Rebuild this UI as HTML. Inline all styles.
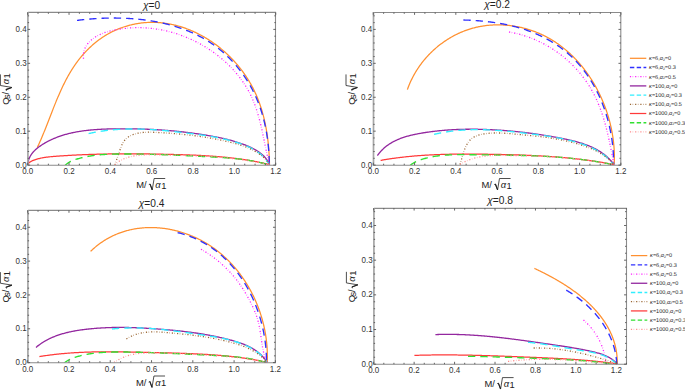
<!DOCTYPE html>
<html><head><meta charset="utf-8"><style>
html,body{margin:0;padding:0;background:#fff;}
body{width:685px;height:390px;overflow:hidden;}
svg{display:block;}
text{font-family:"Liberation Sans",sans-serif;}
.tl text{font-size:8.7px;fill:#333;}
.ti{font-size:10.2px;fill:#222;}
.al text{font-size:9.4px;fill:#222;}
.lg{font-size:5.55px;fill:#222;text-rendering:geometricPrecision;}
.gi{font-style:italic;}
</style></head><body>
<svg width="685" height="390" viewBox="0 0 685 390">
<rect width="685" height="390" fill="#fff"/>
<clipPath id="clip_p1"><rect x="27.70" y="12.44" width="248.04" height="152.66"/></clipPath>
<g clip-path="url(#clip_p1)" fill="none" stroke-linejoin="round">
<path d="M37.30 147.50L37.63 146.80L37.96 146.09L38.29 145.39L38.62 144.68L38.94 143.97L39.27 143.26L39.59 142.55L39.91 141.83L40.22 141.11L40.54 140.39L40.85 139.67L41.17 138.95L41.48 138.23L41.79 137.50L42.09 136.77L42.40 136.04L42.71 135.31L43.01 134.58L43.31 133.85L43.61 133.11L43.92 132.37L44.21 131.64L44.51 130.90L44.81 130.16L45.11 129.42L45.40 128.67L45.70 127.93L45.99 127.19L46.29 126.44L46.58 125.70L46.88 124.95L47.17 124.20L47.46 123.45L47.75 122.70L48.05 121.95L48.34 121.20L48.63 120.45L48.92 119.70L49.21 118.95L49.50 118.19L49.79 117.44L50.09 116.69L50.38 115.93L50.67 115.18L50.96 114.43L51.26 113.67L51.55 112.92L51.84 112.16L52.14 111.41L52.43 110.65L52.73 109.90L53.03 109.14L53.32 108.39L53.62 107.63L53.92 106.88L54.22 106.13L54.52 105.37L54.82 104.62L55.13 103.87L55.43 103.12L55.74 102.37L56.04 101.61L56.35 100.86L56.66 100.11L56.97 99.37L57.29 98.62L57.60 97.87L57.92 97.12L58.24 96.38L58.55 95.63L58.88 94.89L59.20 94.15L59.53 93.41L59.85 92.66L60.18 91.93L60.51 91.19L60.85 90.45L61.18 89.72L61.52 88.98L61.86 88.25L62.21 87.52L62.55 86.79L62.90 86.06L63.25 85.33L63.60 84.61L63.96 83.88L64.32 83.16L64.68 82.44L65.05 81.72L65.41 81.01L65.78 80.29L66.16 79.58L66.54 78.87L66.92 78.16L67.30 77.46L67.68 76.75L68.07 76.05L68.47 75.35L68.86 74.65L69.26 73.96L69.67 73.26L70.08 72.57L70.49 71.89L70.90 71.20L71.32 70.52L71.74 69.84L72.17 69.16L72.60 68.49L73.04 67.81L73.47 67.14L73.92 66.48L74.36 65.81L74.82 65.15L75.27 64.50L75.73 63.84L76.20 63.19L76.67 62.54L77.14 61.90L77.62 61.25L78.10 60.61L78.59 59.98L79.08 59.35L79.57 58.72L80.07 58.09L80.58 57.47L81.09 56.85L81.60 56.24L82.12 55.63L82.64 55.02L83.17 54.42L83.70 53.82L84.23 53.23L84.77 52.63L85.32 52.05L85.86 51.47L86.42 50.89L86.97 50.31L87.53 49.74L88.10 49.18L88.67 48.62L89.24 48.06L89.82 47.51L90.40 46.96L90.99 46.42L91.58 45.88L92.17 45.35L92.77 44.82L93.37 44.30L93.98 43.78L94.59 43.27L95.20 42.76L95.82 42.26L96.44 41.76L97.07 41.27L97.70 40.78L98.34 40.30L98.98 39.83L99.62 39.36L100.27 38.89L100.92 38.43L101.57 37.98L102.23 37.53L102.89 37.09L103.56 36.65L104.23 36.22L104.91 35.80L105.59 35.38L106.27 34.97L106.95 34.56L107.64 34.17L108.34 33.77L109.04 33.39L109.74 33.01L110.44 32.63L111.15 32.26L111.87 31.90L112.58 31.55L113.30 31.20L114.02 30.86L114.75 30.52L115.48 30.19L116.21 29.87L116.95 29.56L117.68 29.25L118.43 28.95L119.17 28.65L119.92 28.36L120.66 28.08L121.42 27.80L122.17 27.53L122.93 27.27L123.68 27.01L124.44 26.76L125.21 26.52L125.97 26.28L126.74 26.05L127.51 25.83L128.28 25.62L129.05 25.41L129.82 25.20L130.60 25.01L131.38 24.82L132.15 24.64L132.93 24.46L133.71 24.29L134.50 24.13L135.28 23.98L136.06 23.83L136.85 23.69L137.63 23.56L138.42 23.43L139.21 23.31L140.00 23.20L140.78 23.09L141.57 22.99L142.36 22.90L143.15 22.82L143.94 22.74L144.73 22.67L145.52 22.61L146.31 22.55L147.10 22.50L147.89 22.46L148.68 22.42L149.47 22.40L150.26 22.37L151.05 22.36L151.84 22.35L152.63 22.35L153.42 22.36L154.21 22.37L154.99 22.39L155.78 22.42L156.57 22.46L157.35 22.50L158.14 22.54L158.93 22.60L159.71 22.66L160.50 22.73L161.28 22.80L162.06 22.88L162.84 22.97L163.63 23.06L164.41 23.16L165.19 23.27L165.97 23.38L166.74 23.50L167.52 23.62L168.30 23.75L169.07 23.89L169.85 24.04L170.62 24.19L171.40 24.34L172.17 24.51L172.94 24.67L173.71 24.85L174.48 25.03L175.24 25.22L176.01 25.41L176.78 25.61L177.54 25.81L178.30 26.03L179.06 26.24L179.82 26.46L180.58 26.69L181.34 26.93L182.09 27.17L182.85 27.41L183.60 27.66L184.35 27.92L185.10 28.18L185.85 28.45L186.59 28.73L187.34 29.00L188.08 29.29L188.82 29.58L189.56 29.88L190.30 30.18L191.04 30.48L191.77 30.80L192.50 31.11L193.23 31.44L193.96 31.76L194.69 32.10L195.41 32.43L196.13 32.78L196.85 33.13L197.57 33.48L198.29 33.84L199.00 34.20L199.71 34.57L200.42 34.95L201.13 35.33L201.84 35.71L202.54 36.10L203.24 36.49L203.94 36.89L204.63 37.29L205.33 37.70L206.02 38.11L206.71 38.53L207.39 38.95L208.08 39.38L208.76 39.81L209.44 40.25L210.11 40.69L210.78 41.14L211.45 41.59L212.12 42.04L212.79 42.50L213.45 42.96L214.11 43.43L214.76 43.90L215.42 44.38L216.07 44.86L216.72 45.34L217.36 45.83L218.00 46.33L218.64 46.82L219.28 47.33L219.91 47.83L220.54 48.34L221.17 48.86L221.79 49.37L222.41 49.90L223.03 50.42L223.64 50.95L224.25 51.49L224.86 52.02L225.46 52.57L226.06 53.11L226.66 53.66L227.25 54.21L227.84 54.77L228.43 55.33L229.01 55.90L229.59 56.46L230.16 57.03L230.74 57.61L231.30 58.19L231.87 58.77L232.43 59.36L232.99 59.94L233.54 60.54L234.09 61.13L234.64 61.73L235.18 62.34L235.72 62.94L236.25 63.55L236.78 64.16L237.31 64.78L237.83 65.40L238.35 66.02L238.86 66.64L239.37 67.27L239.88 67.90L240.38 68.54L240.87 69.18L241.37 69.82L241.86 70.46L242.34 71.11L242.82 71.75L243.30 72.41L243.77 73.06L244.23 73.72L244.70 74.38L245.15 75.04L245.61 75.71L246.06 76.38L246.50 77.05L246.94 77.72L247.38 78.40L247.81 79.08L248.23 79.76L248.65 80.44L249.07 81.13L249.48 81.82L249.89 82.51L250.29 83.20L250.69 83.90L251.08 84.59L251.47 85.30L251.85 86.00L252.23 86.70L252.60 87.41L252.97 88.12L253.33 88.83L253.68 89.54L254.04 90.26L254.38 90.98L254.73 91.70L255.07 92.42L255.40 93.14L255.73 93.87L256.05 94.60L256.37 95.33L256.69 96.06L257.00 96.79L257.30 97.53L257.60 98.26L257.90 99.00L258.19 99.74L258.48 100.48L258.76 101.23L259.04 101.97L259.31 102.72L259.58 103.47L259.85 104.22L260.11 104.97L260.36 105.73L260.62 106.48L260.87 107.24L261.11 108.00L261.35 108.76L261.58 109.52L261.82 110.28L262.04 111.04L262.27 111.81L262.49 112.58L262.70 113.34L262.91 114.11L263.12 114.88L263.33 115.65L263.52 116.43L263.72 117.20L263.91 117.98L264.10 118.75L264.29 119.53L264.47 120.31L264.64 121.09L264.82 121.87L264.99 122.65L265.15 123.43L265.32 124.21L265.47 125.00L265.63 125.78L265.78 126.57L265.93 127.36L266.08 128.14L266.22 128.93L266.35 129.72L266.49 130.51L266.62 131.30L266.75 132.09L266.87 132.88L267.00 133.68L267.11 134.47L267.23 135.26L267.34 136.06L267.45 136.85L267.56 137.65L267.66 138.44L267.76 139.24L267.85 140.04L267.95 140.83L268.04 141.63L268.13 142.43L268.21 143.23L268.29 144.02L268.37 144.82L268.45 145.62L268.52 146.42L268.59 147.22L268.66 148.02L268.72 148.82L268.79 149.62L268.85 150.42L268.90 151.22L268.96 152.02L269.01 152.82L269.06 153.62L269.11 154.42L269.15 155.22L269.19 156.02L269.23 156.82L269.27 157.62L269.30 158.42L269.34 159.21L269.37 160.01L269.39 160.81L269.42 161.61L269.44 162.41L269.46 163.21L269.48 164.00L269.50 164.80" stroke="#ff9030" stroke-width="1.25" stroke-linecap="butt"/>
<path d="M77.00 20.40L77.76 20.31L78.53 20.21L79.29 20.12L80.06 20.03L80.83 19.94L81.60 19.86L82.37 19.77L83.14 19.69L83.92 19.61L84.69 19.53L85.47 19.46L86.25 19.38L87.03 19.31L87.81 19.24L88.59 19.17L89.38 19.10L90.16 19.03L90.95 18.97L91.73 18.91L92.52 18.85L93.31 18.79L94.10 18.73L94.89 18.68L95.69 18.63L96.48 18.58L97.28 18.53L98.07 18.48L98.87 18.44L99.66 18.40L100.46 18.36L101.26 18.32L102.06 18.29L102.86 18.26L103.66 18.23L104.47 18.20L105.27 18.17L106.07 18.15L106.88 18.13L107.68 18.11L108.49 18.09L109.30 18.08L110.10 18.06L110.91 18.05L111.72 18.05L112.53 18.04L113.34 18.04L114.14 18.04L114.95 18.04L115.76 18.04L116.58 18.05L117.39 18.06L118.20 18.07L119.01 18.09L119.82 18.11L120.63 18.12L121.44 18.15L122.26 18.17L123.07 18.20L123.88 18.23L124.69 18.26L125.51 18.30L126.32 18.34L127.13 18.38L127.95 18.42L128.76 18.47L129.57 18.51L130.39 18.57L131.20 18.62L132.01 18.68L132.82 18.74L133.64 18.80L134.45 18.87L135.26 18.93L136.07 19.01L136.88 19.08L137.69 19.16L138.50 19.24L139.31 19.32L140.12 19.41L140.93 19.49L141.74 19.59L142.55 19.68L143.36 19.78L144.17 19.88L144.97 19.98L145.78 20.09L146.59 20.20L147.39 20.31L148.20 20.43L149.00 20.55L149.80 20.67L150.61 20.80L151.41 20.93L152.21 21.06L153.01 21.19L153.81 21.33L154.61 21.47L155.41 21.62L156.20 21.77L157.00 21.92L157.79 22.07L158.59 22.23L159.38 22.39L160.17 22.56L160.96 22.73L161.75 22.90L162.54 23.07L163.33 23.25L164.11 23.43L164.90 23.62L165.68 23.81L166.47 24.00L167.25 24.19L168.03 24.39L168.81 24.60L169.58 24.80L170.36 25.01L171.14 25.23L171.91 25.44L172.68 25.66L173.45 25.89L174.22 26.12L174.99 26.35L175.75 26.58L176.52 26.82L177.28 27.07L178.04 27.31L178.80 27.56L179.56 27.82L180.32 28.07L181.07 28.34L181.82 28.60L182.57 28.87L183.32 29.14L184.07 29.42L184.81 29.70L185.56 29.99L186.30 30.28L187.04 30.57L187.78 30.86L188.51 31.17L189.25 31.47L189.98 31.78L190.71 32.09L191.43 32.41L192.16 32.73L192.88 33.05L193.60 33.38L194.32 33.71L195.04 34.05L195.75 34.39L196.47 34.74L197.17 35.09L197.88 35.44L198.59 35.80L199.29 36.16L199.99 36.53L200.69 36.90L201.38 37.27L202.08 37.65L202.77 38.03L203.46 38.42L204.14 38.81L204.82 39.21L205.50 39.61L206.18 40.01L206.86 40.42L207.53 40.84L208.20 41.26L208.86 41.68L209.53 42.11L210.19 42.54L210.85 42.97L211.50 43.41L212.16 43.86L212.81 44.31L213.45 44.76L214.10 45.22L214.74 45.68L215.38 46.15L216.01 46.62L216.64 47.10L217.27 47.58L217.90 48.06L218.52 48.55L219.14 49.04L219.76 49.54L220.37 50.04L220.98 50.55L221.59 51.06L222.19 51.57L222.80 52.09L223.39 52.61L223.99 53.14L224.58 53.67L225.17 54.20L225.75 54.74L226.33 55.28L226.91 55.82L227.49 56.37L228.06 56.92L228.63 57.48L229.19 58.04L229.75 58.60L230.31 59.17L230.87 59.74L231.42 60.32L231.96 60.90L232.51 61.48L233.05 62.07L233.59 62.65L234.12 63.25L234.65 63.84L235.18 64.44L235.70 65.05L236.22 65.65L236.73 66.26L237.24 66.88L237.75 67.49L238.26 68.11L238.76 68.73L239.25 69.36L239.75 69.99L240.23 70.62L240.72 71.26L241.20 71.90L241.68 72.54L242.15 73.18L242.62 73.83L243.09 74.48L243.55 75.14L244.01 75.79L244.46 76.45L244.91 77.12L245.36 77.78L245.80 78.45L246.24 79.12L246.67 79.80L247.10 80.47L247.53 81.15L247.95 81.83L248.37 82.52L248.78 83.21L249.19 83.90L249.60 84.59L250.00 85.29L250.39 85.98L250.79 86.68L251.17 87.39L251.56 88.09L251.94 88.80L252.31 89.51L252.68 90.22L253.05 90.94L253.41 91.66L253.77 92.38L254.12 93.10L254.47 93.82L254.82 94.55L255.16 95.28L255.49 96.01L255.82 96.74L256.15 97.47L256.47 98.21L256.79 98.95L257.10 99.69L257.41 100.43L257.71 101.18L258.01 101.93L258.31 102.67L258.60 103.43L258.89 104.18L259.17 104.93L259.44 105.69L259.72 106.45L259.99 107.20L260.25 107.97L260.51 108.73L260.77 109.49L261.02 110.26L261.27 111.02L261.51 111.79L261.75 112.56L261.98 113.33L262.22 114.11L262.44 114.88L262.66 115.66L262.88 116.43L263.10 117.21L263.31 117.99L263.51 118.77L263.72 119.55L263.92 120.33L264.11 121.12L264.30 121.90L264.49 122.69L264.67 123.47L264.85 124.26L265.02 125.05L265.20 125.84L265.36 126.63L265.53 127.42L265.69 128.21L265.84 129.00L265.99 129.79L266.14 130.58L266.29 131.38L266.43 132.17L266.57 132.97L266.70 133.76L266.83 134.56L266.96 135.35L267.08 136.15L267.20 136.95L267.32 137.75L267.43 138.54L267.54 139.34L267.64 140.14L267.75 140.94L267.84 141.74L267.94 142.53L268.03 143.33L268.12 144.13L268.21 144.93L268.29 145.73L268.37 146.53L268.44 147.33L268.51 148.12L268.58 148.92L268.65 149.72L268.71 150.52L268.77 151.32L268.82 152.11L268.88 152.91L268.93 153.71L268.97 154.50L269.01 155.30L269.05 156.09L269.09 156.89L269.13 157.68L269.16 158.48L269.18 159.27L269.21 160.06L269.23 160.85L269.25 161.64L269.27 162.43L269.28 163.22L269.29 164.01L269.30 164.80" stroke="#3030ff" stroke-width="1.35" stroke-dasharray="7.3 5.0" stroke-linecap="butt"/>
<path d="M83.50 58.80L83.42 57.90L83.37 57.02L83.36 56.15L83.38 55.29L83.43 54.46L83.52 53.64L83.64 52.83L83.79 52.04L83.97 51.27L84.18 50.51L84.41 49.77L84.68 49.04L84.97 48.33L85.29 47.63L85.63 46.95L85.99 46.28L86.38 45.63L86.79 44.99L87.23 44.37L87.68 43.76L88.15 43.17L88.65 42.59L89.16 42.03L89.68 41.48L90.23 40.94L90.79 40.42L91.36 39.92L91.95 39.42L92.55 38.94L93.17 38.48L93.79 38.03L94.43 37.59L95.08 37.17L95.74 36.75L96.40 36.36L97.08 35.97L97.77 35.60L98.46 35.24L99.17 34.89L99.88 34.55L100.60 34.22L101.33 33.91L102.07 33.60L102.81 33.31L103.56 33.02L104.31 32.75L105.07 32.49L105.84 32.23L106.61 31.99L107.39 31.75L108.17 31.52L108.96 31.31L109.75 31.10L110.54 30.89L111.34 30.70L112.13 30.51L112.94 30.34L113.74 30.16L114.54 30.00L115.35 29.84L116.16 29.69L116.97 29.54L117.78 29.40L118.59 29.27L119.40 29.14L120.21 29.02L121.01 28.90L121.82 28.79L122.63 28.68L123.44 28.58L124.25 28.48L125.06 28.39L125.87 28.31L126.68 28.23L127.49 28.16L128.29 28.09L129.10 28.02L129.91 27.97L130.72 27.91L131.52 27.87L132.33 27.83L133.14 27.79L133.94 27.76L134.75 27.73L135.55 27.71L136.36 27.70L137.16 27.69L137.97 27.69L138.77 27.69L139.58 27.69L140.38 27.71L141.18 27.72L141.98 27.74L142.78 27.77L143.58 27.80L144.38 27.84L145.18 27.89L145.98 27.93L146.78 27.99L147.58 28.05L148.37 28.11L149.17 28.18L149.97 28.25L150.76 28.33L151.56 28.41L152.35 28.50L153.14 28.60L153.93 28.70L154.72 28.80L155.51 28.91L156.30 29.02L157.09 29.14L157.88 29.27L158.66 29.40L159.45 29.53L160.23 29.67L161.02 29.81L161.80 29.96L162.58 30.12L163.36 30.27L164.14 30.44L164.92 30.61L165.69 30.78L166.47 30.96L167.24 31.14L168.02 31.33L168.79 31.52L169.56 31.72L170.33 31.92L171.10 32.13L171.87 32.34L172.63 32.56L173.40 32.78L174.16 33.00L174.92 33.23L175.68 33.47L176.44 33.71L177.20 33.95L177.96 34.20L178.71 34.46L179.47 34.72L180.22 34.98L180.97 35.25L181.72 35.52L182.47 35.80L183.21 36.08L183.96 36.36L184.70 36.66L185.44 36.95L186.18 37.25L186.92 37.55L187.66 37.86L188.39 38.18L189.13 38.50L189.86 38.82L190.59 39.14L191.32 39.48L192.04 39.81L192.77 40.15L193.49 40.50L194.21 40.85L194.93 41.20L195.64 41.56L196.36 41.92L197.07 42.29L197.78 42.66L198.49 43.03L199.20 43.41L199.91 43.79L200.61 44.18L201.31 44.57L202.01 44.97L202.71 45.37L203.40 45.78L204.09 46.19L204.78 46.60L205.47 47.02L206.15 47.44L206.84 47.86L207.52 48.29L208.19 48.73L208.87 49.17L209.54 49.61L210.21 50.06L210.88 50.51L211.54 50.96L212.20 51.42L212.86 51.88L213.52 52.35L214.17 52.82L214.82 53.29L215.47 53.77L216.11 54.25L216.75 54.74L217.39 55.23L218.03 55.72L218.66 56.22L219.29 56.72L219.91 57.23L220.54 57.74L221.16 58.25L221.77 58.77L222.38 59.29L222.99 59.81L223.60 60.34L224.20 60.87L224.80 61.41L225.39 61.95L225.99 62.49L226.57 63.03L227.16 63.59L227.74 64.14L228.31 64.70L228.89 65.26L229.46 65.82L230.02 66.39L230.58 66.96L231.14 67.54L231.69 68.12L232.24 68.70L232.79 69.28L233.33 69.87L233.87 70.47L234.40 71.06L234.93 71.66L235.45 72.26L235.97 72.87L236.49 73.48L237.00 74.09L237.51 74.71L238.01 75.33L238.51 75.95L239.00 76.58L239.49 77.21L239.97 77.84L240.45 78.48L240.93 79.12L241.40 79.76L241.86 80.41L242.33 81.06L242.78 81.71L243.23 82.37L243.68 83.02L244.12 83.69L244.56 84.35L244.99 85.02L245.41 85.69L245.84 86.36L246.25 87.04L246.66 87.72L247.07 88.41L247.47 89.09L247.86 89.78L248.25 90.47L248.64 91.17L249.02 91.87L249.39 92.57L249.76 93.27L250.12 93.98L250.48 94.69L250.83 95.40L251.17 96.12L251.51 96.84L251.85 97.56L252.18 98.28L252.50 99.01L252.82 99.74L253.13 100.47L253.44 101.21L253.74 101.95L254.03 102.69L254.32 103.43L254.61 104.17L254.89 104.92L255.17 105.67L255.44 106.42L255.71 107.18L255.97 107.93L256.23 108.69L256.48 109.45L256.73 110.21L256.97 110.97L257.22 111.74L257.45 112.51L257.69 113.27L257.92 114.05L258.14 114.82L258.36 115.59L258.58 116.37L258.80 117.14L259.01 117.92L259.22 118.70L259.43 119.48L259.63 120.26L259.83 121.04L260.03 121.82L260.22 122.61L260.42 123.39L260.61 124.18L260.79 124.97L260.98 125.75L261.16 126.54L261.34 127.33L261.52 128.12L261.70 128.91L261.88 129.70L262.05 130.49L262.22 131.28L262.39 132.07L262.56 132.87L262.73 133.66L262.90 134.45L263.06 135.24L263.23 136.03L263.39 136.82L263.55 137.62L263.72 138.41L263.88 139.20L264.04 139.99L264.20 140.78L264.36 141.57L264.52 142.36L264.68 143.15L264.84 143.94L265.00 144.73L265.16 145.51L265.32 146.30L265.48 147.09L265.64 147.87L265.80 148.66L265.96 149.44L266.13 150.22L266.29 151.00L266.46 151.78L266.62 152.56L266.79 153.34L266.96 154.11L267.13 154.89L267.30 155.66L267.47 156.43L267.65 157.20L267.82 157.97L268.00 158.74L268.18 159.50L268.36 160.26L268.54 161.02L268.73 161.78L268.92 162.54L269.11 163.30L269.30 164.05L269.50 164.80" stroke="#ff1aff" stroke-width="1.3" stroke-dasharray="1.2 1.6 0.45 1.95" stroke-linecap="butt"/>
<path d="M27.70 165.10L27.76 164.22L27.86 163.36L28.00 162.53L28.16 161.71L28.36 160.91L28.58 160.12L28.83 159.36L29.11 158.61L29.42 157.89L29.75 157.17L30.11 156.48L30.49 155.80L30.89 155.14L31.32 154.49L31.77 153.85L32.23 153.23L32.72 152.63L33.22 152.04L33.75 151.46L34.29 150.90L34.84 150.35L35.41 149.81L35.99 149.28L36.59 148.76L37.19 148.26L37.81 147.76L38.44 147.28L39.08 146.81L39.72 146.34L40.38 145.89L41.03 145.44L41.70 145.00L42.37 144.57L43.04 144.15L43.71 143.74L44.39 143.33L45.08 142.93L45.76 142.54L46.45 142.15L47.14 141.77L47.84 141.40L48.54 141.04L49.24 140.68L49.95 140.33L50.66 139.99L51.37 139.66L52.08 139.33L52.80 139.01L53.52 138.69L54.25 138.38L54.97 138.08L55.70 137.78L56.44 137.49L57.17 137.21L57.91 136.93L58.65 136.66L59.39 136.40L60.14 136.14L60.88 135.89L61.63 135.64L62.39 135.40L63.14 135.16L63.90 134.93L64.66 134.71L65.42 134.49L66.19 134.28L66.95 134.07L67.72 133.87L68.49 133.67L69.26 133.48L70.04 133.29L70.81 133.11L71.59 132.93L72.37 132.76L73.15 132.59L73.94 132.43L74.72 132.27L75.51 132.12L76.30 131.97L77.09 131.83L77.88 131.69L78.67 131.55L79.47 131.42L80.26 131.30L81.06 131.17L81.86 131.05L82.66 130.94L83.46 130.83L84.26 130.72L85.07 130.62L85.87 130.52L86.68 130.42L87.48 130.33L88.29 130.24L89.10 130.16L89.91 130.08L90.72 130.00L91.53 129.92L92.34 129.85L93.15 129.78L93.96 129.72L94.78 129.65L95.59 129.59L96.40 129.54L97.22 129.48L98.03 129.43L98.85 129.38L99.66 129.33L100.48 129.29L101.30 129.25L102.11 129.21L102.93 129.17L103.75 129.14L104.56 129.10L105.38 129.07L106.20 129.04L107.01 129.02L107.83 128.99L108.65 128.97L109.46 128.95L110.28 128.93L111.09 128.91L111.91 128.89L112.72 128.88L113.54 128.86L114.35 128.85L115.17 128.84L115.98 128.83L116.79 128.82L117.60 128.81L118.41 128.80L119.22 128.80L120.03 128.79L120.84 128.79L121.65 128.78L122.46 128.78L123.26 128.78L124.07 128.78L124.88 128.78L125.68 128.78L126.49 128.78L127.29 128.79L128.09 128.79L128.90 128.80L129.70 128.80L130.50 128.81L131.30 128.82L132.10 128.83L132.90 128.84L133.70 128.85L134.50 128.87L135.30 128.88L136.10 128.90L136.90 128.91L137.69 128.93L138.49 128.95L139.29 128.97L140.08 128.99L140.88 129.01L141.68 129.03L142.47 129.06L143.27 129.08L144.06 129.11L144.85 129.14L145.65 129.17L146.44 129.20L147.23 129.23L148.03 129.26L148.82 129.29L149.61 129.33L150.40 129.36L151.19 129.40L151.99 129.44L152.78 129.48L153.57 129.52L154.36 129.56L155.15 129.60L155.94 129.65L156.73 129.69L157.52 129.74L158.31 129.79L159.10 129.84L159.89 129.89L160.67 129.94L161.46 129.99L162.25 130.05L163.04 130.10L163.83 130.16L164.62 130.22L165.41 130.28L166.19 130.34L166.98 130.40L167.77 130.46L168.56 130.53L169.35 130.59L170.13 130.66L170.92 130.73L171.71 130.80L172.50 130.87L173.29 130.94L174.07 131.02L174.86 131.09L175.65 131.17L176.44 131.24L177.23 131.32L178.01 131.40L178.80 131.49L179.59 131.57L180.38 131.65L181.17 131.74L181.96 131.83L182.74 131.92L183.53 132.01L184.32 132.10L185.11 132.19L185.90 132.29L186.69 132.38L187.48 132.48L188.27 132.58L189.06 132.68L189.85 132.78L190.64 132.88L191.43 132.99L192.22 133.10L193.01 133.20L193.81 133.31L194.60 133.42L195.39 133.53L196.18 133.65L196.97 133.76L197.77 133.88L198.56 134.00L199.36 134.12L200.15 134.24L200.94 134.36L201.74 134.48L202.53 134.61L203.33 134.74L204.12 134.87L204.92 135.00L205.72 135.13L206.51 135.26L207.31 135.40L208.11 135.53L208.91 135.67L209.71 135.81L210.51 135.95L211.31 136.09L212.11 136.24L212.91 136.39L213.71 136.53L214.51 136.68L215.31 136.84L216.11 136.99L216.91 137.15L217.71 137.31L218.51 137.47L219.31 137.63L220.11 137.80L220.91 137.97L221.71 138.14L222.50 138.31L223.30 138.49L224.10 138.67L224.89 138.85L225.68 139.04L226.48 139.23L227.27 139.42L228.06 139.62L228.85 139.82L229.64 140.02L230.42 140.23L231.21 140.44L231.99 140.65L232.77 140.87L233.55 141.09L234.33 141.31L235.11 141.54L235.88 141.78L236.65 142.02L237.42 142.26L238.19 142.51L238.95 142.76L239.72 143.01L240.48 143.27L241.23 143.54L241.99 143.81L242.74 144.08L243.49 144.36L244.24 144.65L244.98 144.94L245.72 145.23L246.46 145.53L247.19 145.84L247.92 146.15L248.65 146.46L249.37 146.79L250.10 147.11L250.81 147.45L251.53 147.79L252.23 148.13L252.94 148.49L253.64 148.85L254.33 149.22L255.02 149.59L255.70 149.98L256.37 150.37L257.03 150.78L257.69 151.19L258.34 151.62L258.98 152.06L259.61 152.51L260.23 152.97L260.84 153.44L261.44 153.93L262.03 154.43L262.61 154.94L263.18 155.47L263.73 156.01L264.27 156.57L264.80 157.14L265.31 157.73L265.81 158.33L266.30 158.96L266.77 159.60L267.22 160.25L267.66 160.93L268.08 161.62L268.49 162.34L268.88 163.07L269.25 163.83L269.60 164.60" stroke="#93279f" stroke-width="1.3" stroke-linecap="butt"/>
<path d="M88.60 133.60L89.40 133.42L90.20 133.25L90.99 133.07L91.79 132.91L92.59 132.74L93.39 132.58L94.18 132.43L94.98 132.28L95.78 132.13L96.58 131.98L97.37 131.84L98.17 131.71L98.97 131.57L99.76 131.45L100.56 131.32L101.36 131.20L102.15 131.08L102.95 130.97L103.75 130.85L104.54 130.75L105.34 130.64L106.13 130.54L106.93 130.44L107.73 130.35L108.52 130.26L109.32 130.17L110.11 130.09L110.91 130.01L111.70 129.93L112.50 129.86L113.29 129.78L114.09 129.72L114.88 129.65L115.68 129.59L116.47 129.53L117.27 129.48L118.06 129.42L118.86 129.37L119.65 129.33L120.45 129.28L121.24 129.24L122.04 129.21L122.83 129.17L123.63 129.14L124.42 129.11L125.22 129.08L126.01 129.06L126.81 129.04L127.60 129.02L128.40 129.00L129.19 128.99L129.99 128.98L130.78 128.97L131.58 128.97L132.37 128.96L133.16 128.96L133.96 128.96L134.75 128.97L135.55 128.97L136.34 128.98L137.14 129.00L137.93 129.01L138.73 129.02L139.52 129.04L140.32 129.06L141.11 129.09L141.91 129.11L142.70 129.14L143.50 129.17L144.29 129.20L145.09 129.23L145.88 129.26L146.68 129.30L147.47 129.34L148.27 129.38L149.07 129.42L149.86 129.47L150.66 129.52L151.45 129.56L152.25 129.61L153.04 129.67L153.84 129.72L154.64 129.77L155.43 129.83L156.23 129.89L157.03 129.95L157.82 130.01L158.62 130.08L159.41 130.14L160.21 130.21L161.01 130.27L161.81 130.34L162.60 130.41L163.40 130.49L164.20 130.56L164.99 130.63L165.79 130.71L166.59 130.79L167.39 130.87L168.19 130.95L168.98 131.03L169.78 131.11L170.58 131.19L171.38 131.28L172.18 131.36L172.98 131.45L173.78 131.53L174.58 131.62L175.38 131.71L176.17 131.80L176.97 131.89L177.77 131.98L178.57 132.08L179.37 132.17L180.18 132.26L180.98 132.36L181.78 132.46L182.58 132.55L183.38 132.65L184.18 132.75L184.98 132.84L185.78 132.94L186.59 133.04L187.39 133.14L188.19 133.24L188.99 133.34L189.80 133.45L190.60 133.55L191.40 133.65L192.21 133.75L193.01 133.86L193.81 133.96L194.62 134.06L195.42 134.17L196.22 134.28L197.03 134.38L197.83 134.49L198.63 134.60L199.44 134.71L200.24 134.82L201.04 134.94L201.85 135.05L202.65 135.16L203.45 135.28L204.25 135.40L205.06 135.52L205.86 135.64L206.66 135.77L207.46 135.89L208.26 136.02L209.06 136.15L209.86 136.28L210.66 136.41L211.45 136.54L212.25 136.68L213.05 136.82L213.84 136.96L214.64 137.11L215.43 137.25L216.23 137.40L217.02 137.55L217.81 137.71L218.60 137.87L219.39 138.03L220.18 138.19L220.97 138.35L221.76 138.52L222.55 138.69L223.33 138.87L224.12 139.04L224.90 139.23L225.68 139.41L226.46 139.60L227.24 139.79L228.02 139.98L228.80 140.18L229.57 140.38L230.35 140.59L231.12 140.80L231.89 141.01L232.66 141.23L233.43 141.45L234.20 141.67L234.96 141.90L235.73 142.13L236.49 142.37L237.25 142.61L238.01 142.86L238.77 143.11L239.53 143.36L240.28 143.62L241.03 143.88L241.78 144.15L242.53 144.42L243.28 144.70L244.02 144.99L244.76 145.28L245.50 145.58L246.23 145.88L246.96 146.19L247.68 146.50L248.41 146.83L249.12 147.16L249.83 147.49L250.54 147.84L251.24 148.19L251.94 148.55L252.63 148.92L253.31 149.30L253.99 149.69L254.66 150.08L255.33 150.49L255.99 150.90L256.64 151.33L257.28 151.76L257.92 152.21L258.55 152.66L259.17 153.13L259.78 153.60L260.38 154.09L260.98 154.59L261.56 155.10L262.14 155.63L262.71 156.16L263.26 156.71L263.81 157.27L264.35 157.84L264.87 158.43L265.39 159.02L265.89 159.64L266.39 160.26L266.87 160.90L267.34 161.56L267.80 162.23L268.24 162.91L268.67 163.61L269.10 164.32L269.50 165.05" stroke="#30eeff" stroke-width="1.35" stroke-dasharray="7.3 5.0" stroke-linecap="butt"/>
<path d="M115.00 165.00L115.21 164.24L115.42 163.48L115.65 162.73L115.88 161.98L116.12 161.24L116.36 160.49L116.61 159.75L116.86 159.00L117.12 158.26L117.38 157.51L117.64 156.76L117.91 156.00L118.17 155.24L118.44 154.47L118.71 153.70L118.97 152.92L119.24 152.13L119.50 151.34L119.77 150.54L120.04 149.74L120.32 148.94L120.61 148.15L120.90 147.36L121.20 146.58L121.52 145.80L121.85 145.04L122.19 144.30L122.55 143.57L122.93 142.86L123.33 142.17L123.75 141.50L124.19 140.86L124.66 140.24L125.15 139.66L125.67 139.10L126.22 138.58L126.79 138.08L127.38 137.61L128.00 137.17L128.63 136.75L129.28 136.36L129.95 135.99L130.63 135.65L131.32 135.32L132.02 135.02L132.74 134.74L133.46 134.47L134.19 134.22L134.93 133.99L135.67 133.78L136.42 133.58L137.18 133.40L137.94 133.23L138.70 133.08L139.48 132.94L140.25 132.82L141.04 132.70L141.82 132.61L142.62 132.52L143.41 132.44L144.21 132.38L145.01 132.32L145.82 132.28L146.63 132.25L147.44 132.22L148.26 132.20L149.07 132.20L149.89 132.19L150.71 132.20L151.54 132.21L152.36 132.23L153.18 132.25L154.01 132.28L154.84 132.31L155.66 132.35L156.49 132.39L157.31 132.43L158.14 132.48L158.96 132.53L159.79 132.58L160.61 132.63L161.43 132.68L162.25 132.73L163.06 132.78L163.88 132.83L164.70 132.89L165.51 132.94L166.32 132.99L167.13 133.05L167.94 133.11L168.75 133.17L169.56 133.22L170.37 133.28L171.17 133.35L171.98 133.41L172.78 133.47L173.58 133.53L174.39 133.60L175.19 133.67L175.99 133.73L176.78 133.80L177.58 133.87L178.38 133.94L179.18 134.01L179.97 134.09L180.76 134.16L181.56 134.24L182.35 134.31L183.14 134.39L183.93 134.47L184.72 134.55L185.51 134.63L186.30 134.72L187.09 134.80L187.88 134.89L188.67 134.98L189.45 135.07L190.24 135.16L191.03 135.25L191.81 135.35L192.60 135.44L193.38 135.54L194.17 135.64L194.95 135.74L195.73 135.84L196.51 135.94L197.30 136.05L198.08 136.16L198.86 136.26L199.64 136.37L200.42 136.49L201.21 136.60L201.99 136.72L202.77 136.84L203.55 136.95L204.33 137.08L205.11 137.20L205.89 137.33L206.67 137.45L207.45 137.58L208.23 137.71L209.01 137.85L209.79 137.98L210.57 138.12L211.35 138.26L212.14 138.40L212.92 138.54L213.70 138.69L214.48 138.84L215.26 138.99L216.04 139.14L216.83 139.29L217.61 139.45L218.39 139.61L219.17 139.77L219.96 139.93L220.74 140.10L221.53 140.27L222.31 140.44L223.10 140.61L223.88 140.79L224.67 140.96L225.45 141.14L226.24 141.33L227.03 141.51L227.82 141.70L228.61 141.89L229.40 142.08L230.19 142.28L230.98 142.47L231.77 142.67L232.56 142.88L233.35 143.09L234.14 143.30L234.93 143.51L235.72 143.73L236.51 143.95L237.30 144.18L238.09 144.41L238.87 144.64L239.65 144.88L240.43 145.13L241.21 145.38L241.99 145.63L242.76 145.89L243.53 146.16L244.29 146.43L245.06 146.71L245.82 147.00L246.57 147.29L247.32 147.59L248.07 147.90L248.81 148.21L249.55 148.53L250.28 148.86L251.00 149.20L251.72 149.54L252.44 149.90L253.15 150.26L253.85 150.63L254.55 151.01L255.24 151.39L255.92 151.79L256.59 152.20L257.26 152.61L257.92 153.04L258.57 153.47L259.22 153.92L259.85 154.38L260.48 154.84L261.10 155.32L261.71 155.81L262.31 156.31L262.90 156.82L263.48 157.34L264.05 157.88L264.61 158.43L265.16 158.98L265.70 159.56L266.23 160.14L266.74 160.74L267.25 161.35L267.74 161.97L268.23 162.61L268.70 163.26L269.15 163.92L269.60 164.60" stroke="#9a6633" stroke-width="1.3" stroke-dasharray="1.2 1.6 0.45 1.95" stroke-linecap="butt"/>
<path d="M27.70 165.10L27.96 164.34L28.33 163.67L28.77 163.08L29.29 162.56L29.87 162.11L30.49 161.70L31.16 161.34L31.85 161.00L32.56 160.69L33.28 160.40L34.00 160.12L34.73 159.86L35.47 159.60L36.21 159.36L36.96 159.14L37.71 158.92L38.46 158.72L39.23 158.53L39.99 158.35L40.76 158.17L41.54 158.01L42.31 157.86L43.10 157.72L43.88 157.58L44.67 157.46L45.46 157.34L46.26 157.22L47.05 157.12L47.85 157.02L48.65 156.93L49.46 156.84L50.26 156.75L51.07 156.68L51.88 156.60L52.69 156.53L53.50 156.46L54.31 156.40L55.12 156.33L55.93 156.27L56.74 156.21L57.55 156.16L58.36 156.10L59.17 156.04L59.98 155.98L60.79 155.93L61.60 155.87L62.41 155.82L63.21 155.77L64.02 155.72L64.83 155.66L65.64 155.61L66.45 155.56L67.25 155.52L68.06 155.47L68.87 155.42L69.67 155.37L70.48 155.33L71.28 155.28L72.09 155.24L72.89 155.20L73.70 155.15L74.50 155.11L75.31 155.07L76.11 155.03L76.91 154.99L77.72 154.95L78.52 154.91L79.32 154.88L80.13 154.84L80.93 154.81L81.73 154.77L82.53 154.74L83.34 154.70L84.14 154.67L84.94 154.64L85.74 154.61L86.54 154.57L87.34 154.54L88.14 154.52L88.94 154.49L89.74 154.46L90.54 154.43L91.34 154.40L92.14 154.38L92.94 154.35L93.74 154.33L94.54 154.30L95.34 154.28L96.14 154.26L96.94 154.24L97.74 154.21L98.54 154.19L99.33 154.17L100.13 154.15L100.93 154.14L101.73 154.12L102.53 154.10L103.32 154.08L104.12 154.07L104.92 154.05L105.72 154.03L106.51 154.02L107.31 154.01L108.11 153.99L108.91 153.98L109.70 153.97L110.50 153.96L111.30 153.94L112.09 153.93L112.89 153.92L113.69 153.91L114.48 153.90L115.28 153.90L116.08 153.89L116.87 153.88L117.67 153.87L118.46 153.87L119.26 153.86L120.06 153.86L120.85 153.85L121.65 153.85L122.45 153.84L123.24 153.84L124.04 153.84L124.83 153.84L125.63 153.84L126.42 153.83L127.22 153.83L128.02 153.83L128.81 153.83L129.61 153.83L130.40 153.84L131.20 153.84L132.00 153.84L132.79 153.84L133.59 153.84L134.38 153.85L135.18 153.85L135.98 153.86L136.77 153.86L137.57 153.87L138.36 153.87L139.16 153.88L139.96 153.88L140.75 153.89L141.55 153.90L142.34 153.91L143.14 153.91L143.94 153.92L144.73 153.93L145.53 153.94L146.33 153.95L147.12 153.96L147.92 153.97L148.72 153.98L149.52 153.99L150.31 154.00L151.11 154.02L151.91 154.03L152.70 154.04L153.50 154.05L154.30 154.07L155.10 154.08L155.90 154.09L156.69 154.11L157.49 154.12L158.29 154.14L159.09 154.15L159.89 154.17L160.69 154.18L161.48 154.20L162.28 154.22L163.08 154.23L163.88 154.25L164.68 154.27L165.48 154.29L166.28 154.30L167.08 154.32L167.88 154.34L168.68 154.36L169.48 154.38L170.28 154.40L171.08 154.42L171.89 154.44L172.69 154.46L173.49 154.48L174.29 154.50L175.09 154.52L175.89 154.54L176.70 154.56L177.50 154.58L178.30 154.61L179.10 154.63L179.90 154.65L180.71 154.68L181.51 154.70L182.31 154.73L183.12 154.75L183.92 154.78L184.72 154.80L185.53 154.83L186.33 154.86L187.13 154.89L187.93 154.92L188.74 154.95L189.54 154.98L190.34 155.01L191.15 155.04L191.95 155.07L192.75 155.10L193.56 155.14L194.36 155.17L195.16 155.21L195.97 155.24L196.77 155.28L197.57 155.32L198.38 155.36L199.18 155.40L199.98 155.44L200.79 155.48L201.59 155.52L202.39 155.57L203.20 155.61L204.00 155.66L204.80 155.70L205.60 155.75L206.41 155.80L207.21 155.85L208.01 155.90L208.81 155.95L209.61 156.00L210.41 156.06L211.22 156.11L212.02 156.17L212.82 156.23L213.62 156.28L214.42 156.34L215.22 156.40L216.02 156.47L216.82 156.53L217.62 156.60L218.42 156.66L219.22 156.73L220.02 156.80L220.82 156.87L221.62 156.94L222.42 157.01L223.21 157.09L224.01 157.16L224.81 157.24L225.61 157.32L226.40 157.40L227.20 157.48L228.00 157.56L228.79 157.65L229.59 157.73L230.39 157.82L231.18 157.91L231.98 158.00L232.77 158.09L233.56 158.19L234.36 158.28L235.15 158.38L235.95 158.48L236.74 158.58L237.53 158.68L238.32 158.79L239.11 158.90L239.91 159.00L240.70 159.11L241.49 159.22L242.28 159.34L243.07 159.45L243.85 159.57L244.64 159.69L245.43 159.81L246.22 159.93L247.01 160.06L247.79 160.18L248.58 160.31L249.36 160.44L250.15 160.58L250.93 160.71L251.72 160.85L252.50 160.99L253.29 161.13L254.07 161.27L254.85 161.42L255.63 161.56L256.41 161.71L257.19 161.86L257.97 162.02L258.75 162.17L259.53 162.33L260.31 162.49L261.09 162.65L261.86 162.82L262.64 162.99L263.42 163.16L264.19 163.33L264.97 163.50L265.74 163.68L266.51 163.86L267.29 164.04L268.06 164.22L268.83 164.41L269.60 164.60" stroke="#ff3a3a" stroke-width="1.25" stroke-linecap="butt"/>
<path d="M65.00 165.60L65.55 165.02L66.12 164.48L66.71 163.97L67.32 163.49L67.94 163.04L68.59 162.61L69.25 162.21L69.92 161.83L70.61 161.47L71.31 161.13L72.02 160.81L72.74 160.51L73.47 160.23L74.20 159.95L74.94 159.69L75.69 159.45L76.44 159.21L77.20 158.98L77.96 158.75L78.71 158.53L79.48 158.32L80.24 158.12L81.00 157.92L81.77 157.73L82.54 157.54L83.31 157.37L84.08 157.19L84.86 157.02L85.63 156.86L86.41 156.71L87.19 156.56L87.97 156.41L88.75 156.27L89.53 156.14L90.32 156.01L91.10 155.89L91.89 155.77L92.68 155.65L93.47 155.54L94.26 155.44L95.05 155.34L95.85 155.24L96.64 155.15L97.44 155.07L98.24 154.98L99.03 154.91L99.83 154.83L100.63 154.76L101.43 154.70L102.24 154.63L103.04 154.57L103.84 154.52L104.64 154.47L105.45 154.42L106.25 154.37L107.06 154.33L107.87 154.29L108.67 154.25L109.48 154.22L110.29 154.19L111.10 154.16L111.90 154.14L112.71 154.11L113.52 154.09L114.33 154.07L115.14 154.06L115.95 154.04L116.76 154.03L117.57 154.02L118.38 154.01L119.19 154.00L120.00 154.00L120.81 153.99L121.62 153.99L122.43 153.99L123.24 153.99L124.05 153.99L124.85 153.99L125.66 153.99L126.47 154.00L127.28 154.00L128.09 154.01L128.89 154.01L129.70 154.02L130.50 154.02L131.31 154.03L132.12 154.04L132.92 154.05L133.72 154.06L134.53 154.07L135.33 154.08L136.14 154.09L136.94 154.10L137.74 154.11L138.54 154.12L139.34 154.13L140.15 154.15L140.95 154.16L141.75 154.18L142.55 154.19L143.35 154.21L144.15 154.22L144.95 154.24L145.75 154.26L146.55 154.27L147.35 154.29L148.14 154.31L148.94 154.33L149.74 154.35L150.54 154.37L151.34 154.39L152.13 154.41L152.93 154.43L153.73 154.45L154.53 154.47L155.32 154.50L156.12 154.52L156.92 154.54L157.71 154.57L158.51 154.59L159.30 154.62L160.10 154.64L160.89 154.67L161.69 154.70L162.49 154.72L163.28 154.75L164.08 154.78L164.87 154.80L165.67 154.83L166.46 154.86L167.26 154.89L168.05 154.92L168.84 154.95L169.64 154.98L170.43 155.01L171.23 155.04L172.02 155.07L172.82 155.10L173.61 155.13L174.41 155.17L175.20 155.20L176.00 155.23L176.79 155.27L177.58 155.30L178.38 155.33L179.17 155.37L179.97 155.40L180.76 155.44L181.56 155.47L182.35 155.51L183.15 155.54L183.94 155.58L184.74 155.61L185.53 155.65L186.33 155.69L187.12 155.73L187.92 155.76L188.71 155.80L189.51 155.84L190.30 155.88L191.10 155.91L191.90 155.95L192.69 155.99L193.49 156.03L194.29 156.07L195.08 156.11L195.88 156.15L196.68 156.19L197.47 156.23L198.27 156.27L199.07 156.31L199.87 156.35L200.67 156.39L201.46 156.43L202.26 156.47L203.06 156.52L203.86 156.56L204.66 156.60L205.46 156.64L206.26 156.68L207.06 156.73L207.86 156.77L208.66 156.81L209.46 156.85L210.26 156.90L211.07 156.94L211.87 156.98L212.67 157.03L213.47 157.07L214.28 157.12L215.08 157.16L215.88 157.21L216.69 157.25L217.49 157.30L218.29 157.35L219.10 157.39L219.90 157.44L220.70 157.49L221.51 157.54L222.31 157.60L223.12 157.65L223.92 157.70L224.72 157.76L225.53 157.82L226.33 157.87L227.13 157.93L227.94 158.00L228.74 158.06L229.54 158.12L230.34 158.19L231.14 158.26L231.95 158.33L232.75 158.40L233.55 158.47L234.35 158.55L235.15 158.63L235.95 158.71L236.75 158.79L237.55 158.87L238.35 158.96L239.14 159.05L239.94 159.14L240.74 159.24L241.53 159.33L242.33 159.43L243.12 159.53L243.92 159.64L244.71 159.75L245.50 159.86L246.30 159.97L247.09 160.09L247.88 160.21L248.67 160.33L249.46 160.46L250.25 160.59L251.03 160.72L251.82 160.86L252.60 161.00L253.39 161.14L254.17 161.29L254.95 161.44L255.74 161.60L256.52 161.75L257.30 161.92L258.07 162.08L258.85 162.25L259.63 162.43L260.40 162.61L261.18 162.79L261.95 162.98L262.72 163.17L263.49 163.37L264.26 163.57L265.02 163.77L265.79 163.98L266.56 164.19L267.32 164.41L268.08 164.64L268.84 164.87L269.60 165.10" stroke="#30e030" stroke-width="1.35" stroke-dasharray="7.3 5.0" stroke-linecap="butt"/>
<path d="M115.00 165.00L115.50 164.40L116.03 163.82L116.59 163.27L117.17 162.75L117.78 162.25L118.41 161.78L119.07 161.32L119.74 160.89L120.43 160.48L121.13 160.10L121.85 159.73L122.58 159.38L123.32 159.04L124.08 158.73L124.84 158.43L125.60 158.15L126.37 157.88L127.15 157.62L127.92 157.38L128.70 157.15L129.47 156.94L130.25 156.73L131.03 156.54L131.81 156.36L132.59 156.19L133.38 156.03L134.16 155.89L134.95 155.75L135.73 155.62L136.52 155.50L137.31 155.39L138.10 155.29L138.89 155.20L139.68 155.12L140.47 155.04L141.27 154.98L142.06 154.92L142.85 154.86L143.65 154.82L144.44 154.78L145.24 154.74L146.04 154.71L146.84 154.69L147.64 154.67L148.43 154.66L149.23 154.65L150.03 154.65L150.83 154.65L151.64 154.65L152.44 154.66L153.24 154.67L154.04 154.68L154.84 154.69L155.65 154.71L156.45 154.72L157.25 154.74L158.06 154.76L158.86 154.78L159.66 154.80L160.47 154.82L161.27 154.84L162.07 154.86L162.88 154.88L163.68 154.90L164.49 154.92L165.29 154.93L166.09 154.95L166.90 154.97L167.70 154.99L168.51 155.01L169.31 155.03L170.12 155.05L170.92 155.07L171.73 155.09L172.53 155.11L173.33 155.13L174.14 155.15L174.94 155.16L175.75 155.19L176.55 155.21L177.36 155.23L178.16 155.25L178.97 155.27L179.77 155.29L180.57 155.31L181.38 155.33L182.18 155.36L182.99 155.38L183.79 155.40L184.60 155.43L185.40 155.45L186.20 155.48L187.01 155.50L187.81 155.53L188.62 155.55L189.42 155.58L190.22 155.61L191.03 155.64L191.83 155.67L192.64 155.69L193.44 155.72L194.24 155.76L195.05 155.79L195.85 155.82L196.65 155.85L197.46 155.89L198.26 155.92L199.06 155.96L199.86 155.99L200.67 156.03L201.47 156.07L202.27 156.11L203.07 156.15L203.88 156.19L204.68 156.23L205.48 156.28L206.28 156.32L207.08 156.36L207.89 156.41L208.69 156.46L209.49 156.51L210.29 156.56L211.09 156.61L211.89 156.66L212.69 156.71L213.49 156.77L214.29 156.82L215.09 156.88L215.89 156.94L216.69 157.00L217.49 157.06L218.29 157.12L219.09 157.18L219.89 157.25L220.68 157.32L221.48 157.38L222.28 157.45L223.08 157.52L223.88 157.60L224.67 157.67L225.47 157.74L226.27 157.82L227.06 157.90L227.86 157.98L228.66 158.06L229.45 158.15L230.25 158.23L231.04 158.32L231.84 158.41L232.63 158.50L233.43 158.59L234.22 158.68L235.02 158.78L235.81 158.87L236.60 158.97L237.40 159.07L238.19 159.18L238.98 159.28L239.77 159.39L240.56 159.50L241.36 159.61L242.15 159.72L242.94 159.84L243.73 159.95L244.52 160.07L245.31 160.19L246.10 160.32L246.89 160.44L247.67 160.57L248.46 160.70L249.25 160.83L250.04 160.97L250.83 161.10L251.61 161.24L252.40 161.38L253.19 161.52L253.97 161.67L254.76 161.82L255.54 161.97L256.33 162.12L257.11 162.27L257.89 162.43L258.68 162.59L259.46 162.75L260.24 162.92L261.03 163.09L261.81 163.26L262.59 163.43L263.37 163.60L264.15 163.78L264.93 163.96L265.71 164.14L266.49 164.33L267.27 164.52L268.05 164.71L268.82 164.90L269.60 165.10" stroke="#ff8a8a" stroke-width="1.3" stroke-dasharray="1.2 1.6 0.45 1.95" stroke-linecap="butt"/>
</g>
<path d="M27.90 12.40H275.50V165.30H27.90" fill="none" stroke="#8a8a8a" stroke-width="1.1"/>
<path d="M27.90 11.90V165.80" fill="none" stroke="#a6a6a6" stroke-width="1.7"/>
<path d="M27.70 165.10v-2.40M27.70 12.44v2.40M38.03 165.10v-1.40M38.03 12.44v1.40M48.37 165.10v-1.40M48.37 12.44v1.40M58.70 165.10v-1.40M58.70 12.44v1.40M69.04 165.10v-2.40M69.04 12.44v2.40M79.38 165.10v-1.40M79.38 12.44v1.40M89.71 165.10v-1.40M89.71 12.44v1.40M100.05 165.10v-1.40M100.05 12.44v1.40M110.38 165.10v-2.40M110.38 12.44v2.40M120.72 165.10v-1.40M120.72 12.44v1.40M131.05 165.10v-1.40M131.05 12.44v1.40M141.38 165.10v-1.40M141.38 12.44v1.40M151.72 165.10v-2.40M151.72 12.44v2.40M162.05 165.10v-1.40M162.05 12.44v1.40M172.39 165.10v-1.40M172.39 12.44v1.40M182.72 165.10v-1.40M182.72 12.44v1.40M193.06 165.10v-2.40M193.06 12.44v2.40M203.40 165.10v-1.40M203.40 12.44v1.40M213.73 165.10v-1.40M213.73 12.44v1.40M224.06 165.10v-1.40M224.06 12.44v1.40M234.40 165.10v-2.40M234.40 12.44v2.40M244.73 165.10v-1.40M244.73 12.44v1.40M255.07 165.10v-1.40M255.07 12.44v1.40M265.41 165.10v-1.40M265.41 12.44v1.40M275.74 165.10v-2.40M275.74 12.44v2.40M27.70 165.10h2.40M275.74 165.10h-2.40M27.70 158.31h1.40M275.74 158.31h-1.40M27.70 151.53h1.40M275.74 151.53h-1.40M27.70 144.75h1.40M275.74 144.75h-1.40M27.70 137.96h1.40M275.74 137.96h-1.40M27.70 131.17h2.40M275.74 131.17h-2.40M27.70 124.39h1.40M275.74 124.39h-1.40M27.70 117.60h1.40M275.74 117.60h-1.40M27.70 110.82h1.40M275.74 110.82h-1.40M27.70 104.03h1.40M275.74 104.03h-1.40M27.70 97.25h2.40M275.74 97.25h-2.40M27.70 90.46h1.40M275.74 90.46h-1.40M27.70 83.68h1.40M275.74 83.68h-1.40M27.70 76.89h1.40M275.74 76.89h-1.40M27.70 70.11h1.40M275.74 70.11h-1.40M27.70 63.33h2.40M275.74 63.33h-2.40M27.70 56.54h1.40M275.74 56.54h-1.40M27.70 49.75h1.40M275.74 49.75h-1.40M27.70 42.97h1.40M275.74 42.97h-1.40M27.70 36.19h1.40M275.74 36.19h-1.40M27.70 29.40h2.40M275.74 29.40h-2.40M27.70 22.62h1.40M275.74 22.62h-1.40M27.70 15.83h1.40M275.74 15.83h-1.40" stroke="#555" stroke-width="0.9" fill="none"/>
<g class="tl"><text x="27.70" y="174.00" text-anchor="middle" textLength="11.1" lengthAdjust="spacingAndGlyphs">0.0</text><text x="69.04" y="174.00" text-anchor="middle" textLength="11.1" lengthAdjust="spacingAndGlyphs">0.2</text><text x="110.38" y="174.00" text-anchor="middle" textLength="11.1" lengthAdjust="spacingAndGlyphs">0.4</text><text x="151.72" y="174.00" text-anchor="middle" textLength="11.1" lengthAdjust="spacingAndGlyphs">0.6</text><text x="193.06" y="174.00" text-anchor="middle" textLength="11.1" lengthAdjust="spacingAndGlyphs">0.8</text><text x="234.40" y="174.00" text-anchor="middle" textLength="11.1" lengthAdjust="spacingAndGlyphs">1.0</text><text x="275.74" y="174.00" text-anchor="middle" textLength="11.1" lengthAdjust="spacingAndGlyphs">1.2</text><text x="26.60" y="167.70" text-anchor="end" textLength="11.1" lengthAdjust="spacingAndGlyphs">0.0</text><text x="26.60" y="133.77" text-anchor="end" textLength="11.1" lengthAdjust="spacingAndGlyphs">0.1</text><text x="26.60" y="99.85" text-anchor="end" textLength="11.1" lengthAdjust="spacingAndGlyphs">0.2</text><text x="26.60" y="65.92" text-anchor="end" textLength="11.1" lengthAdjust="spacingAndGlyphs">0.3</text><text x="26.60" y="32.00" text-anchor="end" textLength="11.1" lengthAdjust="spacingAndGlyphs">0.4</text></g>
<text class="ti" x="151.60" y="8.50" text-anchor="middle"><tspan class="gi">&#967;</tspan>=0</text>
<g class="al" transform="translate(136.82 188.00)"><text x="-0.7" y="0">M/</text><path d="M12.00 -3.40 L13.20 -4.00 L15.40 1.90 L17.30 -9.50 H28.40" fill="none" stroke="#222" stroke-width="0.8" stroke-linejoin="miter" stroke-miterlimit="10"/><path d="M13.20 -4.00 L15.40 1.90" fill="none" stroke="#222" stroke-width="1.1"/><text x="18.50" y="0" font-style="italic">&#945;</text><text x="24.40" y="0.8" font-size="6.2">1</text></g>
<g class="al" transform="translate(9.10 104.42) rotate(-90)"><text x="-0.4" y="0">Q</text><text x="5.4" y="1.3" font-size="5.8">s</text><text x="9.9" y="-0.2" font-size="8.4">/</text><path d="M13.60 -2.60 L14.80 -3.20 L17.00 2.70 L18.90 -8.70 H30.00" fill="none" stroke="#222" stroke-width="0.8" stroke-linejoin="miter" stroke-miterlimit="10"/><path d="M14.80 -3.20 L17.00 2.70" fill="none" stroke="#222" stroke-width="1.1"/><text x="20.10" y="0" font-style="italic">&#945;</text><text x="26.00" y="0.8" font-size="6.2">1</text></g>
<clipPath id="clip_p2"><rect x="373.30" y="12.44" width="247.56" height="152.66"/></clipPath>
<g clip-path="url(#clip_p2)" fill="none" stroke-linejoin="round">
<path d="M407.40 89.60L407.67 88.84L407.95 88.07L408.23 87.31L408.52 86.55L408.82 85.80L409.12 85.05L409.43 84.30L409.74 83.55L410.06 82.81L410.39 82.07L410.73 81.33L411.07 80.60L411.42 79.87L411.77 79.14L412.13 78.42L412.49 77.69L412.86 76.98L413.24 76.26L413.63 75.55L414.01 74.84L414.41 74.14L414.81 73.44L415.22 72.74L415.63 72.05L416.05 71.36L416.47 70.67L416.90 69.99L417.34 69.31L417.78 68.64L418.22 67.97L418.68 67.30L419.13 66.63L419.60 65.97L420.06 65.32L420.54 64.67L421.02 64.02L421.50 63.37L421.99 62.73L422.48 62.10L422.98 61.47L423.49 60.84L423.99 60.21L424.51 59.60L425.03 58.98L425.55 58.37L426.08 57.76L426.62 57.16L427.15 56.56L427.70 55.97L428.24 55.38L428.80 54.80L429.35 54.22L429.92 53.64L430.48 53.07L431.05 52.51L431.63 51.95L432.21 51.39L432.79 50.84L433.38 50.29L433.97 49.75L434.57 49.21L435.17 48.68L435.78 48.15L436.39 47.63L437.00 47.11L437.62 46.60L438.24 46.09L438.86 45.59L439.49 45.09L440.13 44.60L440.76 44.12L441.41 43.63L442.05 43.16L442.70 42.69L443.35 42.22L444.01 41.76L444.67 41.31L445.33 40.86L445.99 40.42L446.66 39.98L447.34 39.55L448.01 39.12L448.69 38.70L449.38 38.28L450.06 37.87L450.75 37.47L451.45 37.07L452.14 36.68L452.84 36.29L453.54 35.91L454.25 35.54L454.96 35.17L455.67 34.80L456.38 34.45L457.10 34.10L457.82 33.75L458.54 33.41L459.26 33.08L459.99 32.76L460.72 32.44L461.46 32.12L462.19 31.82L462.93 31.52L463.67 31.22L464.41 30.93L465.16 30.65L465.91 30.38L466.66 30.11L467.41 29.85L468.16 29.59L468.92 29.34L469.68 29.10L470.44 28.86L471.20 28.64L471.97 28.41L472.74 28.20L473.50 27.99L474.28 27.79L475.05 27.60L475.82 27.41L476.60 27.23L477.38 27.05L478.16 26.89L478.94 26.73L479.72 26.57L480.50 26.43L481.29 26.29L482.08 26.15L482.87 26.02L483.65 25.90L484.44 25.79L485.24 25.68L486.03 25.58L486.82 25.49L487.62 25.40L488.41 25.32L489.21 25.25L490.01 25.18L490.80 25.12L491.60 25.07L492.40 25.02L493.20 24.98L494.00 24.94L494.80 24.91L495.60 24.89L496.40 24.88L497.20 24.87L498.01 24.86L498.81 24.87L499.61 24.88L500.41 24.89L501.21 24.92L502.01 24.94L502.82 24.98L503.62 25.02L504.42 25.07L505.22 25.12L506.02 25.18L506.82 25.25L507.62 25.32L508.42 25.40L509.22 25.48L510.01 25.58L510.81 25.67L511.61 25.78L512.40 25.88L513.20 26.00L513.99 26.12L514.78 26.25L515.57 26.38L516.36 26.52L517.15 26.67L517.94 26.82L518.73 26.98L519.51 27.14L520.30 27.31L521.08 27.48L521.86 27.67L522.64 27.85L523.42 28.05L524.20 28.25L524.97 28.45L525.74 28.66L526.51 28.88L527.28 29.10L528.05 29.33L528.81 29.56L529.58 29.80L530.34 30.04L531.10 30.30L531.85 30.55L532.61 30.81L533.36 31.08L534.11 31.36L534.86 31.63L535.60 31.92L536.34 32.21L537.08 32.51L537.82 32.81L538.55 33.11L539.28 33.43L540.01 33.75L540.73 34.07L541.46 34.40L542.18 34.73L542.89 35.07L543.61 35.42L544.32 35.77L545.02 36.13L545.73 36.49L546.43 36.85L547.13 37.23L547.82 37.60L548.51 37.98L549.20 38.37L549.89 38.76L550.57 39.16L551.25 39.56L551.93 39.97L552.60 40.38L553.27 40.80L553.94 41.22L554.61 41.65L555.27 42.08L555.93 42.52L556.58 42.96L557.23 43.41L557.88 43.86L558.53 44.32L559.17 44.78L559.81 45.24L560.45 45.71L561.08 46.18L561.71 46.66L562.33 47.15L562.96 47.63L563.58 48.13L564.19 48.62L564.81 49.12L565.42 49.63L566.02 50.14L566.63 50.65L567.23 51.17L567.82 51.69L568.42 52.22L569.01 52.75L569.59 53.28L570.18 53.82L570.76 54.36L571.34 54.91L571.91 55.46L572.48 56.01L573.05 56.57L573.61 57.14L574.17 57.70L574.72 58.27L575.28 58.85L575.83 59.42L576.37 60.00L576.91 60.59L577.45 61.18L577.99 61.77L578.52 62.36L579.05 62.96L579.57 63.57L580.10 64.17L580.61 64.78L581.13 65.40L581.64 66.01L582.15 66.63L582.65 67.26L583.15 67.88L583.65 68.51L584.14 69.15L584.63 69.78L585.12 70.42L585.60 71.06L586.08 71.71L586.55 72.36L587.02 73.01L587.49 73.66L587.95 74.32L588.41 74.98L588.87 75.65L589.32 76.31L589.77 76.98L590.22 77.65L590.66 78.33L591.10 79.01L591.53 79.69L591.96 80.37L592.39 81.06L592.81 81.74L593.23 82.44L593.64 83.13L594.06 83.83L594.46 84.52L594.87 85.22L595.27 85.93L595.66 86.63L596.05 87.34L596.44 88.05L596.83 88.77L597.21 89.48L597.58 90.20L597.96 90.92L598.33 91.64L598.69 92.36L599.05 93.09L599.41 93.82L599.76 94.55L600.11 95.28L600.46 96.01L600.80 96.75L601.14 97.49L601.47 98.23L601.80 98.97L602.12 99.71L602.44 100.46L602.76 101.20L603.08 101.95L603.38 102.70L603.69 103.46L603.99 104.21L604.29 104.97L604.58 105.72L604.87 106.48L605.15 107.24L605.43 108.00L605.71 108.76L605.98 109.53L606.25 110.29L606.51 111.06L606.77 111.83L607.03 112.60L607.28 113.37L607.53 114.14L607.77 114.92L608.01 115.69L608.24 116.47L608.47 117.24L608.70 118.02L608.92 118.80L609.14 119.58L609.35 120.36L609.56 121.14L609.77 121.92L609.97 122.71L610.16 123.49L610.36 124.27L610.54 125.06L610.73 125.85L610.91 126.63L611.08 127.42L611.25 128.21L611.42 129.00L611.58 129.79L611.73 130.58L611.89 131.37L612.03 132.16L612.18 132.95L612.32 133.74L612.45 134.53L612.58 135.33L612.71 136.12L612.83 136.91L612.95 137.71L613.06 138.50L613.17 139.29L613.27 140.09L613.37 140.88L613.47 141.68L613.56 142.47L613.64 143.26L613.72 144.06L613.80 144.85L613.87 145.65L613.94 146.44L614.00 147.23L614.06 148.03L614.11 148.82L614.16 149.61L614.20 150.41L614.24 151.20L614.28 151.99L614.31 152.78L614.33 153.58L614.36 154.37L614.37 155.16L614.38 155.95L614.39 156.74L614.39 157.53L614.39 158.32L614.38 159.10L614.37 159.89L614.35 160.68L614.33 161.46L614.31 162.25L614.27 163.03L614.24 163.82L614.20 164.60" stroke="#ff9030" stroke-width="1.25" stroke-linecap="butt"/>
<path d="M463.40 20.00L464.18 20.02L464.97 20.05L465.75 20.08L466.54 20.10L467.32 20.13L468.11 20.17L468.90 20.20L469.69 20.24L470.48 20.28L471.28 20.32L472.07 20.36L472.86 20.41L473.66 20.45L474.46 20.50L475.25 20.55L476.05 20.61L476.85 20.66L477.65 20.72L478.45 20.78L479.25 20.85L480.05 20.91L480.85 20.98L481.65 21.05L482.45 21.13L483.25 21.20L484.05 21.28L484.86 21.36L485.66 21.45L486.46 21.53L487.27 21.62L488.07 21.71L488.87 21.81L489.68 21.91L490.48 22.01L491.29 22.11L492.09 22.22L492.89 22.33L493.70 22.44L494.50 22.55L495.30 22.67L496.11 22.79L496.91 22.92L497.71 23.05L498.51 23.18L499.31 23.31L500.11 23.45L500.92 23.59L501.72 23.73L502.52 23.88L503.31 24.03L504.11 24.18L504.91 24.34L505.71 24.50L506.50 24.66L507.30 24.83L508.09 25.00L508.89 25.18L509.68 25.35L510.47 25.54L511.26 25.72L512.05 25.91L512.84 26.10L513.63 26.30L514.42 26.50L515.20 26.70L515.99 26.91L516.77 27.12L517.55 27.34L518.33 27.56L519.11 27.78L519.89 28.01L520.66 28.24L521.44 28.48L522.21 28.71L522.98 28.96L523.75 29.21L524.52 29.46L525.29 29.71L526.05 29.97L526.82 30.24L527.58 30.50L528.34 30.77L529.10 31.05L529.85 31.33L530.61 31.61L531.36 31.90L532.11 32.19L532.86 32.49L533.60 32.79L534.35 33.09L535.09 33.40L535.83 33.72L536.57 34.03L537.30 34.35L538.04 34.68L538.77 35.01L539.50 35.34L540.22 35.68L540.95 36.02L541.67 36.36L542.39 36.71L543.11 37.07L543.82 37.42L544.53 37.79L545.24 38.15L545.95 38.52L546.65 38.90L547.36 39.28L548.05 39.66L548.75 40.05L549.44 40.44L550.13 40.83L550.82 41.23L551.51 41.64L552.19 42.05L552.87 42.46L553.54 42.88L554.22 43.30L554.89 43.72L555.55 44.15L556.22 44.58L556.88 45.02L557.53 45.46L558.19 45.91L558.84 46.36L559.49 46.82L560.13 47.27L560.77 47.74L561.41 48.21L562.04 48.68L562.68 49.15L563.30 49.63L563.93 50.12L564.55 50.61L565.16 51.10L565.78 51.60L566.39 52.10L566.99 52.61L567.59 53.12L568.19 53.63L568.79 54.15L569.38 54.68L569.96 55.20L570.54 55.74L571.12 56.27L571.70 56.81L572.27 57.36L572.84 57.91L573.40 58.46L573.96 59.02L574.52 59.58L575.07 60.15L575.61 60.72L576.16 61.29L576.70 61.87L577.23 62.45L577.77 63.04L578.29 63.63L578.82 64.22L579.34 64.82L579.86 65.42L580.37 66.02L580.88 66.63L581.38 67.24L581.88 67.86L582.38 68.48L582.87 69.10L583.36 69.72L583.85 70.35L584.33 70.99L584.81 71.62L585.28 72.26L585.75 72.90L586.22 73.55L586.68 74.20L587.14 74.85L587.59 75.51L588.04 76.17L588.49 76.83L588.93 77.50L589.37 78.16L589.80 78.84L590.23 79.51L590.66 80.19L591.08 80.87L591.50 81.55L591.92 82.24L592.33 82.92L592.73 83.62L593.14 84.31L593.54 85.01L593.93 85.71L594.32 86.41L594.71 87.11L595.10 87.82L595.47 88.53L595.85 89.24L596.22 89.96L596.59 90.67L596.95 91.39L597.32 92.11L597.67 92.84L598.02 93.56L598.37 94.29L598.72 95.02L599.06 95.76L599.39 96.49L599.73 97.23L600.06 97.97L600.38 98.71L600.70 99.45L601.02 100.20L601.33 100.94L601.64 101.69L601.95 102.44L602.25 103.20L602.54 103.95L602.84 104.71L603.13 105.46L603.41 106.22L603.69 106.99L603.97 107.75L604.25 108.51L604.52 109.28L604.78 110.05L605.04 110.81L605.30 111.58L605.56 112.36L605.81 113.13L606.05 113.90L606.29 114.68L606.53 115.46L606.77 116.23L607.00 117.01L607.22 117.79L607.45 118.58L607.67 119.36L607.88 120.14L608.09 120.93L608.30 121.71L608.50 122.50L608.70 123.29L608.89 124.07L609.09 124.86L609.27 125.65L609.46 126.44L609.64 127.23L609.81 128.03L609.98 128.82L610.15 129.61L610.31 130.41L610.47 131.20L610.63 132.00L610.78 132.79L610.93 133.59L611.07 134.38L611.21 135.18L611.35 135.98L611.48 136.77L611.61 137.57L611.73 138.37L611.85 139.17L611.97 139.97L612.08 140.76L612.19 141.56L612.29 142.36L612.39 143.16L612.49 143.96L612.58 144.76L612.67 145.56L612.75 146.35L612.83 147.15L612.91 147.95L612.98 148.75L613.05 149.54L613.11 150.34L613.17 151.14L613.23 151.94L613.28 152.73L613.33 153.53L613.38 154.32L613.42 155.12L613.46 155.91L613.49 156.70L613.52 157.50L613.54 158.29L613.56 159.08L613.58 159.87L613.59 160.66L613.60 161.45L613.61 162.24L613.61 163.03L613.61 163.81L613.60 164.60" stroke="#3030ff" stroke-width="1.35" stroke-dasharray="7.3 5.0" stroke-linecap="butt"/>
<path d="M509.00 32.00L509.79 32.14L510.59 32.28L511.38 32.42L512.17 32.58L512.96 32.74L513.74 32.90L514.53 33.07L515.31 33.25L516.10 33.43L516.88 33.61L517.66 33.81L518.44 34.00L519.21 34.21L519.99 34.42L520.76 34.63L521.54 34.85L522.31 35.08L523.08 35.31L523.84 35.55L524.61 35.79L525.37 36.03L526.14 36.29L526.90 36.54L527.65 36.81L528.41 37.08L529.17 37.35L529.92 37.63L530.67 37.91L531.42 38.20L532.16 38.50L532.91 38.80L533.65 39.10L534.39 39.41L535.13 39.72L535.87 40.04L536.60 40.37L537.33 40.70L538.06 41.03L538.79 41.37L539.51 41.72L540.24 42.07L540.96 42.42L541.67 42.78L542.39 43.14L543.10 43.51L543.81 43.89L544.52 44.26L545.23 44.65L545.93 45.04L546.63 45.43L547.33 45.82L548.02 46.23L548.71 46.63L549.40 47.04L550.09 47.46L550.77 47.88L551.45 48.30L552.13 48.73L552.81 49.16L553.48 49.60L554.15 50.04L554.81 50.49L555.48 50.94L556.14 51.40L556.79 51.86L557.45 52.32L558.10 52.79L558.75 53.26L559.39 53.74L560.03 54.22L560.67 54.70L561.31 55.19L561.94 55.69L562.57 56.18L563.19 56.68L563.81 57.19L564.43 57.70L565.05 58.21L565.66 58.73L566.27 59.25L566.87 59.78L567.47 60.31L568.07 60.84L568.66 61.38L569.25 61.92L569.84 62.46L570.42 63.01L571.00 63.56L571.58 64.12L572.15 64.68L572.71 65.24L573.28 65.81L573.84 66.38L574.39 66.95L574.95 67.53L575.49 68.11L576.04 68.70L576.58 69.29L577.11 69.88L577.64 70.48L578.17 71.07L578.70 71.68L579.22 72.28L579.73 72.89L580.24 73.51L580.75 74.12L581.25 74.74L581.75 75.36L582.24 75.99L582.73 76.62L583.22 77.25L583.70 77.89L584.17 78.53L584.64 79.17L585.11 79.81L585.57 80.46L586.03 81.11L586.48 81.77L586.93 82.42L587.38 83.08L587.82 83.75L588.25 84.41L588.68 85.08L589.11 85.76L589.53 86.43L589.94 87.11L590.35 87.79L590.76 88.47L591.16 89.16L591.55 89.85L591.94 90.54L592.33 91.24L592.71 91.93L593.09 92.63L593.46 93.34L593.82 94.04L594.18 94.75L594.54 95.46L594.89 96.17L595.24 96.89L595.58 97.60L595.92 98.32L596.26 99.05L596.59 99.77L596.91 100.50L597.23 101.23L597.55 101.96L597.86 102.69L598.17 103.42L598.48 104.16L598.78 104.90L599.07 105.64L599.37 106.38L599.66 107.13L599.94 107.87L600.22 108.62L600.50 109.37L600.77 110.12L601.04 110.88L601.31 111.63L601.57 112.39L601.83 113.15L602.09 113.91L602.34 114.67L602.59 115.43L602.84 116.19L603.08 116.96L603.32 117.72L603.56 118.49L603.80 119.26L604.03 120.03L604.26 120.80L604.48 121.57L604.70 122.35L604.92 123.12L605.14 123.90L605.36 124.67L605.57 125.45L605.78 126.23L605.99 127.01L606.19 127.79L606.39 128.57L606.59 129.35L606.79 130.13L606.98 130.91L607.18 131.70L607.37 132.48L607.56 133.27L607.74 134.05L607.93 134.84L608.11 135.62L608.29 136.41L608.47 137.19L608.65 137.98L608.83 138.77L609.00 139.55L609.17 140.34L609.34 141.13L609.51 141.91L609.68 142.70L609.85 143.49L610.01 144.28L610.18 145.06L610.34 145.85L610.50 146.64L610.66 147.42L610.82 148.21L610.98 149.00L611.13 149.78L611.29 150.57L611.44 151.35L611.60 152.14L611.75 152.92L611.91 153.70L612.06 154.49L612.21 155.27L612.36 156.05L612.51 156.83L612.66 157.61L612.81 158.39L612.96 159.17L613.11 159.95L613.26 160.73L613.40 161.50L613.55 162.28L613.70 163.05L613.85 163.83L614.00 164.60" stroke="#ff1aff" stroke-width="1.3" stroke-dasharray="1.2 1.6 0.45 1.95" stroke-linecap="butt"/>
<path d="M377.40 155.60L377.88 154.92L378.38 154.25L378.88 153.60L379.39 152.96L379.92 152.34L380.45 151.73L380.99 151.13L381.53 150.55L382.09 149.97L382.65 149.42L383.23 148.87L383.81 148.33L384.40 147.81L384.99 147.30L385.60 146.80L386.21 146.32L386.83 145.84L387.46 145.38L388.09 144.93L388.73 144.48L389.38 144.05L390.03 143.63L390.69 143.22L391.35 142.82L392.03 142.43L392.70 142.05L393.39 141.68L394.08 141.32L394.77 140.97L395.47 140.63L396.18 140.29L396.89 139.97L397.61 139.65L398.33 139.34L399.05 139.05L399.79 138.75L400.52 138.47L401.26 138.19L402.00 137.93L402.75 137.67L403.50 137.41L404.25 137.17L405.01 136.93L405.77 136.69L406.54 136.47L407.31 136.24L408.08 136.03L408.85 135.82L409.63 135.62L410.41 135.42L411.19 135.23L411.97 135.04L412.76 134.86L413.55 134.69L414.34 134.51L415.13 134.35L415.92 134.18L416.71 134.03L417.51 133.87L418.31 133.72L419.10 133.57L419.90 133.43L420.70 133.29L421.50 133.15L422.30 133.01L423.10 132.88L423.90 132.75L424.70 132.63L425.50 132.50L426.30 132.38L427.10 132.26L427.90 132.15L428.71 132.03L429.51 131.92L430.31 131.81L431.11 131.70L431.91 131.60L432.71 131.50L433.51 131.40L434.32 131.30L435.12 131.21L435.92 131.12L436.72 131.03L437.52 130.94L438.33 130.86L439.13 130.77L439.93 130.69L440.73 130.62L441.53 130.54L442.34 130.47L443.14 130.40L443.94 130.33L444.74 130.26L445.55 130.20L446.35 130.13L447.15 130.07L447.95 130.02L448.76 129.96L449.56 129.91L450.36 129.86L451.17 129.81L451.97 129.76L452.77 129.71L453.57 129.67L454.38 129.63L455.18 129.59L455.98 129.56L456.78 129.52L457.59 129.49L458.39 129.46L459.19 129.43L459.99 129.40L460.80 129.38L461.60 129.35L462.40 129.33L463.20 129.31L464.00 129.30L464.81 129.28L465.61 129.27L466.41 129.25L467.21 129.24L468.01 129.24L468.81 129.23L469.62 129.22L470.42 129.22L471.22 129.22L472.02 129.22L472.82 129.22L473.62 129.23L474.42 129.23L475.22 129.24L476.02 129.25L476.82 129.26L477.62 129.27L478.43 129.29L479.23 129.30L480.03 129.32L480.82 129.34L481.62 129.36L482.42 129.38L483.22 129.40L484.02 129.43L484.82 129.45L485.62 129.48L486.42 129.51L487.22 129.54L488.01 129.57L488.81 129.61L489.61 129.64L490.41 129.68L491.21 129.72L492.00 129.76L492.80 129.80L493.60 129.84L494.39 129.88L495.19 129.93L495.99 129.97L496.78 130.02L497.58 130.07L498.37 130.12L499.17 130.17L499.96 130.22L500.76 130.27L501.55 130.33L502.35 130.38L503.14 130.44L503.94 130.50L504.73 130.56L505.52 130.62L506.32 130.69L507.11 130.75L507.91 130.82L508.70 130.88L509.49 130.95L510.29 131.02L511.08 131.09L511.87 131.17L512.67 131.24L513.46 131.31L514.25 131.39L515.04 131.47L515.84 131.55L516.63 131.63L517.42 131.71L518.22 131.79L519.01 131.88L519.80 131.96L520.59 132.05L521.39 132.14L522.18 132.23L522.97 132.32L523.76 132.41L524.56 132.50L525.35 132.60L526.14 132.70L526.93 132.79L527.73 132.89L528.52 132.99L529.31 133.09L530.10 133.20L530.90 133.30L531.69 133.41L532.48 133.51L533.28 133.62L534.07 133.73L534.86 133.84L535.65 133.96L536.45 134.07L537.24 134.18L538.03 134.30L538.83 134.42L539.62 134.54L540.42 134.66L541.21 134.78L542.00 134.90L542.80 135.03L543.59 135.15L544.39 135.28L545.18 135.41L545.98 135.54L546.77 135.67L547.56 135.80L548.36 135.94L549.16 136.07L549.95 136.21L550.75 136.35L551.54 136.49L552.34 136.63L553.13 136.77L553.93 136.91L554.73 137.06L555.53 137.20L556.32 137.35L557.12 137.50L557.92 137.65L558.72 137.80L559.51 137.95L560.31 138.10L561.11 138.26L561.91 138.42L562.71 138.58L563.51 138.74L564.30 138.90L565.10 139.06L565.90 139.23L566.70 139.40L567.49 139.57L568.29 139.74L569.08 139.92L569.88 140.10L570.67 140.28L571.46 140.47L572.25 140.66L573.04 140.85L573.83 141.05L574.61 141.25L575.40 141.45L576.18 141.66L576.96 141.87L577.74 142.09L578.51 142.31L579.28 142.53L580.05 142.76L580.82 143.00L581.59 143.24L582.35 143.48L583.11 143.73L583.87 143.99L584.62 144.25L585.37 144.52L586.12 144.79L586.86 145.07L587.60 145.35L588.34 145.64L589.07 145.94L589.80 146.24L590.52 146.55L591.24 146.87L591.96 147.19L592.67 147.52L593.38 147.86L594.08 148.21L594.78 148.56L595.48 148.92L596.16 149.29L596.85 149.66L597.53 150.05L598.20 150.44L598.87 150.84L599.53 151.25L600.19 151.67L600.84 152.09L601.48 152.53L602.12 152.97L602.76 153.42L603.39 153.89L604.01 154.36L604.62 154.84L605.23 155.33L605.83 155.83L606.43 156.34L607.02 156.86L607.60 157.39L608.17 157.93L608.74 158.48L609.30 159.04L609.85 159.61L610.40 160.20L610.94 160.79L611.47 161.40L611.99 162.02L612.51 162.64L613.01 163.28L613.51 163.93L614.00 164.60" stroke="#93279f" stroke-width="1.3" stroke-linecap="butt"/>
<path d="M434.00 134.40L434.80 134.21L435.59 134.03L436.39 133.84L437.18 133.67L437.98 133.50L438.77 133.33L439.57 133.16L440.36 133.00L441.16 132.85L441.95 132.70L442.75 132.55L443.54 132.41L444.34 132.27L445.13 132.13L445.92 132.00L446.72 131.88L447.51 131.75L448.31 131.63L449.10 131.52L449.89 131.41L450.69 131.30L451.48 131.20L452.27 131.10L453.07 131.00L453.86 130.91L454.65 130.82L455.45 130.73L456.24 130.65L457.03 130.57L457.83 130.49L458.62 130.42L459.41 130.35L460.21 130.29L461.00 130.23L461.79 130.17L462.58 130.11L463.38 130.06L464.17 130.01L464.96 129.97L465.75 129.92L466.55 129.89L467.34 129.85L468.13 129.82L468.93 129.79L469.72 129.76L470.51 129.73L471.30 129.71L472.10 129.69L472.89 129.68L473.68 129.66L474.47 129.65L475.27 129.65L476.06 129.64L476.85 129.64L477.64 129.64L478.44 129.64L479.23 129.65L480.02 129.66L480.81 129.67L481.61 129.68L482.40 129.70L483.19 129.71L483.99 129.73L484.78 129.76L485.57 129.78L486.37 129.81L487.16 129.84L487.95 129.87L488.75 129.90L489.54 129.94L490.33 129.98L491.13 130.02L491.92 130.06L492.71 130.10L493.51 130.15L494.30 130.20L495.09 130.25L495.89 130.30L496.68 130.35L497.48 130.41L498.27 130.46L499.07 130.52L499.86 130.58L500.66 130.64L501.45 130.71L502.24 130.77L503.04 130.84L503.83 130.91L504.63 130.98L505.43 131.05L506.22 131.12L507.02 131.20L507.81 131.27L508.61 131.35L509.40 131.43L510.20 131.50L511.00 131.58L511.79 131.67L512.59 131.75L513.39 131.83L514.19 131.92L514.98 132.00L515.78 132.09L516.58 132.18L517.38 132.27L518.17 132.36L518.97 132.45L519.77 132.54L520.57 132.63L521.37 132.72L522.17 132.82L522.96 132.91L523.76 133.01L524.56 133.10L525.36 133.20L526.16 133.30L526.96 133.39L527.76 133.49L528.56 133.59L529.37 133.69L530.17 133.79L530.97 133.89L531.77 133.99L532.57 134.09L533.37 134.19L534.17 134.29L534.98 134.40L535.78 134.50L536.58 134.60L537.38 134.71L538.18 134.81L538.99 134.92L539.79 135.03L540.59 135.14L541.39 135.25L542.19 135.36L542.99 135.47L543.80 135.59L544.60 135.70L545.40 135.82L546.20 135.94L547.00 136.06L547.80 136.18L548.59 136.30L549.39 136.43L550.19 136.56L550.99 136.69L551.78 136.82L552.58 136.95L553.38 137.08L554.17 137.22L554.97 137.36L555.76 137.50L556.55 137.65L557.35 137.79L558.14 137.94L558.93 138.09L559.72 138.24L560.51 138.40L561.30 138.56L562.08 138.72L562.87 138.88L563.66 139.05L564.44 139.22L565.22 139.39L566.01 139.57L566.79 139.75L567.57 139.93L568.35 140.11L569.13 140.30L569.90 140.49L570.68 140.69L571.45 140.88L572.23 141.09L573.00 141.29L573.77 141.50L574.54 141.71L575.31 141.93L576.07 142.15L576.84 142.37L577.60 142.60L578.36 142.83L579.12 143.06L579.88 143.30L580.64 143.54L581.39 143.79L582.15 144.04L582.90 144.30L583.65 144.56L584.40 144.83L585.14 145.10L585.89 145.37L586.63 145.65L587.36 145.94L588.10 146.23L588.83 146.53L589.56 146.84L590.28 147.15L591.00 147.46L591.72 147.79L592.43 148.11L593.14 148.45L593.85 148.79L594.55 149.14L595.24 149.50L595.94 149.87L596.62 150.24L597.31 150.62L597.98 151.01L598.66 151.40L599.32 151.81L599.99 152.22L600.64 152.64L601.29 153.07L601.94 153.51L602.58 153.96L603.21 154.42L603.84 154.88L604.46 155.36L605.07 155.84L605.68 156.34L606.28 156.84L606.88 157.36L607.46 157.88L608.04 158.42L608.61 158.97L609.18 159.52L609.74 160.09L610.29 160.67L610.83 161.26L611.36 161.86L611.89 162.48L612.40 163.10L612.91 163.74L613.41 164.39L613.90 165.05" stroke="#30eeff" stroke-width="1.35" stroke-dasharray="7.3 5.0" stroke-linecap="butt"/>
<path d="M460.00 164.50L460.22 163.82L460.44 163.13L460.65 162.41L460.87 161.68L461.08 160.94L461.29 160.18L461.51 159.41L461.73 158.63L461.95 157.84L462.17 157.05L462.40 156.24L462.64 155.44L462.88 154.63L463.12 153.81L463.38 153.00L463.64 152.19L463.91 151.38L464.19 150.58L464.49 149.78L464.79 148.99L465.10 148.20L465.43 147.43L465.77 146.67L466.12 145.92L466.49 145.19L466.88 144.47L467.28 143.77L467.70 143.09L468.14 142.43L468.59 141.79L469.07 141.17L469.56 140.58L470.08 140.02L470.62 139.48L471.18 138.97L471.76 138.50L472.36 138.05L472.99 137.63L473.63 137.23L474.30 136.87L474.98 136.52L475.67 136.20L476.38 135.91L477.10 135.63L477.83 135.37L478.58 135.14L479.33 134.92L480.09 134.72L480.86 134.53L481.63 134.35L482.41 134.19L483.19 134.04L483.97 133.91L484.75 133.78L485.54 133.66L486.32 133.55L487.11 133.46L487.90 133.37L488.69 133.29L489.48 133.22L490.28 133.16L491.07 133.11L491.87 133.06L492.66 133.03L493.46 133.00L494.26 132.98L495.06 132.96L495.86 132.95L496.66 132.95L497.47 132.96L498.27 132.97L499.08 132.99L499.88 133.01L500.69 133.04L501.49 133.07L502.30 133.10L503.11 133.14L503.92 133.19L504.72 133.24L505.53 133.29L506.34 133.35L507.15 133.40L507.96 133.47L508.77 133.53L509.58 133.59L510.39 133.66L511.19 133.73L512.00 133.80L512.81 133.87L513.62 133.94L514.43 134.02L515.23 134.09L516.04 134.16L516.85 134.24L517.65 134.31L518.46 134.38L519.26 134.45L520.07 134.53L520.87 134.60L521.68 134.68L522.48 134.75L523.28 134.83L524.09 134.90L524.89 134.98L525.69 135.06L526.49 135.13L527.29 135.21L528.09 135.29L528.89 135.37L529.69 135.45L530.49 135.53L531.29 135.62L532.09 135.70L532.89 135.78L533.68 135.87L534.48 135.96L535.28 136.05L536.07 136.13L536.87 136.23L537.66 136.32L538.46 136.41L539.25 136.51L540.04 136.60L540.84 136.70L541.63 136.80L542.42 136.90L543.21 137.00L544.00 137.11L544.79 137.21L545.58 137.32L546.37 137.43L547.16 137.54L547.95 137.65L548.74 137.77L549.53 137.89L550.32 138.01L551.10 138.13L551.89 138.25L552.68 138.38L553.46 138.51L554.25 138.64L555.03 138.77L555.81 138.91L556.60 139.05L557.38 139.19L558.16 139.33L558.95 139.48L559.73 139.62L560.51 139.77L561.29 139.93L562.07 140.09L562.85 140.25L563.63 140.41L564.41 140.57L565.18 140.74L565.96 140.91L566.74 141.09L567.52 141.27L568.29 141.45L569.07 141.63L569.84 141.82L570.62 142.01L571.39 142.20L572.16 142.40L572.94 142.60L573.71 142.81L574.48 143.01L575.25 143.23L576.02 143.44L576.79 143.66L577.56 143.88L578.33 144.11L579.10 144.34L579.87 144.57L580.64 144.81L581.41 145.06L582.17 145.30L582.94 145.55L583.70 145.81L584.46 146.07L585.23 146.34L585.99 146.61L586.74 146.88L587.50 147.16L588.25 147.45L589.00 147.74L589.75 148.04L590.50 148.34L591.24 148.65L591.98 148.97L592.71 149.29L593.45 149.62L594.17 149.96L594.90 150.30L595.62 150.65L596.34 151.01L597.05 151.37L597.76 151.75L598.46 152.13L599.16 152.52L599.85 152.91L600.54 153.32L601.22 153.73L601.90 154.15L602.57 154.58L603.24 155.02L603.90 155.47L604.55 155.92L605.20 156.39L605.83 156.86L606.47 157.35L607.09 157.84L607.71 158.35L608.32 158.86L608.93 159.39L609.53 159.92L610.11 160.47L610.69 161.03L611.27 161.59L611.83 162.17L612.39 162.76L612.93 163.36L613.47 163.98L614.00 164.60" stroke="#9a6633" stroke-width="1.3" stroke-dasharray="1.2 1.6 0.45 1.95" stroke-linecap="butt"/>
<path d="M380.60 160.40L381.39 160.26L382.18 160.12L382.96 159.98L383.75 159.85L384.54 159.72L385.33 159.58L386.12 159.46L386.91 159.33L387.70 159.20L388.49 159.08L389.28 158.96L390.07 158.84L390.86 158.72L391.65 158.61L392.44 158.49L393.23 158.38L394.02 158.27L394.81 158.16L395.61 158.06L396.40 157.95L397.19 157.85L397.98 157.75L398.77 157.65L399.57 157.55L400.36 157.45L401.15 157.36L401.94 157.26L402.74 157.17L403.53 157.08L404.32 157.00L405.12 156.91L405.91 156.82L406.70 156.74L407.50 156.66L408.29 156.58L409.09 156.50L409.88 156.42L410.67 156.35L411.47 156.27L412.26 156.20L413.06 156.13L413.85 156.06L414.65 155.99L415.44 155.92L416.24 155.86L417.04 155.79L417.83 155.73L418.63 155.67L419.42 155.61L420.22 155.55L421.02 155.50L421.81 155.44L422.61 155.39L423.41 155.33L424.20 155.28L425.00 155.23L425.80 155.18L426.59 155.13L427.39 155.09L428.19 155.04L428.99 155.00L429.78 154.95L430.58 154.91L431.38 154.87L432.18 154.83L432.98 154.79L433.77 154.76L434.57 154.72L435.37 154.69L436.17 154.65L436.97 154.62L437.77 154.59L438.56 154.56L439.36 154.53L440.16 154.50L440.96 154.47L441.76 154.45L442.56 154.42L443.36 154.40L444.16 154.37L444.96 154.35L445.76 154.33L446.56 154.31L447.36 154.29L448.16 154.27L448.96 154.25L449.76 154.24L450.56 154.22L451.36 154.21L452.16 154.19L452.96 154.18L453.76 154.17L454.56 154.16L455.36 154.14L456.16 154.13L456.96 154.13L457.76 154.12L458.56 154.11L459.36 154.10L460.16 154.10L460.96 154.09L461.76 154.09L462.57 154.08L463.37 154.08L464.17 154.08L464.97 154.08L465.77 154.07L466.57 154.07L467.37 154.07L468.17 154.07L468.97 154.08L469.78 154.08L470.58 154.08L471.38 154.08L472.18 154.09L472.98 154.09L473.78 154.09L474.59 154.10L475.39 154.11L476.19 154.11L476.99 154.12L477.79 154.13L478.59 154.13L479.40 154.14L480.20 154.15L481.00 154.16L481.80 154.17L482.60 154.18L483.40 154.19L484.21 154.20L485.01 154.21L485.81 154.22L486.61 154.23L487.41 154.24L488.22 154.25L489.02 154.26L489.82 154.28L490.62 154.29L491.42 154.30L492.22 154.32L493.03 154.33L493.83 154.34L494.63 154.36L495.43 154.37L496.23 154.39L497.04 154.40L497.84 154.42L498.64 154.43L499.44 154.45L500.24 154.47L501.05 154.48L501.85 154.50L502.65 154.52L503.45 154.53L504.25 154.55L505.05 154.57L505.86 154.59L506.66 154.61L507.46 154.63L508.26 154.65L509.06 154.67L509.86 154.69L510.66 154.71L511.47 154.74L512.27 154.76L513.07 154.78L513.87 154.81L514.67 154.83L515.47 154.86L516.27 154.88L517.08 154.91L517.88 154.93L518.68 154.96L519.48 154.99L520.28 155.02L521.08 155.04L521.88 155.07L522.68 155.10L523.48 155.13L524.28 155.16L525.08 155.20L525.88 155.23L526.68 155.26L527.48 155.29L528.29 155.33L529.09 155.36L529.89 155.40L530.69 155.43L531.49 155.47L532.29 155.51L533.09 155.55L533.89 155.59L534.68 155.63L535.48 155.67L536.28 155.71L537.08 155.75L537.88 155.79L538.68 155.83L539.48 155.88L540.28 155.92L541.08 155.97L541.88 156.01L542.68 156.06L543.48 156.11L544.27 156.16L545.07 156.21L545.87 156.26L546.67 156.31L547.47 156.36L548.27 156.41L549.06 156.47L549.86 156.52L550.66 156.58L551.46 156.63L552.26 156.69L553.05 156.75L553.85 156.81L554.65 156.87L555.44 156.93L556.24 156.99L557.04 157.06L557.84 157.12L558.63 157.18L559.43 157.25L560.22 157.32L561.02 157.38L561.82 157.45L562.61 157.52L563.41 157.59L564.20 157.66L565.00 157.74L565.80 157.81L566.59 157.89L567.39 157.96L568.18 158.04L568.98 158.12L569.77 158.20L570.57 158.28L571.36 158.36L572.15 158.44L572.95 158.52L573.74 158.61L574.54 158.69L575.33 158.78L576.12 158.87L576.92 158.96L577.71 159.05L578.50 159.14L579.30 159.23L580.09 159.33L580.88 159.42L581.67 159.52L582.47 159.61L583.26 159.71L584.05 159.81L584.84 159.91L585.63 160.02L586.42 160.12L587.22 160.22L588.01 160.33L588.80 160.44L589.59 160.55L590.38 160.66L591.17 160.77L591.96 160.88L592.75 160.99L593.54 161.11L594.33 161.23L595.12 161.34L595.91 161.46L596.70 161.58L597.48 161.71L598.27 161.83L599.06 161.95L599.85 162.08L600.64 162.21L601.43 162.34L602.21 162.47L603.00 162.60L603.79 162.73L604.57 162.87L605.36 163.00L606.15 163.14L606.93 163.28L607.72 163.42L608.51 163.56L609.29 163.70L610.08 163.85L610.86 164.00L611.65 164.14L612.43 164.29L613.22 164.44L614.00 164.60" stroke="#ff3a3a" stroke-width="1.25" stroke-linecap="butt"/>
<path d="M410.00 165.60L410.59 165.08L411.21 164.58L411.84 164.11L412.48 163.66L413.14 163.23L413.81 162.82L414.49 162.43L415.19 162.06L415.89 161.71L416.61 161.37L417.33 161.04L418.06 160.74L418.80 160.44L419.55 160.16L420.30 159.89L421.05 159.63L421.81 159.38L422.58 159.14L423.34 158.91L424.11 158.69L424.87 158.48L425.64 158.27L426.41 158.07L427.18 157.88L427.96 157.69L428.73 157.51L429.51 157.34L430.28 157.18L431.06 157.02L431.84 156.87L432.62 156.72L433.40 156.58L434.18 156.45L434.97 156.32L435.75 156.20L436.54 156.09L437.33 155.98L438.11 155.87L438.90 155.78L439.69 155.68L440.48 155.59L441.27 155.51L442.07 155.43L442.86 155.36L443.66 155.29L444.45 155.22L445.25 155.16L446.04 155.11L446.84 155.06L447.64 155.01L448.44 154.96L449.24 154.92L450.04 154.89L450.84 154.85L451.64 154.82L452.44 154.79L453.24 154.77L454.05 154.75L454.85 154.73L455.65 154.71L456.46 154.70L457.26 154.69L458.07 154.68L458.87 154.68L459.68 154.67L460.49 154.67L461.29 154.67L462.10 154.67L462.91 154.67L463.71 154.68L464.52 154.68L465.33 154.69L466.13 154.69L466.94 154.70L467.75 154.71L468.56 154.72L469.37 154.73L470.17 154.74L470.98 154.75L471.79 154.76L472.60 154.77L473.41 154.78L474.21 154.79L475.02 154.80L475.83 154.81L476.64 154.82L477.44 154.83L478.25 154.84L479.06 154.85L479.86 154.86L480.67 154.87L481.48 154.88L482.29 154.88L483.09 154.89L483.90 154.90L484.70 154.91L485.51 154.92L486.32 154.93L487.12 154.94L487.93 154.94L488.74 154.95L489.54 154.96L490.35 154.97L491.15 154.98L491.96 154.99L492.76 155.00L493.57 155.00L494.37 155.01L495.18 155.02L495.98 155.03L496.79 155.04L497.59 155.05L498.40 155.06L499.20 155.07L500.01 155.08L500.81 155.09L501.62 155.10L502.42 155.11L503.23 155.12L504.03 155.13L504.83 155.15L505.64 155.16L506.44 155.17L507.25 155.18L508.05 155.20L508.85 155.21L509.66 155.22L510.46 155.24L511.26 155.25L512.07 155.26L512.87 155.28L513.67 155.30L514.47 155.31L515.28 155.33L516.08 155.34L516.88 155.36L517.69 155.38L518.49 155.40L519.29 155.42L520.09 155.43L520.89 155.45L521.70 155.47L522.50 155.50L523.30 155.52L524.10 155.54L524.90 155.56L525.70 155.58L526.50 155.61L527.31 155.63L528.11 155.66L528.91 155.68L529.71 155.71L530.51 155.74L531.31 155.76L532.11 155.79L532.91 155.82L533.71 155.85L534.51 155.88L535.31 155.91L536.11 155.95L536.91 155.98L537.71 156.01L538.51 156.05L539.31 156.08L540.11 156.12L540.91 156.16L541.71 156.19L542.51 156.23L543.31 156.27L544.11 156.31L544.91 156.35L545.71 156.40L546.50 156.44L547.30 156.48L548.10 156.53L548.90 156.58L549.70 156.62L550.50 156.67L551.29 156.72L552.09 156.77L552.89 156.82L553.69 156.87L554.49 156.93L555.28 156.98L556.08 157.04L556.88 157.09L557.68 157.15L558.47 157.21L559.27 157.27L560.07 157.33L560.86 157.40L561.66 157.46L562.46 157.52L563.25 157.59L564.05 157.66L564.85 157.73L565.64 157.79L566.44 157.87L567.23 157.94L568.03 158.01L568.83 158.09L569.62 158.16L570.42 158.24L571.21 158.32L572.01 158.40L572.80 158.48L573.60 158.56L574.39 158.65L575.19 158.73L575.98 158.82L576.78 158.91L577.57 159.00L578.37 159.09L579.16 159.18L579.95 159.28L580.75 159.37L581.54 159.47L582.34 159.57L583.13 159.67L583.92 159.77L584.72 159.87L585.51 159.98L586.30 160.08L587.10 160.19L587.89 160.30L588.68 160.41L589.48 160.53L590.27 160.64L591.06 160.76L591.85 160.87L592.65 160.99L593.44 161.11L594.23 161.24L595.02 161.36L595.82 161.49L596.61 161.62L597.40 161.75L598.19 161.88L598.98 162.01L599.77 162.15L600.57 162.28L601.36 162.42L602.15 162.56L602.94 162.70L603.73 162.85L604.52 162.99L605.31 163.14L606.10 163.29L606.89 163.44L607.68 163.60L608.47 163.75L609.26 163.91L610.05 164.07L610.84 164.23L611.63 164.40L612.42 164.56L613.21 164.73L614.00 164.90" stroke="#30e030" stroke-width="1.35" stroke-dasharray="7.3 5.0" stroke-linecap="butt"/>
<path d="M460.00 164.50L460.68 164.06L461.38 163.64L462.07 163.23L462.77 162.83L463.47 162.44L464.18 162.07L464.89 161.72L465.60 161.37L466.32 161.04L467.04 160.72L467.77 160.41L468.50 160.11L469.23 159.83L469.96 159.55L470.70 159.29L471.45 159.04L472.19 158.79L472.94 158.56L473.69 158.34L474.44 158.13L475.20 157.93L475.96 157.74L476.72 157.56L477.49 157.38L478.26 157.22L479.03 157.06L479.80 156.92L480.57 156.78L481.35 156.65L482.13 156.52L482.91 156.41L483.70 156.30L484.48 156.20L485.27 156.10L486.06 156.02L486.85 155.94L487.64 155.86L488.44 155.79L489.23 155.73L490.03 155.68L490.83 155.63L491.63 155.58L492.43 155.54L493.24 155.50L494.04 155.47L494.84 155.44L495.65 155.42L496.46 155.40L497.27 155.39L498.08 155.38L498.89 155.37L499.70 155.36L500.51 155.36L501.32 155.36L502.13 155.36L502.94 155.37L503.75 155.38L504.57 155.39L505.38 155.40L506.19 155.41L507.01 155.42L507.82 155.43L508.63 155.45L509.45 155.46L510.26 155.48L511.07 155.50L511.88 155.51L512.69 155.53L513.51 155.54L514.32 155.56L515.13 155.58L515.94 155.59L516.75 155.61L517.56 155.63L518.37 155.65L519.18 155.66L519.99 155.68L520.80 155.70L521.60 155.72L522.41 155.74L523.22 155.76L524.03 155.78L524.84 155.80L525.64 155.82L526.45 155.85L527.26 155.87L528.06 155.89L528.87 155.92L529.68 155.94L530.48 155.96L531.29 155.99L532.09 156.02L532.90 156.04L533.70 156.07L534.51 156.10L535.31 156.13L536.12 156.16L536.92 156.19L537.72 156.22L538.53 156.25L539.33 156.28L540.13 156.31L540.94 156.35L541.74 156.38L542.54 156.41L543.34 156.45L544.14 156.49L544.95 156.53L545.75 156.56L546.55 156.60L547.35 156.64L548.15 156.69L548.95 156.73L549.75 156.77L550.55 156.82L551.35 156.86L552.15 156.91L552.95 156.95L553.75 157.00L554.55 157.05L555.35 157.10L556.14 157.15L556.94 157.21L557.74 157.26L558.54 157.32L559.34 157.37L560.13 157.43L560.93 157.49L561.73 157.55L562.53 157.61L563.32 157.67L564.12 157.73L564.91 157.80L565.71 157.87L566.51 157.93L567.30 158.00L568.10 158.07L568.89 158.14L569.69 158.22L570.48 158.29L571.28 158.37L572.07 158.44L572.87 158.52L573.66 158.60L574.46 158.68L575.25 158.76L576.05 158.85L576.84 158.93L577.63 159.02L578.43 159.11L579.22 159.20L580.01 159.29L580.81 159.39L581.60 159.48L582.39 159.58L583.19 159.68L583.98 159.78L584.77 159.88L585.56 159.99L586.35 160.09L587.15 160.20L587.94 160.31L588.73 160.42L589.52 160.53L590.31 160.65L591.10 160.76L591.90 160.88L592.69 161.00L593.48 161.12L594.27 161.24L595.06 161.37L595.85 161.50L596.64 161.63L597.43 161.76L598.22 161.89L599.01 162.03L599.80 162.16L600.59 162.30L601.38 162.45L602.17 162.59L602.96 162.73L603.75 162.88L604.54 163.03L605.33 163.18L606.11 163.34L606.90 163.49L607.69 163.65L608.48 163.81L609.27 163.98L610.06 164.14L610.85 164.31L611.64 164.48L612.42 164.65L613.21 164.82L614.00 165.00" stroke="#ff8a8a" stroke-width="1.3" stroke-dasharray="1.2 1.6 0.45 1.95" stroke-linecap="butt"/>
</g>
<path d="M373.50 12.50H620.80V165.25H373.50" fill="none" stroke="#8a8a8a" stroke-width="1.1"/>
<path d="M373.50 12.00V165.75" fill="none" stroke="#a6a6a6" stroke-width="1.7"/>
<path d="M373.30 165.10v-2.40M373.30 12.44v2.40M383.62 165.10v-1.40M383.62 12.44v1.40M393.93 165.10v-1.40M393.93 12.44v1.40M404.25 165.10v-1.40M404.25 12.44v1.40M414.56 165.10v-2.40M414.56 12.44v2.40M424.88 165.10v-1.40M424.88 12.44v1.40M435.19 165.10v-1.40M435.19 12.44v1.40M445.50 165.10v-1.40M445.50 12.44v1.40M455.82 165.10v-2.40M455.82 12.44v2.40M466.13 165.10v-1.40M466.13 12.44v1.40M476.45 165.10v-1.40M476.45 12.44v1.40M486.77 165.10v-1.40M486.77 12.44v1.40M497.08 165.10v-2.40M497.08 12.44v2.40M507.39 165.10v-1.40M507.39 12.44v1.40M517.71 165.10v-1.40M517.71 12.44v1.40M528.03 165.10v-1.40M528.03 12.44v1.40M538.34 165.10v-2.40M538.34 12.44v2.40M548.65 165.10v-1.40M548.65 12.44v1.40M558.97 165.10v-1.40M558.97 12.44v1.40M569.29 165.10v-1.40M569.29 12.44v1.40M579.60 165.10v-2.40M579.60 12.44v2.40M589.91 165.10v-1.40M589.91 12.44v1.40M600.23 165.10v-1.40M600.23 12.44v1.40M610.55 165.10v-1.40M610.55 12.44v1.40M620.86 165.10v-2.40M620.86 12.44v2.40M373.30 165.10h2.40M620.86 165.10h-2.40M373.30 158.31h1.40M620.86 158.31h-1.40M373.30 151.53h1.40M620.86 151.53h-1.40M373.30 144.75h1.40M620.86 144.75h-1.40M373.30 137.96h1.40M620.86 137.96h-1.40M373.30 131.17h2.40M620.86 131.17h-2.40M373.30 124.39h1.40M620.86 124.39h-1.40M373.30 117.60h1.40M620.86 117.60h-1.40M373.30 110.82h1.40M620.86 110.82h-1.40M373.30 104.03h1.40M620.86 104.03h-1.40M373.30 97.25h2.40M620.86 97.25h-2.40M373.30 90.46h1.40M620.86 90.46h-1.40M373.30 83.68h1.40M620.86 83.68h-1.40M373.30 76.89h1.40M620.86 76.89h-1.40M373.30 70.11h1.40M620.86 70.11h-1.40M373.30 63.33h2.40M620.86 63.33h-2.40M373.30 56.54h1.40M620.86 56.54h-1.40M373.30 49.75h1.40M620.86 49.75h-1.40M373.30 42.97h1.40M620.86 42.97h-1.40M373.30 36.19h1.40M620.86 36.19h-1.40M373.30 29.40h2.40M620.86 29.40h-2.40M373.30 22.62h1.40M620.86 22.62h-1.40M373.30 15.83h1.40M620.86 15.83h-1.40" stroke="#555" stroke-width="0.9" fill="none"/>
<g class="tl"><text x="373.30" y="174.00" text-anchor="middle" textLength="11.1" lengthAdjust="spacingAndGlyphs">0.0</text><text x="414.56" y="174.00" text-anchor="middle" textLength="11.1" lengthAdjust="spacingAndGlyphs">0.2</text><text x="455.82" y="174.00" text-anchor="middle" textLength="11.1" lengthAdjust="spacingAndGlyphs">0.4</text><text x="497.08" y="174.00" text-anchor="middle" textLength="11.1" lengthAdjust="spacingAndGlyphs">0.6</text><text x="538.34" y="174.00" text-anchor="middle" textLength="11.1" lengthAdjust="spacingAndGlyphs">0.8</text><text x="579.60" y="174.00" text-anchor="middle" textLength="11.1" lengthAdjust="spacingAndGlyphs">1.0</text><text x="620.86" y="174.00" text-anchor="middle" textLength="11.1" lengthAdjust="spacingAndGlyphs">1.2</text><text x="372.20" y="167.70" text-anchor="end" textLength="11.1" lengthAdjust="spacingAndGlyphs">0.0</text><text x="372.20" y="133.77" text-anchor="end" textLength="11.1" lengthAdjust="spacingAndGlyphs">0.1</text><text x="372.20" y="99.85" text-anchor="end" textLength="11.1" lengthAdjust="spacingAndGlyphs">0.2</text><text x="372.20" y="65.92" text-anchor="end" textLength="11.1" lengthAdjust="spacingAndGlyphs">0.3</text><text x="372.20" y="32.00" text-anchor="end" textLength="11.1" lengthAdjust="spacingAndGlyphs">0.4</text></g>
<text class="ti" x="497.10" y="8.40" text-anchor="middle"><tspan class="gi">&#967;</tspan>=0.2</text>
<g class="al" transform="translate(482.18 188.00)"><text x="-0.7" y="0">M/</text><path d="M12.00 -3.40 L13.20 -4.00 L15.40 1.90 L17.30 -9.50 H28.40" fill="none" stroke="#222" stroke-width="0.8" stroke-linejoin="miter" stroke-miterlimit="10"/><path d="M13.20 -4.00 L15.40 1.90" fill="none" stroke="#222" stroke-width="1.1"/><text x="18.50" y="0" font-style="italic">&#945;</text><text x="24.40" y="0.8" font-size="6.2">1</text></g>
<g class="al" transform="translate(354.70 104.42) rotate(-90)"><text x="-0.4" y="0">Q</text><text x="5.4" y="1.3" font-size="5.8">s</text><text x="9.9" y="-0.2" font-size="8.4">/</text><path d="M13.60 -2.60 L14.80 -3.20 L17.00 2.70 L18.90 -8.70 H30.00" fill="none" stroke="#222" stroke-width="0.8" stroke-linejoin="miter" stroke-miterlimit="10"/><path d="M14.80 -3.20 L17.00 2.70" fill="none" stroke="#222" stroke-width="1.1"/><text x="20.10" y="0" font-style="italic">&#945;</text><text x="26.00" y="0.8" font-size="6.2">1</text></g>
<clipPath id="clip_p3"><rect x="27.70" y="210.37" width="247.68" height="152.24"/></clipPath>
<g clip-path="url(#clip_p3)" fill="none" stroke-linejoin="round">
<path d="M90.60 251.40L91.21 250.81L91.83 250.22L92.45 249.64L93.07 249.07L93.70 248.50L94.33 247.95L94.97 247.40L95.61 246.86L96.25 246.33L96.90 245.80L97.55 245.29L98.21 244.78L98.86 244.28L99.53 243.79L100.19 243.30L100.86 242.82L101.53 242.36L102.21 241.89L102.88 241.44L103.57 240.99L104.25 240.56L104.94 240.13L105.63 239.70L106.32 239.29L107.02 238.88L107.72 238.48L108.42 238.09L109.13 237.70L109.84 237.33L110.55 236.96L111.26 236.59L111.98 236.24L112.70 235.89L113.42 235.55L114.14 235.22L114.87 234.89L115.60 234.58L116.33 234.27L117.06 233.96L117.80 233.67L118.53 233.38L119.28 233.10L120.02 232.82L120.76 232.56L121.51 232.30L122.26 232.05L123.01 231.80L123.76 231.56L124.51 231.33L125.27 231.11L126.03 230.89L126.79 230.68L127.55 230.48L128.31 230.28L129.08 230.09L129.84 229.91L130.61 229.74L131.38 229.57L132.15 229.41L132.92 229.25L133.70 229.11L134.47 228.97L135.25 228.83L136.02 228.71L136.80 228.59L137.58 228.47L138.36 228.37L139.14 228.27L139.92 228.17L140.70 228.09L141.49 228.01L142.27 227.93L143.06 227.87L143.84 227.81L144.63 227.75L145.42 227.71L146.21 227.67L146.99 227.63L147.78 227.60L148.57 227.58L149.36 227.57L150.15 227.56L150.94 227.56L151.73 227.56L152.52 227.58L153.31 227.59L154.11 227.62L154.90 227.65L155.69 227.68L156.48 227.73L157.27 227.77L158.06 227.83L158.85 227.89L159.64 227.96L160.43 228.03L161.22 228.11L162.01 228.20L162.80 228.29L163.59 228.39L164.38 228.49L165.17 228.60L165.95 228.72L166.74 228.84L167.53 228.97L168.31 229.10L169.10 229.24L169.88 229.38L170.66 229.54L171.44 229.69L172.22 229.86L173.00 230.03L173.78 230.20L174.56 230.38L175.34 230.57L176.11 230.76L176.89 230.96L177.66 231.16L178.43 231.37L179.20 231.58L179.97 231.80L180.74 232.03L181.50 232.26L182.27 232.50L183.03 232.74L183.79 232.99L184.55 233.24L185.31 233.50L186.07 233.77L186.82 234.04L187.57 234.31L188.32 234.59L189.07 234.88L189.82 235.17L190.56 235.47L191.30 235.77L192.04 236.08L192.78 236.39L193.52 236.71L194.25 237.03L194.98 237.36L195.71 237.69L196.44 238.03L197.16 238.38L197.88 238.73L198.60 239.08L199.32 239.44L200.03 239.80L200.74 240.17L201.45 240.55L202.15 240.93L202.85 241.31L203.55 241.70L204.25 242.09L204.94 242.49L205.63 242.90L206.32 243.30L207.01 243.72L207.69 244.14L208.36 244.56L209.04 244.99L209.71 245.42L210.38 245.86L211.04 246.30L211.70 246.75L212.36 247.20L213.02 247.65L213.67 248.12L214.32 248.58L214.96 249.05L215.60 249.52L216.24 250.00L216.87 250.49L217.50 250.97L218.13 251.47L218.75 251.96L219.37 252.46L219.99 252.97L220.60 253.48L221.21 253.99L221.82 254.51L222.42 255.03L223.02 255.56L223.61 256.09L224.20 256.62L224.79 257.16L225.38 257.70L225.96 258.25L226.54 258.80L227.11 259.35L227.68 259.91L228.25 260.47L228.81 261.03L229.37 261.60L229.92 262.18L230.47 262.75L231.02 263.33L231.57 263.92L232.11 264.51L232.64 265.10L233.18 265.69L233.71 266.29L234.23 266.89L234.76 267.50L235.27 268.11L235.79 268.72L236.30 269.33L236.81 269.95L237.31 270.57L237.81 271.20L238.30 271.83L238.80 272.46L239.28 273.10L239.77 273.73L240.25 274.38L240.72 275.02L241.20 275.67L241.66 276.32L242.13 276.97L242.59 277.63L243.05 278.29L243.50 278.95L243.95 279.62L244.39 280.29L244.83 280.96L245.27 281.63L245.70 282.31L246.13 282.99L246.56 283.67L246.98 284.35L247.40 285.04L247.81 285.73L248.22 286.42L248.62 287.12L249.03 287.82L249.42 288.52L249.82 289.22L250.20 289.92L250.59 290.63L250.97 291.34L251.35 292.05L251.72 292.77L252.09 293.49L252.45 294.20L252.81 294.93L253.17 295.65L253.52 296.37L253.87 297.10L254.21 297.83L254.55 298.56L254.88 299.30L255.22 300.03L255.54 300.77L255.86 301.51L256.18 302.25L256.50 302.99L256.81 303.74L257.11 304.49L257.41 305.24L257.71 305.99L258.00 306.74L258.29 307.49L258.57 308.25L258.85 309.01L259.13 309.76L259.40 310.52L259.67 311.29L259.93 312.05L260.19 312.81L260.44 313.58L260.69 314.35L260.93 315.12L261.17 315.89L261.41 316.66L261.64 317.43L261.87 318.21L262.09 318.98L262.31 319.76L262.52 320.54L262.73 321.32L262.93 322.10L263.13 322.88L263.33 323.66L263.52 324.44L263.71 325.23L263.89 326.01L264.07 326.80L264.24 327.58L264.41 328.37L264.57 329.16L264.73 329.95L264.89 330.74L265.04 331.53L265.18 332.32L265.32 333.11L265.46 333.91L265.59 334.70L265.72 335.49L265.84 336.29L265.96 337.08L266.07 337.88L266.18 338.67L266.28 339.47L266.38 340.27L266.47 341.06L266.56 341.86L266.65 342.66L266.73 343.46L266.80 344.25L266.87 345.05L266.94 345.85L267.00 346.65L267.06 347.45L267.11 348.25L267.15 349.04L267.19 349.84L267.23 350.64L267.26 351.44L267.29 352.24L267.31 353.04L267.33 353.84L267.34 354.63L267.35 355.43L267.35 356.23L267.35 357.03L267.34 357.83L267.33 358.62L267.31 359.42L267.29 360.21L267.27 361.01L267.23 361.81L267.20 362.60" stroke="#ff9030" stroke-width="1.25" stroke-linecap="butt"/>
<path d="M177.60 232.60L178.41 232.79L179.22 233.00L180.03 233.20L180.83 233.42L181.63 233.64L182.42 233.86L183.21 234.10L184.00 234.33L184.79 234.58L185.57 234.83L186.35 235.09L187.12 235.35L187.89 235.62L188.66 235.89L189.43 236.17L190.19 236.46L190.94 236.75L191.70 237.04L192.45 237.35L193.19 237.66L193.94 237.97L194.68 238.29L195.41 238.61L196.14 238.95L196.87 239.28L197.60 239.62L198.32 239.97L199.04 240.32L199.75 240.68L200.46 241.04L201.17 241.41L201.88 241.79L202.58 242.17L203.27 242.55L203.97 242.94L204.66 243.34L205.34 243.73L206.03 244.14L206.70 244.55L207.38 244.96L208.05 245.38L208.72 245.81L209.38 246.24L210.04 246.67L210.70 247.11L211.36 247.56L212.01 248.01L212.65 248.46L213.29 248.92L213.93 249.38L214.57 249.85L215.20 250.32L215.83 250.80L216.45 251.28L217.07 251.77L217.69 252.26L218.31 252.75L218.92 253.25L219.52 253.76L220.12 254.27L220.72 254.78L221.32 255.30L221.91 255.82L222.50 256.34L223.08 256.87L223.66 257.41L224.24 257.94L224.81 258.49L225.38 259.03L225.95 259.58L226.51 260.14L227.07 260.69L227.62 261.26L228.17 261.82L228.72 262.39L229.26 262.96L229.80 263.54L230.33 264.12L230.87 264.71L231.39 265.30L231.92 265.89L232.44 266.48L232.96 267.08L233.47 267.69L233.98 268.29L234.48 268.90L234.99 269.52L235.48 270.13L235.98 270.75L236.47 271.38L236.95 272.01L237.44 272.64L237.92 273.27L238.39 273.91L238.86 274.55L239.33 275.19L239.79 275.84L240.25 276.49L240.71 277.14L241.16 277.79L241.61 278.45L242.05 279.11L242.49 279.78L242.93 280.45L243.36 281.12L243.79 281.79L244.22 282.47L244.64 283.15L245.05 283.83L245.47 284.51L245.88 285.20L246.28 285.89L246.68 286.58L247.08 287.28L247.48 287.97L247.87 288.67L248.25 289.37L248.63 290.08L249.01 290.79L249.39 291.50L249.76 292.21L250.12 292.92L250.49 293.64L250.84 294.36L251.20 295.08L251.55 295.80L251.90 296.53L252.24 297.26L252.58 297.99L252.91 298.72L253.24 299.45L253.57 300.19L253.89 300.92L254.21 301.66L254.53 302.41L254.84 303.15L255.15 303.89L255.45 304.64L255.75 305.39L256.04 306.14L256.33 306.89L256.62 307.65L256.90 308.40L257.18 309.16L257.46 309.92L257.73 310.68L257.99 311.44L258.26 312.20L258.52 312.97L258.77 313.73L259.02 314.50L259.27 315.27L259.51 316.04L259.75 316.81L259.98 317.58L260.21 318.36L260.44 319.13L260.66 319.91L260.88 320.69L261.09 321.46L261.30 322.24L261.51 323.02L261.71 323.80L261.91 324.59L262.10 325.37L262.29 326.15L262.48 326.94L262.66 327.72L262.84 328.51L263.01 329.30L263.18 330.09L263.34 330.87L263.50 331.66L263.66 332.45L263.81 333.24L263.96 334.03L264.11 334.83L264.25 335.62L264.38 336.41L264.51 337.20L264.64 338.00L264.76 338.79L264.88 339.58L265.00 340.38L265.11 341.17L265.21 341.97L265.32 342.76L265.41 343.56L265.51 344.35L265.60 345.15L265.68 345.94L265.76 346.74L265.84 347.53L265.91 348.33L265.98 349.12L266.05 349.92L266.11 350.71L266.16 351.51L266.22 352.30L266.26 353.10L266.31 353.89L266.34 354.69L266.38 355.48L266.41 356.27L266.44 357.07L266.46 357.86L266.47 358.65L266.49 359.44L266.50 360.23L266.50 361.02L266.50 361.81L266.50 362.60" stroke="#3030ff" stroke-width="1.35" stroke-dasharray="7.3 5.0" stroke-linecap="butt"/>
<path d="M201.00 249.20L201.69 249.61L202.39 250.02L203.07 250.43L203.76 250.85L204.44 251.27L205.13 251.69L205.80 252.12L206.48 252.56L207.15 253.00L207.82 253.44L208.49 253.88L209.15 254.33L209.82 254.78L210.47 255.24L211.13 255.70L211.78 256.17L212.43 256.64L213.08 257.11L213.72 257.59L214.36 258.07L215.00 258.55L215.63 259.04L216.26 259.53L216.89 260.03L217.51 260.53L218.13 261.03L218.75 261.54L219.36 262.05L219.98 262.56L220.58 263.08L221.19 263.61L221.79 264.13L222.38 264.66L222.97 265.20L223.56 265.74L224.15 266.28L224.73 266.82L225.31 267.37L225.88 267.93L226.45 268.48L227.02 269.05L227.58 269.61L228.14 270.18L228.70 270.75L229.25 271.33L229.79 271.91L230.34 272.49L230.88 273.08L231.41 273.67L231.94 274.26L232.47 274.86L232.99 275.47L233.51 276.07L234.02 276.68L234.53 277.30L235.04 277.91L235.54 278.53L236.03 279.16L236.52 279.79L237.01 280.42L237.49 281.06L237.97 281.70L238.45 282.34L238.92 282.99L239.38 283.64L239.84 284.29L240.30 284.95L240.75 285.61L241.20 286.27L241.64 286.94L242.08 287.61L242.52 288.28L242.95 288.95L243.38 289.63L243.81 290.31L244.23 291.00L244.64 291.68L245.06 292.37L245.47 293.06L245.87 293.75L246.27 294.45L246.67 295.15L247.07 295.85L247.46 296.55L247.85 297.25L248.24 297.96L248.62 298.66L249.00 299.37L249.38 300.08L249.75 300.79L250.12 301.51L250.49 302.22L250.85 302.94L251.21 303.66L251.57 304.38L251.92 305.10L252.27 305.82L252.61 306.55L252.95 307.27L253.28 308.00L253.61 308.73L253.93 309.46L254.24 310.20L254.55 310.93L254.86 311.67L255.16 312.41L255.45 313.15L255.73 313.90L256.01 314.64L256.28 315.39L256.54 316.14L256.80 316.90L257.05 317.65L257.29 318.41L257.52 319.17L257.74 319.93L257.96 320.70L258.16 321.46L258.36 322.23L258.55 323.00L258.73 323.78L258.90 324.55L259.07 325.33L259.23 326.11L259.39 326.89L259.54 327.67L259.68 328.46L259.82 329.24L259.95 330.03L260.08 330.82L260.21 331.61L260.33 332.40L260.46 333.19L260.57 333.98L260.69 334.77L260.80 335.56L260.92 336.35L261.03 337.14L261.14 337.94L261.25 338.73L261.37 339.52L261.48 340.31L261.59 341.10L261.71 341.89L261.82 342.68L261.94 343.47L262.07 344.26L262.19 345.05L262.32 345.84L262.45 346.62L262.59 347.41L262.73 348.19L262.88 348.97L263.03 349.75L263.19 350.53L263.36 351.30L263.53 352.08L263.71 352.85L263.89 353.62L264.09 354.39L264.30 355.15L264.51 355.91L264.74 356.67L264.98 357.42L265.22 358.18L265.49 358.92L265.76 359.67L266.05 360.41L266.35 361.14L266.67 361.87L267.00 362.60" stroke="#ff1aff" stroke-width="1.3" stroke-dasharray="1.2 1.6 0.45 1.95" stroke-linecap="butt"/>
<path d="M36.00 347.40L36.62 346.88L37.24 346.37L37.87 345.87L38.51 345.38L39.15 344.90L39.80 344.43L40.45 343.97L41.10 343.52L41.76 343.08L42.43 342.64L43.10 342.22L43.77 341.80L44.45 341.39L45.14 340.99L45.82 340.60L46.52 340.22L47.21 339.85L47.92 339.48L48.62 339.13L49.33 338.78L50.04 338.44L50.76 338.10L51.48 337.78L52.20 337.46L52.93 337.15L53.66 336.84L54.40 336.55L55.13 336.26L55.87 335.97L56.62 335.70L57.37 335.43L58.12 335.17L58.87 334.91L59.62 334.66L60.38 334.42L61.14 334.18L61.91 333.95L62.67 333.73L63.44 333.51L64.21 333.30L64.99 333.09L65.76 332.89L66.54 332.69L67.32 332.50L68.10 332.32L68.88 332.14L69.67 331.96L70.45 331.79L71.24 331.63L72.03 331.47L72.82 331.31L73.61 331.16L74.41 331.01L75.20 330.87L76.00 330.73L76.79 330.59L77.59 330.46L78.39 330.34L79.19 330.21L79.99 330.09L80.79 329.98L81.59 329.87L82.39 329.76L83.19 329.65L83.99 329.55L84.79 329.45L85.59 329.35L86.40 329.26L87.20 329.17L88.00 329.08L88.80 328.99L89.60 328.91L90.40 328.83L91.20 328.75L92.00 328.67L92.81 328.60L93.61 328.53L94.41 328.46L95.21 328.39L96.01 328.33L96.81 328.27L97.61 328.21L98.41 328.15L99.21 328.10L100.01 328.04L100.80 327.99L101.60 327.95L102.40 327.90L103.20 327.86L104.00 327.82L104.80 327.78L105.60 327.74L106.40 327.71L107.20 327.67L108.00 327.64L108.79 327.61L109.59 327.59L110.39 327.56L111.19 327.54L111.99 327.52L112.78 327.50L113.58 327.49L114.38 327.47L115.18 327.46L115.98 327.45L116.77 327.44L117.57 327.43L118.37 327.43L119.17 327.42L119.96 327.42L120.76 327.42L121.56 327.42L122.36 327.43L123.16 327.43L123.95 327.44L124.75 327.45L125.55 327.46L126.34 327.47L127.14 327.48L127.94 327.50L128.74 327.51L129.53 327.53L130.33 327.55L131.13 327.57L131.93 327.59L132.72 327.62L133.52 327.64L134.32 327.67L135.12 327.70L135.91 327.73L136.71 327.76L137.51 327.79L138.30 327.82L139.10 327.86L139.90 327.90L140.70 327.93L141.49 327.97L142.29 328.01L143.09 328.05L143.89 328.09L144.68 328.14L145.48 328.18L146.28 328.23L147.08 328.28L147.88 328.32L148.67 328.37L149.47 328.42L150.27 328.47L151.07 328.52L151.87 328.58L152.66 328.63L153.46 328.69L154.26 328.74L155.06 328.80L155.86 328.85L156.66 328.91L157.46 328.97L158.26 329.03L159.05 329.09L159.85 329.15L160.65 329.22L161.45 329.28L162.25 329.34L163.05 329.41L163.85 329.47L164.65 329.54L165.45 329.61L166.25 329.67L167.05 329.74L167.85 329.81L168.65 329.88L169.45 329.95L170.25 330.03L171.05 330.10L171.85 330.18L172.65 330.25L173.45 330.33L174.25 330.41L175.05 330.49L175.85 330.57L176.65 330.65L177.45 330.73L178.24 330.81L179.04 330.90L179.84 330.98L180.64 331.07L181.44 331.16L182.24 331.25L183.04 331.34L183.84 331.43L184.64 331.53L185.44 331.62L186.23 331.72L187.03 331.82L187.83 331.92L188.63 332.02L189.43 332.12L190.22 332.23L191.02 332.33L191.82 332.44L192.62 332.55L193.41 332.66L194.21 332.77L195.00 332.89L195.80 333.00L196.60 333.12L197.39 333.24L198.19 333.36L198.98 333.48L199.78 333.60L200.57 333.73L201.37 333.86L202.16 333.99L202.95 334.12L203.75 334.25L204.54 334.39L205.33 334.52L206.12 334.66L206.92 334.80L207.71 334.95L208.50 335.09L209.29 335.24L210.08 335.39L210.87 335.54L211.66 335.69L212.45 335.85L213.24 336.00L214.03 336.16L214.82 336.32L215.60 336.49L216.39 336.65L217.18 336.82L217.96 336.99L218.75 337.16L219.53 337.34L220.32 337.52L221.10 337.70L221.89 337.88L222.67 338.06L223.45 338.25L224.24 338.44L225.02 338.63L225.80 338.82L226.58 339.02L227.36 339.22L228.14 339.42L228.92 339.62L229.70 339.83L230.48 340.04L231.25 340.25L232.03 340.47L232.81 340.68L233.58 340.90L234.35 341.13L235.12 341.36L235.89 341.59L236.66 341.83L237.42 342.07L238.19 342.31L238.95 342.56L239.70 342.82L240.46 343.08L241.21 343.35L241.96 343.62L242.70 343.90L243.44 344.19L244.18 344.48L244.91 344.78L245.64 345.08L246.36 345.39L247.08 345.71L247.79 346.04L248.50 346.38L249.20 346.72L249.90 347.07L250.59 347.43L251.27 347.80L251.95 348.18L252.62 348.56L253.29 348.96L253.95 349.37L254.60 349.78L255.24 350.21L255.88 350.65L256.51 351.09L257.13 351.55L257.74 352.02L258.35 352.50L258.95 352.99L259.54 353.49L260.12 354.01L260.69 354.54L261.25 355.08L261.80 355.63L262.34 356.19L262.88 356.77L263.40 357.36L263.91 357.97L264.42 358.59L264.91 359.22L265.39 359.87L265.86 360.53L266.32 361.20L266.77 361.89L267.20 362.60" stroke="#93279f" stroke-width="1.3" stroke-linecap="butt"/>
<path d="M112.00 329.00L112.81 328.91L113.63 328.83L114.44 328.76L115.25 328.68L116.06 328.61L116.87 328.54L117.68 328.48L118.49 328.42L119.29 328.37L120.10 328.31L120.91 328.26L121.71 328.22L122.52 328.17L123.32 328.14L124.13 328.10L124.93 328.07L125.73 328.04L126.53 328.01L127.33 327.99L128.14 327.97L128.94 327.95L129.74 327.93L130.53 327.92L131.33 327.91L132.13 327.91L132.93 327.91L133.73 327.91L134.52 327.91L135.32 327.92L136.12 327.93L136.91 327.94L137.71 327.95L138.50 327.97L139.30 327.99L140.09 328.01L140.88 328.03L141.68 328.06L142.47 328.09L143.26 328.12L144.05 328.16L144.85 328.19L145.64 328.23L146.43 328.27L147.22 328.32L148.01 328.36L148.80 328.41L149.59 328.46L150.38 328.51L151.17 328.57L151.96 328.63L152.75 328.68L153.54 328.74L154.33 328.81L155.12 328.87L155.91 328.94L156.70 329.01L157.49 329.08L158.28 329.15L159.07 329.22L159.86 329.30L160.64 329.37L161.43 329.45L162.22 329.53L163.01 329.62L163.80 329.70L164.59 329.78L165.38 329.87L166.17 329.96L166.95 330.05L167.74 330.14L168.53 330.23L169.32 330.32L170.11 330.42L170.90 330.52L171.69 330.61L172.48 330.71L173.27 330.81L174.06 330.91L174.85 331.01L175.64 331.12L176.43 331.22L177.22 331.32L178.01 331.43L178.81 331.54L179.60 331.64L180.39 331.75L181.18 331.86L181.97 331.97L182.77 332.08L183.56 332.19L184.35 332.31L185.15 332.42L185.94 332.53L186.74 332.65L187.53 332.76L188.33 332.87L189.12 332.99L189.92 333.11L190.71 333.22L191.51 333.34L192.31 333.46L193.11 333.57L193.91 333.69L194.70 333.81L195.50 333.93L196.30 334.04L197.10 334.16L197.91 334.28L198.71 334.40L199.51 334.52L200.31 334.63L201.12 334.75L201.92 334.87L202.72 334.99L203.53 335.11L204.33 335.23L205.14 335.35L205.94 335.47L206.75 335.59L207.55 335.71L208.36 335.84L209.16 335.96L209.97 336.09L210.77 336.22L211.58 336.35L212.38 336.48L213.19 336.61L213.99 336.75L214.79 336.88L215.59 337.02L216.39 337.16L217.19 337.31L217.99 337.45L218.79 337.60L219.59 337.75L220.38 337.91L221.18 338.07L221.97 338.23L222.76 338.39L223.55 338.56L224.34 338.73L225.13 338.90L225.91 339.08L226.70 339.26L227.48 339.44L228.26 339.63L229.04 339.83L229.82 340.02L230.59 340.23L231.36 340.43L232.13 340.64L232.90 340.86L233.67 341.08L234.43 341.31L235.19 341.54L235.95 341.77L236.71 342.01L237.46 342.26L238.21 342.51L238.96 342.77L239.71 343.03L240.45 343.30L241.19 343.58L241.92 343.86L242.66 344.14L243.39 344.44L244.11 344.74L244.84 345.05L245.55 345.36L246.27 345.68L246.98 346.01L247.69 346.34L248.40 346.68L249.10 347.03L249.80 347.39L250.49 347.75L251.18 348.12L251.86 348.50L252.54 348.89L253.22 349.29L253.89 349.69L254.55 350.11L255.20 350.53L255.85 350.97L256.49 351.41L257.13 351.87L257.75 352.34L258.37 352.82L258.97 353.31L259.57 353.81L260.16 354.33L260.73 354.86L261.30 355.40L261.85 355.95L262.40 356.52L262.93 357.11L263.45 357.70L263.95 358.32L264.45 358.94L264.92 359.59L265.39 360.25L265.84 360.92L266.28 361.61L266.70 362.32L267.10 363.05" stroke="#30eeff" stroke-width="1.35" stroke-dasharray="7.3 5.0" stroke-linecap="butt"/>
<path d="M126.40 339.00L127.09 338.55L127.79 338.12L128.49 337.71L129.19 337.32L129.90 336.94L130.62 336.58L131.33 336.23L132.05 335.90L132.78 335.59L133.51 335.29L134.24 335.01L134.97 334.74L135.71 334.49L136.46 334.25L137.20 334.02L137.95 333.81L138.70 333.61L139.45 333.43L140.21 333.25L140.97 333.09L141.73 332.94L142.50 332.80L143.27 332.67L144.04 332.56L144.81 332.45L145.59 332.36L146.37 332.27L147.15 332.20L147.93 332.13L148.71 332.08L149.50 332.03L150.29 331.99L151.08 331.96L151.87 331.94L152.66 331.92L153.46 331.91L154.25 331.91L155.05 331.91L155.85 331.93L156.65 331.94L157.45 331.97L158.25 332.00L159.06 332.03L159.86 332.07L160.67 332.11L161.47 332.16L162.28 332.21L163.09 332.26L163.90 332.32L164.71 332.38L165.52 332.44L166.33 332.51L167.13 332.58L167.94 332.64L168.76 332.71L169.57 332.79L170.38 332.86L171.19 332.93L172.00 333.00L172.80 333.08L173.61 333.15L174.42 333.23L175.23 333.30L176.04 333.38L176.85 333.46L177.66 333.54L178.47 333.62L179.28 333.70L180.09 333.78L180.89 333.86L181.70 333.95L182.51 334.03L183.32 334.12L184.12 334.21L184.93 334.29L185.74 334.38L186.54 334.47L187.35 334.57L188.16 334.66L188.96 334.75L189.77 334.85L190.57 334.95L191.37 335.04L192.18 335.14L192.98 335.25L193.79 335.35L194.59 335.45L195.39 335.56L196.19 335.67L196.99 335.77L197.80 335.89L198.60 336.00L199.40 336.11L200.20 336.23L201.00 336.34L201.79 336.46L202.59 336.58L203.39 336.71L204.19 336.83L204.99 336.96L205.78 337.09L206.58 337.22L207.37 337.35L208.17 337.48L208.96 337.62L209.76 337.76L210.55 337.90L211.34 338.04L212.13 338.18L212.92 338.33L213.71 338.48L214.50 338.63L215.29 338.78L216.08 338.94L216.87 339.10L217.66 339.26L218.44 339.42L219.23 339.58L220.01 339.75L220.80 339.92L221.58 340.09L222.36 340.27L223.15 340.45L223.93 340.63L224.71 340.81L225.49 340.99L226.27 341.18L227.05 341.37L227.82 341.57L228.60 341.76L229.38 341.96L230.15 342.16L230.92 342.37L231.70 342.57L232.47 342.78L233.24 343.00L234.01 343.22L234.78 343.44L235.54 343.66L236.31 343.89L237.07 344.13L237.83 344.37L238.59 344.61L239.34 344.86L240.10 345.12L240.85 345.38L241.60 345.64L242.34 345.91L243.08 346.19L243.82 346.47L244.56 346.76L245.29 347.06L246.02 347.36L246.74 347.68L247.46 347.99L248.18 348.32L248.90 348.65L249.60 349.00L250.31 349.34L251.01 349.70L251.70 350.07L252.40 350.44L253.08 350.83L253.76 351.22L254.44 351.62L255.11 352.04L255.77 352.46L256.43 352.89L257.09 353.33L257.73 353.78L258.38 354.25L259.01 354.72L259.64 355.21L260.27 355.70L260.88 356.21L261.49 356.73L262.10 357.26L262.69 357.80L263.28 358.36L263.86 358.92L264.44 359.50L265.01 360.10L265.57 360.70L266.12 361.32L266.66 361.95L267.20 362.60" stroke="#9a6633" stroke-width="1.3" stroke-dasharray="1.2 1.6 0.45 1.95" stroke-linecap="butt"/>
<path d="M39.40 356.60L40.19 356.47L40.99 356.34L41.78 356.21L42.57 356.09L43.37 355.97L44.16 355.85L44.95 355.73L45.75 355.62L46.54 355.50L47.34 355.39L48.13 355.28L48.92 355.18L49.72 355.07L50.51 354.97L51.31 354.87L52.10 354.77L52.90 354.67L53.69 354.58L54.49 354.48L55.28 354.39L56.08 354.30L56.87 354.22L57.67 354.13L58.46 354.05L59.26 353.97L60.05 353.89L60.85 353.81L61.64 353.73L62.44 353.66L63.23 353.58L64.03 353.51L64.83 353.44L65.62 353.38L66.42 353.31L67.21 353.25L68.01 353.18L68.81 353.12L69.60 353.06L70.40 353.00L71.20 352.95L71.99 352.89L72.79 352.84L73.59 352.79L74.38 352.74L75.18 352.69L75.98 352.64L76.77 352.60L77.57 352.55L78.37 352.51L79.17 352.47L79.96 352.43L80.76 352.39L81.56 352.35L82.36 352.32L83.15 352.28L83.95 352.25L84.75 352.22L85.55 352.19L86.35 352.16L87.14 352.13L87.94 352.11L88.74 352.08L89.54 352.06L90.34 352.03L91.13 352.01L91.93 351.99L92.73 351.97L93.53 351.95L94.33 351.93L95.13 351.92L95.93 351.90L96.73 351.89L97.52 351.88L98.32 351.86L99.12 351.85L99.92 351.84L100.72 351.83L101.52 351.83L102.32 351.82L103.12 351.81L103.92 351.81L104.72 351.80L105.52 351.80L106.32 351.80L107.11 351.79L107.91 351.79L108.71 351.79L109.51 351.79L110.31 351.79L111.11 351.80L111.91 351.80L112.71 351.80L113.51 351.81L114.31 351.81L115.11 351.82L115.91 351.82L116.71 351.83L117.51 351.84L118.31 351.85L119.11 351.85L119.91 351.86L120.72 351.87L121.52 351.88L122.32 351.90L123.12 351.91L123.92 351.92L124.72 351.93L125.52 351.94L126.32 351.96L127.12 351.97L127.92 351.98L128.72 352.00L129.52 352.01L130.32 352.03L131.12 352.04L131.93 352.06L132.73 352.08L133.53 352.09L134.33 352.11L135.13 352.13L135.93 352.14L136.73 352.16L137.53 352.18L138.33 352.20L139.14 352.22L139.94 352.23L140.74 352.25L141.54 352.27L142.34 352.29L143.14 352.31L143.94 352.33L144.75 352.35L145.55 352.36L146.35 352.38L147.15 352.40L147.95 352.42L148.75 352.44L149.56 352.46L150.36 352.48L151.16 352.50L151.96 352.51L152.76 352.53L153.57 352.55L154.37 352.57L155.17 352.59L155.97 352.61L156.77 352.63L157.57 352.64L158.38 352.66L159.18 352.68L159.98 352.70L160.78 352.72L161.58 352.74L162.39 352.76L163.19 352.78L163.99 352.80L164.79 352.82L165.59 352.84L166.40 352.86L167.20 352.88L168.00 352.90L168.80 352.92L169.60 352.94L170.40 352.96L171.21 352.98L172.01 353.01L172.81 353.03L173.61 353.05L174.41 353.07L175.21 353.10L176.02 353.12L176.82 353.15L177.62 353.17L178.42 353.20L179.22 353.22L180.02 353.25L180.82 353.27L181.63 353.30L182.43 353.33L183.23 353.36L184.03 353.38L184.83 353.41L185.63 353.44L186.43 353.47L187.23 353.50L188.03 353.53L188.83 353.57L189.63 353.60L190.43 353.63L191.23 353.66L192.03 353.70L192.84 353.73L193.64 353.77L194.44 353.81L195.24 353.84L196.03 353.88L196.83 353.92L197.63 353.96L198.43 354.00L199.23 354.04L200.03 354.08L200.83 354.12L201.63 354.17L202.43 354.21L203.23 354.26L204.03 354.30L204.83 354.35L205.62 354.40L206.42 354.44L207.22 354.49L208.02 354.54L208.82 354.60L209.61 354.65L210.41 354.70L211.21 354.76L212.01 354.81L212.80 354.87L213.60 354.92L214.40 354.98L215.20 355.04L215.99 355.10L216.79 355.16L217.59 355.23L218.38 355.29L219.18 355.36L219.97 355.42L220.77 355.49L221.57 355.56L222.36 355.63L223.16 355.70L223.95 355.77L224.75 355.84L225.54 355.92L226.34 355.99L227.13 356.07L227.92 356.15L228.72 356.23L229.51 356.31L230.31 356.39L231.10 356.48L231.89 356.56L232.69 356.65L233.48 356.74L234.27 356.83L235.06 356.92L235.86 357.01L236.65 357.10L237.44 357.20L238.23 357.30L239.02 357.40L239.81 357.50L240.60 357.60L241.39 357.71L242.18 357.82L242.97 357.93L243.76 358.04L244.55 358.15L245.34 358.27L246.12 358.39L246.91 358.51L247.70 358.63L248.48 358.76L249.27 358.88L250.06 359.01L250.84 359.15L251.63 359.28L252.41 359.42L253.19 359.56L253.98 359.70L254.76 359.85L255.54 360.00L256.32 360.15L257.10 360.30L257.88 360.46L258.66 360.62L259.44 360.79L260.22 360.95L261.00 361.12L261.78 361.29L262.55 361.47L263.33 361.65L264.11 361.83L264.88 362.02L265.65 362.21L266.43 362.40L267.20 362.60" stroke="#ff3a3a" stroke-width="1.25" stroke-linecap="butt"/>
<path d="M64.00 363.40L64.58 362.86L65.18 362.35L65.80 361.86L66.43 361.40L67.07 360.96L67.73 360.55L68.40 360.15L69.08 359.78L69.78 359.43L70.48 359.09L71.19 358.77L71.91 358.46L72.64 358.17L73.37 357.89L74.11 357.63L74.86 357.38L75.61 357.13L76.36 356.90L77.12 356.67L77.88 356.45L78.64 356.24L79.40 356.03L80.16 355.83L80.93 355.64L81.70 355.45L82.47 355.27L83.24 355.09L84.01 354.92L84.79 354.76L85.57 354.60L86.34 354.45L87.12 354.31L87.91 354.17L88.69 354.03L89.47 353.90L90.26 353.78L91.05 353.66L91.84 353.55L92.63 353.44L93.42 353.33L94.21 353.23L95.00 353.14L95.80 353.05L96.60 352.96L97.39 352.88L98.19 352.80L98.99 352.73L99.79 352.66L100.59 352.60L101.39 352.54L102.20 352.48L103.00 352.43L103.80 352.38L104.61 352.33L105.41 352.29L106.22 352.25L107.03 352.21L107.83 352.18L108.64 352.15L109.45 352.12L110.26 352.09L111.07 352.07L111.88 352.05L112.69 352.03L113.50 352.02L114.31 352.01L115.12 352.00L115.93 351.99L116.74 351.98L117.55 351.98L118.36 351.98L119.17 351.98L119.98 351.98L120.79 351.98L121.60 351.98L122.41 351.99L123.22 351.99L124.03 352.00L124.84 352.01L125.64 352.02L126.45 352.03L127.26 352.04L128.07 352.05L128.88 352.06L129.68 352.08L130.49 352.09L131.29 352.10L132.10 352.12L132.90 352.13L133.71 352.15L134.51 352.16L135.31 352.18L136.12 352.20L136.92 352.22L137.72 352.23L138.52 352.25L139.33 352.27L140.13 352.29L140.93 352.31L141.73 352.34L142.53 352.36L143.33 352.38L144.13 352.40L144.93 352.42L145.73 352.45L146.53 352.47L147.32 352.50L148.12 352.52L148.92 352.55L149.72 352.57L150.52 352.60L151.31 352.63L152.11 352.65L152.91 352.68L153.70 352.71L154.50 352.74L155.30 352.77L156.09 352.79L156.89 352.82L157.68 352.85L158.48 352.88L159.28 352.91L160.07 352.95L160.87 352.98L161.66 353.01L162.46 353.04L163.25 353.07L164.05 353.10L164.84 353.14L165.63 353.17L166.43 353.20L167.22 353.24L168.02 353.27L168.81 353.31L169.61 353.34L170.40 353.38L171.19 353.41L171.99 353.45L172.78 353.48L173.58 353.52L174.37 353.55L175.17 353.59L175.96 353.62L176.75 353.66L177.55 353.70L178.34 353.73L179.14 353.77L179.93 353.81L180.73 353.85L181.52 353.88L182.31 353.92L183.11 353.96L183.90 354.00L184.70 354.04L185.49 354.07L186.29 354.11L187.08 354.15L187.88 354.19L188.68 354.23L189.47 354.27L190.27 354.31L191.06 354.34L191.86 354.38L192.66 354.42L193.45 354.46L194.25 354.50L195.05 354.54L195.85 354.58L196.64 354.62L197.44 354.66L198.24 354.69L199.04 354.73L199.84 354.77L200.64 354.81L201.44 354.85L202.23 354.89L203.03 354.93L203.84 354.97L204.64 355.01L205.44 355.05L206.24 355.08L207.04 355.12L207.84 355.16L208.64 355.20L209.45 355.24L210.25 355.28L211.05 355.31L211.86 355.35L212.66 355.39L213.46 355.43L214.27 355.47L215.07 355.51L215.88 355.55L216.68 355.59L217.49 355.63L218.30 355.67L219.10 355.71L219.91 355.75L220.71 355.80L221.52 355.84L222.32 355.89L223.13 355.93L223.93 355.98L224.74 356.03L225.54 356.08L226.35 356.13L227.15 356.19L227.96 356.24L228.76 356.30L229.57 356.36L230.37 356.42L231.17 356.48L231.97 356.55L232.78 356.61L233.58 356.68L234.38 356.75L235.18 356.83L235.98 356.90L236.78 356.98L237.58 357.07L238.38 357.15L239.18 357.24L239.97 357.33L240.77 357.42L241.56 357.51L242.36 357.61L243.15 357.71L243.95 357.82L244.74 357.93L245.53 358.04L246.32 358.16L247.11 358.28L247.90 358.40L248.69 358.52L249.47 358.65L250.26 358.79L251.04 358.93L251.82 359.07L252.61 359.22L253.39 359.37L254.17 359.52L254.94 359.68L255.72 359.85L256.50 360.01L257.27 360.19L258.04 360.37L258.82 360.55L259.59 360.74L260.35 360.93L261.12 361.13L261.89 361.33L262.65 361.54L263.41 361.75L264.17 361.97L264.93 362.19L265.69 362.42L266.45 362.66L267.20 362.90" stroke="#30e030" stroke-width="1.35" stroke-dasharray="7.3 5.0" stroke-linecap="butt"/>
<path d="M114.00 362.60L114.67 362.12L115.34 361.66L116.02 361.21L116.70 360.78L117.39 360.36L118.08 359.96L118.78 359.57L119.48 359.19L120.18 358.83L120.89 358.48L121.61 358.14L122.32 357.82L123.04 357.51L123.77 357.21L124.49 356.92L125.22 356.65L125.96 356.39L126.70 356.14L127.44 355.90L128.18 355.67L128.93 355.45L129.68 355.24L130.44 355.04L131.19 354.85L131.95 354.68L132.72 354.51L133.48 354.35L134.25 354.20L135.02 354.06L135.79 353.93L136.57 353.80L137.35 353.69L138.13 353.58L138.91 353.48L139.69 353.39L140.48 353.30L141.27 353.23L142.06 353.16L142.85 353.09L143.64 353.03L144.44 352.98L145.24 352.94L146.04 352.90L146.83 352.86L147.64 352.83L148.44 352.81L149.24 352.79L150.05 352.77L150.85 352.76L151.66 352.76L152.47 352.75L153.27 352.75L154.08 352.76L154.89 352.77L155.70 352.78L156.51 352.79L157.32 352.81L158.13 352.82L158.95 352.84L159.76 352.87L160.57 352.89L161.38 352.91L162.19 352.94L163.00 352.97L163.81 352.99L164.62 353.02L165.43 353.05L166.24 353.08L167.05 353.11L167.86 353.14L168.67 353.17L169.48 353.20L170.29 353.23L171.10 353.26L171.91 353.29L172.71 353.32L173.52 353.36L174.33 353.39L175.13 353.42L175.94 353.46L176.75 353.49L177.55 353.52L178.36 353.56L179.16 353.60L179.97 353.63L180.77 353.67L181.58 353.70L182.38 353.74L183.19 353.78L183.99 353.82L184.80 353.86L185.60 353.90L186.40 353.93L187.20 353.97L188.01 354.01L188.81 354.06L189.61 354.10L190.41 354.14L191.22 354.18L192.02 354.22L192.82 354.27L193.62 354.31L194.42 354.35L195.22 354.40L196.02 354.44L196.82 354.49L197.62 354.54L198.42 354.58L199.22 354.63L200.02 354.68L200.82 354.72L201.62 354.77L202.42 354.82L203.22 354.87L204.02 354.92L204.82 354.97L205.62 355.02L206.41 355.07L207.21 355.12L208.01 355.18L208.81 355.23L209.61 355.28L210.40 355.34L211.20 355.39L212.00 355.45L212.80 355.50L213.59 355.56L214.39 355.61L215.19 355.67L215.98 355.73L216.78 355.78L217.58 355.84L218.37 355.90L219.17 355.96L219.97 356.02L220.76 356.08L221.56 356.14L222.35 356.20L223.15 356.26L223.95 356.33L224.74 356.39L225.54 356.45L226.33 356.52L227.13 356.58L227.92 356.65L228.72 356.71L229.52 356.78L230.31 356.85L231.11 356.91L231.90 356.98L232.70 357.05L233.49 357.12L234.29 357.19L235.08 357.26L235.88 357.34L236.67 357.41L237.46 357.49L238.26 357.57L239.05 357.65L239.84 357.73L240.64 357.82L241.43 357.90L242.22 357.99L243.01 358.08L243.80 358.18L244.59 358.28L245.38 358.38L246.17 358.48L246.96 358.59L247.75 358.70L248.54 358.82L249.33 358.93L250.11 359.06L250.90 359.18L251.68 359.31L252.47 359.45L253.25 359.59L254.03 359.73L254.82 359.88L255.60 360.03L256.38 360.19L257.16 360.35L257.94 360.52L258.71 360.70L259.49 360.87L260.27 361.06L261.04 361.25L261.82 361.45L262.59 361.65L263.36 361.86L264.13 362.07L264.90 362.29L265.67 362.52L266.43 362.76L267.20 363.00" stroke="#ff8a8a" stroke-width="1.3" stroke-dasharray="1.2 1.6 0.45 1.95" stroke-linecap="butt"/>
</g>
<path d="M27.90 210.40H275.30V362.75H27.90" fill="none" stroke="#8a8a8a" stroke-width="1.1"/>
<path d="M27.90 209.90V363.25" fill="none" stroke="#a6a6a6" stroke-width="1.7"/>
<path d="M27.70 362.60v-2.40M27.70 210.37v2.40M38.02 362.60v-1.40M38.02 210.37v1.40M48.34 362.60v-1.40M48.34 210.37v1.40M58.66 362.60v-1.40M58.66 210.37v1.40M68.98 362.60v-2.40M68.98 210.37v2.40M79.30 362.60v-1.40M79.30 210.37v1.40M89.62 362.60v-1.40M89.62 210.37v1.40M99.94 362.60v-1.40M99.94 210.37v1.40M110.26 362.60v-2.40M110.26 210.37v2.40M120.58 362.60v-1.40M120.58 210.37v1.40M130.90 362.60v-1.40M130.90 210.37v1.40M141.22 362.60v-1.40M141.22 210.37v1.40M151.54 362.60v-2.40M151.54 210.37v2.40M161.86 362.60v-1.40M161.86 210.37v1.40M172.18 362.60v-1.40M172.18 210.37v1.40M182.50 362.60v-1.40M182.50 210.37v1.40M192.82 362.60v-2.40M192.82 210.37v2.40M203.14 362.60v-1.40M203.14 210.37v1.40M213.46 362.60v-1.40M213.46 210.37v1.40M223.78 362.60v-1.40M223.78 210.37v1.40M234.10 362.60v-2.40M234.10 210.37v2.40M244.42 362.60v-1.40M244.42 210.37v1.40M254.74 362.60v-1.40M254.74 210.37v1.40M265.06 362.60v-1.40M265.06 210.37v1.40M275.38 362.60v-2.40M275.38 210.37v2.40M27.70 362.60h2.40M275.38 362.60h-2.40M27.70 355.83h1.40M275.38 355.83h-1.40M27.70 349.07h1.40M275.38 349.07h-1.40M27.70 342.30h1.40M275.38 342.30h-1.40M27.70 335.54h1.40M275.38 335.54h-1.40M27.70 328.77h2.40M275.38 328.77h-2.40M27.70 322.00h1.40M275.38 322.00h-1.40M27.70 315.24h1.40M275.38 315.24h-1.40M27.70 308.47h1.40M275.38 308.47h-1.40M27.70 301.71h1.40M275.38 301.71h-1.40M27.70 294.94h2.40M275.38 294.94h-2.40M27.70 288.17h1.40M275.38 288.17h-1.40M27.70 281.41h1.40M275.38 281.41h-1.40M27.70 274.64h1.40M275.38 274.64h-1.40M27.70 267.88h1.40M275.38 267.88h-1.40M27.70 261.11h2.40M275.38 261.11h-2.40M27.70 254.34h1.40M275.38 254.34h-1.40M27.70 247.58h1.40M275.38 247.58h-1.40M27.70 240.81h1.40M275.38 240.81h-1.40M27.70 234.05h1.40M275.38 234.05h-1.40M27.70 227.28h2.40M275.38 227.28h-2.40M27.70 220.51h1.40M275.38 220.51h-1.40M27.70 213.75h1.40M275.38 213.75h-1.40" stroke="#555" stroke-width="0.9" fill="none"/>
<g class="tl"><text x="27.70" y="371.50" text-anchor="middle" textLength="11.1" lengthAdjust="spacingAndGlyphs">0.0</text><text x="68.98" y="371.50" text-anchor="middle" textLength="11.1" lengthAdjust="spacingAndGlyphs">0.2</text><text x="110.26" y="371.50" text-anchor="middle" textLength="11.1" lengthAdjust="spacingAndGlyphs">0.4</text><text x="151.54" y="371.50" text-anchor="middle" textLength="11.1" lengthAdjust="spacingAndGlyphs">0.6</text><text x="192.82" y="371.50" text-anchor="middle" textLength="11.1" lengthAdjust="spacingAndGlyphs">0.8</text><text x="234.10" y="371.50" text-anchor="middle" textLength="11.1" lengthAdjust="spacingAndGlyphs">1.0</text><text x="275.38" y="371.50" text-anchor="middle" textLength="11.1" lengthAdjust="spacingAndGlyphs">1.2</text><text x="26.60" y="365.20" text-anchor="end" textLength="11.1" lengthAdjust="spacingAndGlyphs">0.0</text><text x="26.60" y="331.37" text-anchor="end" textLength="11.1" lengthAdjust="spacingAndGlyphs">0.1</text><text x="26.60" y="297.54" text-anchor="end" textLength="11.1" lengthAdjust="spacingAndGlyphs">0.2</text><text x="26.60" y="263.71" text-anchor="end" textLength="11.1" lengthAdjust="spacingAndGlyphs">0.3</text><text x="26.60" y="229.88" text-anchor="end" textLength="11.1" lengthAdjust="spacingAndGlyphs">0.4</text></g>
<text class="ti" x="151.60" y="206.50" text-anchor="middle"><tspan class="gi">&#967;</tspan>=0.4</text>
<g class="al" transform="translate(136.64 385.50)"><text x="-0.7" y="0">M/</text><path d="M12.00 -3.40 L13.20 -4.00 L15.40 1.90 L17.30 -9.50 H28.40" fill="none" stroke="#222" stroke-width="0.8" stroke-linejoin="miter" stroke-miterlimit="10"/><path d="M13.20 -4.00 L15.40 1.90" fill="none" stroke="#222" stroke-width="1.1"/><text x="18.50" y="0" font-style="italic">&#945;</text><text x="24.40" y="0.8" font-size="6.2">1</text></g>
<g class="al" transform="translate(9.10 302.13) rotate(-90)"><text x="-0.4" y="0">Q</text><text x="5.4" y="1.3" font-size="5.8">s</text><text x="9.9" y="-0.2" font-size="8.4">/</text><path d="M13.60 -2.60 L14.80 -3.20 L17.00 2.70 L18.90 -8.70 H30.00" fill="none" stroke="#222" stroke-width="0.8" stroke-linejoin="miter" stroke-miterlimit="10"/><path d="M14.80 -3.20 L17.00 2.70" fill="none" stroke="#222" stroke-width="1.1"/><text x="20.10" y="0" font-style="italic">&#945;</text><text x="26.00" y="0.8" font-size="6.2">1</text></g>
<clipPath id="clip_p4"><rect x="373.70" y="208.16" width="252.75" height="156.04"/></clipPath>
<g clip-path="url(#clip_p4)" fill="none" stroke-linejoin="round">
<path d="M534.40 268.40L535.09 268.72L535.79 269.05L536.48 269.37L537.18 269.70L537.88 270.04L538.57 270.37L539.27 270.71L539.97 271.05L540.67 271.39L541.38 271.74L542.08 272.09L542.78 272.44L543.49 272.79L544.19 273.15L544.90 273.51L545.60 273.87L546.31 274.23L547.01 274.60L547.72 274.97L548.43 275.35L549.13 275.72L549.84 276.10L550.54 276.48L551.25 276.87L551.96 277.25L552.66 277.64L553.37 278.03L554.07 278.43L554.78 278.83L555.48 279.23L556.18 279.63L556.89 280.04L557.59 280.45L558.29 280.86L558.99 281.28L559.69 281.69L560.39 282.12L561.08 282.54L561.78 282.97L562.47 283.40L563.17 283.83L563.86 284.26L564.55 284.70L565.24 285.14L565.93 285.59L566.61 286.03L567.30 286.48L567.98 286.94L568.66 287.39L569.34 287.85L570.01 288.31L570.69 288.78L571.36 289.25L572.03 289.72L572.70 290.19L573.37 290.67L574.03 291.15L574.69 291.63L575.35 292.12L576.01 292.61L576.66 293.10L577.31 293.60L577.96 294.09L578.60 294.59L579.25 295.10L579.89 295.61L580.52 296.12L581.15 296.63L581.78 297.15L582.41 297.67L583.04 298.19L583.66 298.72L584.27 299.25L584.89 299.78L585.49 300.31L586.10 300.85L586.70 301.39L587.30 301.94L587.90 302.49L588.49 303.04L589.07 303.59L589.66 304.15L590.24 304.71L590.81 305.28L591.38 305.84L591.95 306.42L592.51 306.99L593.06 307.57L593.62 308.15L594.17 308.73L594.71 309.32L595.25 309.91L595.78 310.50L596.31 311.10L596.83 311.70L597.35 312.30L597.87 312.91L598.38 313.52L598.88 314.13L599.38 314.75L599.87 315.37L600.36 315.99L600.84 316.62L601.32 317.25L601.79 317.88L602.26 318.52L602.72 319.16L603.17 319.80L603.62 320.45L604.06 321.10L604.50 321.75L604.93 322.41L605.35 323.07L605.77 323.73L606.18 324.40L606.59 325.07L606.99 325.74L607.38 326.42L607.76 327.10L608.14 327.79L608.52 328.48L608.88 329.17L609.24 329.86L609.59 330.56L609.94 331.26L610.28 331.97L610.61 332.68L610.93 333.39L611.25 334.11L611.56 334.83L611.86 335.55L612.16 336.28L612.45 337.01L612.73 337.74L613.00 338.48L613.26 339.22L613.52 339.96L613.77 340.71L614.01 341.46L614.24 342.22L614.47 342.98L614.69 343.74L614.90 344.51L615.10 345.28L615.29 346.05L615.47 346.83L615.65 347.61L615.82 348.39L615.98 349.18L616.13 349.97L616.27 350.77L616.40 351.57L616.53 352.37L616.64 353.18L616.75 353.99L616.84 354.80L616.93 355.62L617.01 356.44L617.08 357.26L617.14 358.09L617.19 358.93L617.23 359.76L617.27 360.60L617.29 361.45L617.30 362.29L617.31 363.15L617.30 364.00" stroke="#ff9030" stroke-width="1.25" stroke-linecap="butt"/>
<path d="M566.30 290.20L566.99 290.60L567.67 291.01L568.36 291.41L569.04 291.83L569.72 292.25L570.40 292.67L571.07 293.10L571.75 293.54L572.42 293.98L573.09 294.42L573.75 294.87L574.42 295.32L575.08 295.78L575.73 296.25L576.39 296.71L577.04 297.19L577.69 297.66L578.33 298.14L578.98 298.63L579.62 299.12L580.25 299.62L580.89 300.12L581.52 300.62L582.14 301.13L582.76 301.64L583.38 302.16L584.00 302.68L584.61 303.21L585.22 303.74L585.83 304.28L586.43 304.82L587.02 305.36L587.62 305.91L588.21 306.46L588.79 307.02L589.37 307.58L589.95 308.14L590.52 308.71L591.09 309.29L591.65 309.86L592.21 310.45L592.77 311.03L593.32 311.62L593.86 312.22L594.40 312.81L594.94 313.42L595.47 314.02L595.99 314.63L596.52 315.24L597.03 315.86L597.54 316.48L598.05 317.11L598.55 317.74L599.04 318.37L599.53 319.01L600.02 319.65L600.50 320.29L600.97 320.94L601.44 321.59L601.90 322.24L602.36 322.90L602.81 323.56L603.25 324.23L603.69 324.90L604.13 325.57L604.55 326.25L604.97 326.93L605.39 327.61L605.80 328.30L606.20 328.99L606.59 329.68L606.98 330.38L607.37 331.08L607.74 331.78L608.11 332.49L608.48 333.20L608.83 333.91L609.18 334.63L609.52 335.35L609.86 336.07L610.19 336.79L610.51 337.52L610.83 338.25L611.13 338.99L611.43 339.73L611.73 340.47L612.01 341.21L612.29 341.96L612.56 342.71L612.82 343.46L613.08 344.22L613.33 344.98L613.57 345.74L613.80 346.51L614.02 347.27L614.24 348.04L614.45 348.82L614.65 349.59L614.84 350.37L615.02 351.15L615.20 351.94L615.37 352.72L615.52 353.51L615.67 354.30L615.82 355.10L615.95 355.90L616.08 356.69L616.19 357.50L616.30 358.30L616.40 359.11L616.49 359.92L616.57 360.73L616.64 361.54L616.70 362.36L616.76 363.18L616.80 364.00" stroke="#3030ff" stroke-width="1.35" stroke-dasharray="7.3 5.0" stroke-linecap="butt"/>
<path d="M583.50 320.00L584.10 320.53L584.70 321.07L585.29 321.62L585.87 322.17L586.45 322.73L587.02 323.30L587.58 323.87L588.14 324.45L588.69 325.04L589.23 325.63L589.76 326.23L590.29 326.83L590.81 327.44L591.33 328.06L591.83 328.69L592.33 329.31L592.83 329.95L593.31 330.59L593.79 331.24L594.25 331.89L594.71 332.55L595.17 333.21L595.61 333.88L596.05 334.55L596.47 335.23L596.89 335.91L597.30 336.60L597.71 337.29L598.10 337.99L598.49 338.70L598.86 339.40L599.23 340.12L599.59 340.83L599.94 341.55L600.28 342.28L600.61 343.01L600.93 343.74L601.24 344.48L601.54 345.22L601.83 345.97L602.12 346.72L602.39 347.47L602.65 348.23L602.91 348.99L603.15 349.75L603.38 350.52L603.61 351.29L603.82 352.06L604.02 352.84L604.21 353.62L604.39 354.40L604.56 355.19L604.72 355.98L604.87 356.77L605.01 357.56L605.13 358.36L605.25 359.16L605.35 359.96L605.44 360.76L605.53 361.57L605.60 362.38L605.65 363.19L605.70 364.00" stroke="#ff1aff" stroke-width="1.3" stroke-dasharray="1.2 1.6 0.45 1.95" stroke-linecap="butt"/>
<path d="M435.40 334.60L436.21 334.57L437.02 334.54L437.83 334.52L438.64 334.49L439.44 334.47L440.25 334.45L441.06 334.43L441.87 334.42L442.67 334.41L443.48 334.39L444.29 334.38L445.09 334.38L445.90 334.37L446.70 334.37L447.51 334.36L448.31 334.36L449.12 334.36L449.92 334.37L450.73 334.37L451.53 334.38L452.34 334.39L453.14 334.40L453.94 334.41L454.75 334.42L455.55 334.44L456.35 334.46L457.16 334.48L457.96 334.50L458.76 334.52L459.56 334.54L460.36 334.57L461.17 334.59L461.97 334.62L462.77 334.65L463.57 334.68L464.37 334.72L465.17 334.75L465.97 334.79L466.77 334.83L467.57 334.87L468.37 334.91L469.17 334.95L469.97 334.99L470.77 335.04L471.57 335.09L472.37 335.13L473.17 335.18L473.97 335.23L474.77 335.29L475.56 335.34L476.36 335.39L477.16 335.45L477.96 335.51L478.76 335.57L479.55 335.63L480.35 335.69L481.15 335.75L481.95 335.81L482.74 335.88L483.54 335.95L484.34 336.01L485.13 336.08L485.93 336.15L486.73 336.22L487.52 336.30L488.32 336.37L489.12 336.44L489.91 336.52L490.71 336.59L491.51 336.67L492.30 336.75L493.10 336.83L493.89 336.91L494.69 336.99L495.48 337.08L496.28 337.16L497.08 337.24L497.87 337.33L498.67 337.42L499.46 337.50L500.26 337.59L501.05 337.68L501.85 337.77L502.64 337.86L503.44 337.95L504.23 338.05L505.03 338.14L505.82 338.23L506.62 338.33L507.41 338.43L508.21 338.52L509.00 338.62L509.79 338.72L510.59 338.82L511.38 338.92L512.18 339.02L512.97 339.12L513.77 339.22L514.56 339.32L515.36 339.42L516.15 339.53L516.95 339.63L517.74 339.73L518.54 339.84L519.33 339.95L520.12 340.05L520.92 340.16L521.71 340.27L522.51 340.37L523.30 340.48L524.10 340.59L524.89 340.70L525.69 340.81L526.48 340.92L527.28 341.03L528.07 341.14L528.87 341.25L529.66 341.36L530.46 341.48L531.25 341.59L532.05 341.70L532.84 341.81L533.64 341.93L534.43 342.04L535.23 342.16L536.02 342.27L536.82 342.38L537.62 342.50L538.41 342.61L539.21 342.73L540.00 342.84L540.80 342.96L541.59 343.07L542.39 343.19L543.19 343.31L543.98 343.42L544.78 343.54L545.58 343.65L546.37 343.77L547.17 343.89L547.97 344.00L548.76 344.12L549.56 344.23L550.36 344.35L551.15 344.47L551.95 344.58L552.75 344.70L553.55 344.82L554.35 344.93L555.14 345.05L555.94 345.17L556.74 345.28L557.54 345.40L558.33 345.52L559.13 345.64L559.93 345.76L560.73 345.88L561.52 346.00L562.32 346.12L563.12 346.24L563.92 346.36L564.71 346.49L565.51 346.61L566.31 346.74L567.10 346.86L567.90 346.99L568.70 347.12L569.49 347.25L570.29 347.38L571.08 347.51L571.88 347.64L572.67 347.77L573.47 347.91L574.26 348.04L575.05 348.18L575.85 348.32L576.64 348.46L577.43 348.60L578.23 348.74L579.02 348.89L579.81 349.03L580.60 349.18L581.39 349.33L582.18 349.48L582.97 349.64L583.76 349.79L584.55 349.95L585.34 350.11L586.12 350.27L586.91 350.43L587.70 350.60L588.48 350.76L589.27 350.93L590.05 351.10L590.83 351.28L591.62 351.45L592.40 351.63L593.18 351.81L593.96 352.00L594.73 352.19L595.51 352.39L596.28 352.59L597.05 352.80L597.82 353.01L598.58 353.23L599.34 353.46L600.09 353.69L600.84 353.94L601.59 354.19L602.33 354.45L603.06 354.72L603.80 355.00L604.52 355.29L605.24 355.59L605.95 355.91L606.66 356.23L607.36 356.57L608.05 356.92L608.74 357.28L609.41 357.66L610.08 358.05L610.75 358.45L611.40 358.87L612.04 359.31L612.68 359.76L613.30 360.23L613.92 360.71L614.53 361.21L615.12 361.73L615.71 362.27L616.28 362.83L616.85 363.40L617.40 364.00" stroke="#93279f" stroke-width="1.3" stroke-linecap="butt"/>
<path d="M528.00 342.30L528.80 342.37L529.61 342.45L530.41 342.53L531.21 342.61L532.01 342.70L532.81 342.78L533.61 342.87L534.40 342.96L535.20 343.06L536.00 343.16L536.79 343.25L537.59 343.35L538.38 343.46L539.17 343.56L539.97 343.67L540.76 343.78L541.55 343.89L542.34 344.00L543.13 344.11L543.92 344.23L544.71 344.35L545.50 344.46L546.29 344.58L547.08 344.70L547.87 344.83L548.66 344.95L549.45 345.08L550.24 345.20L551.03 345.33L551.81 345.46L552.60 345.59L553.39 345.72L554.18 345.85L554.97 345.98L555.75 346.12L556.54 346.25L557.33 346.39L558.12 346.52L558.91 346.66L559.70 346.79L560.49 346.93L561.27 347.07L562.06 347.20L562.85 347.34L563.64 347.48L564.44 347.62L565.23 347.76L566.02 347.89L566.81 348.03L567.60 348.17L568.40 348.31L569.19 348.45L569.98 348.58L570.78 348.72L571.57 348.86L572.37 348.99L573.17 349.13L573.96 349.27L574.76 349.40L575.56 349.53L576.36 349.67L577.16 349.80L577.96 349.93L578.77 350.06L579.57 350.19L580.37 350.32L581.18 350.45L581.99 350.58L582.79 350.71L583.60 350.83L584.41 350.96L585.21 351.09L586.02 351.22L586.82 351.36L587.63 351.49L588.43 351.63L589.23 351.78L590.03 351.92L590.83 352.07L591.62 352.23L592.41 352.39L593.20 352.55L593.99 352.72L594.77 352.90L595.56 353.08L596.33 353.27L597.10 353.47L597.87 353.68L598.64 353.89L599.40 354.11L600.15 354.34L600.90 354.59L601.65 354.84L602.39 355.10L603.12 355.37L603.85 355.65L604.57 355.95L605.28 356.25L605.99 356.57L606.69 356.91L607.38 357.25L608.07 357.61L608.75 357.98L609.42 358.37L610.08 358.77L610.73 359.19L611.38 359.62L612.02 360.07L612.64 360.53L613.26 361.02L613.87 361.52L614.47 362.03L615.05 362.57L615.63 363.12L616.20 363.69L616.76 364.29L617.30 364.90" stroke="#30eeff" stroke-width="1.35" stroke-dasharray="7.3 5.0" stroke-linecap="butt"/>
<path d="M533.60 348.00L534.41 347.99L535.22 347.98L536.03 347.97L536.84 347.97L537.64 347.97L538.45 347.98L539.26 347.99L540.06 348.01L540.87 348.02L541.67 348.04L542.48 348.07L543.28 348.10L544.09 348.13L544.89 348.17L545.69 348.21L546.50 348.25L547.30 348.30L548.10 348.35L548.90 348.40L549.70 348.46L550.50 348.52L551.30 348.58L552.10 348.65L552.90 348.72L553.69 348.80L554.49 348.88L555.29 348.96L556.08 349.04L556.88 349.13L557.68 349.22L558.47 349.31L559.26 349.41L560.06 349.51L560.85 349.61L561.64 349.72L562.44 349.83L563.23 349.94L564.02 350.06L564.81 350.18L565.60 350.30L566.39 350.43L567.18 350.55L567.97 350.68L568.76 350.82L569.55 350.96L570.33 351.09L571.12 351.24L571.91 351.38L572.69 351.53L573.48 351.68L574.26 351.83L575.05 351.99L575.83 352.15L576.61 352.31L577.40 352.47L578.18 352.64L578.96 352.81L579.74 352.98L580.52 353.15L581.30 353.33L582.08 353.51L582.86 353.69L583.64 353.88L584.42 354.06L585.20 354.25L585.97 354.44L586.75 354.64L587.53 354.83L588.30 355.03L589.08 355.23L589.85 355.43L590.62 355.64L591.40 355.84L592.17 356.05L592.94 356.26L593.72 356.48L594.49 356.69L595.26 356.91L596.03 357.13L596.80 357.35L597.57 357.57L598.34 357.80L599.11 358.03L599.88 358.26L600.64 358.49L601.41 358.72L602.18 358.96L602.94 359.19L603.71 359.43L604.47 359.67L605.24 359.91L606.00 360.16L606.76 360.40L607.53 360.65L608.29 360.90L609.05 361.15L609.81 361.40L610.57 361.65L611.33 361.91L612.09 362.16L612.85 362.42L613.61 362.68L614.37 362.94L615.13 363.21L615.89 363.47L616.64 363.73L617.40 364.00" stroke="#9a6633" stroke-width="1.3" stroke-dasharray="1.2 1.6 0.45 1.95" stroke-linecap="butt"/>
<path d="M414.40 355.40L415.20 355.37L416.00 355.35L416.80 355.32L417.60 355.30L418.40 355.27L419.20 355.25L420.00 355.23L420.80 355.21L421.61 355.19L422.41 355.17L423.21 355.15L424.01 355.13L424.81 355.12L425.61 355.10L426.41 355.08L427.21 355.07L428.01 355.05L428.81 355.04L429.61 355.03L430.41 355.02L431.21 355.00L432.01 354.99L432.81 354.98L433.61 354.97L434.41 354.97L435.22 354.96L436.02 354.95L436.82 354.94L437.62 354.94L438.42 354.93L439.22 354.93L440.02 354.93L440.82 354.92L441.62 354.92L442.42 354.92L443.22 354.92L444.02 354.92L444.82 354.92L445.62 354.92L446.42 354.92L447.22 354.92L448.02 354.92L448.83 354.93L449.63 354.93L450.43 354.93L451.23 354.94L452.03 354.94L452.83 354.95L453.63 354.96L454.43 354.96L455.23 354.97L456.03 354.98L456.83 354.99L457.63 355.00L458.43 355.00L459.23 355.01L460.03 355.03L460.84 355.04L461.64 355.05L462.44 355.06L463.24 355.07L464.04 355.09L464.84 355.10L465.64 355.11L466.44 355.13L467.24 355.14L468.04 355.16L468.84 355.17L469.64 355.19L470.44 355.21L471.24 355.22L472.05 355.24L472.85 355.26L473.65 355.28L474.45 355.30L475.25 355.32L476.05 355.34L476.85 355.36L477.65 355.38L478.45 355.40L479.25 355.42L480.05 355.44L480.85 355.46L481.65 355.48L482.45 355.51L483.26 355.53L484.06 355.55L484.86 355.57L485.66 355.60L486.46 355.62L487.26 355.65L488.06 355.67L488.86 355.70L489.66 355.72L490.46 355.75L491.26 355.77L492.06 355.80L492.87 355.83L493.67 355.85L494.47 355.88L495.27 355.91L496.07 355.93L496.87 355.96L497.67 355.99L498.47 356.02L499.27 356.05L500.07 356.07L500.87 356.10L501.67 356.13L502.48 356.16L503.28 356.19L504.08 356.22L504.88 356.25L505.68 356.28L506.48 356.31L507.28 356.34L508.08 356.37L508.88 356.40L509.68 356.43L510.48 356.46L511.29 356.49L512.09 356.53L512.89 356.56L513.69 356.59L514.49 356.62L515.29 356.65L516.09 356.68L516.89 356.72L517.69 356.75L518.49 356.78L519.29 356.81L520.10 356.84L520.90 356.88L521.70 356.91L522.50 356.94L523.30 356.97L524.10 357.00L524.90 357.04L525.70 357.07L526.50 357.10L527.30 357.13L528.11 357.17L528.91 357.20L529.71 357.23L530.51 357.26L531.31 357.30L532.11 357.33L532.91 357.36L533.71 357.40L534.51 357.43L535.32 357.46L536.12 357.49L536.92 357.53L537.72 357.56L538.52 357.59L539.32 357.63L540.12 357.66L540.92 357.69L541.72 357.73L542.52 357.76L543.33 357.80L544.13 357.83L544.93 357.87L545.73 357.90L546.53 357.94L547.33 357.97L548.13 358.01L548.93 358.04L549.73 358.08L550.53 358.12L551.33 358.16L552.13 358.19L552.93 358.23L553.73 358.27L554.53 358.31L555.33 358.35L556.13 358.39L556.93 358.43L557.73 358.47L558.53 358.51L559.33 358.55L560.13 358.60L560.93 358.64L561.73 358.68L562.53 358.73L563.33 358.77L564.13 358.82L564.93 358.86L565.73 358.91L566.53 358.96L567.33 359.00L568.13 359.05L568.93 359.10L569.73 359.15L570.52 359.20L571.32 359.25L572.12 359.31L572.92 359.36L573.72 359.41L574.52 359.47L575.31 359.52L576.11 359.58L576.91 359.64L577.71 359.69L578.51 359.75L579.30 359.81L580.10 359.87L580.90 359.93L581.69 360.00L582.49 360.06L583.29 360.12L584.09 360.19L584.88 360.26L585.68 360.32L586.47 360.39L587.27 360.46L588.07 360.53L588.86 360.60L589.66 360.67L590.45 360.75L591.25 360.82L592.04 360.90L592.84 360.97L593.64 361.05L594.43 361.13L595.22 361.21L596.02 361.29L596.81 361.38L597.61 361.46L598.40 361.55L599.20 361.63L599.99 361.72L600.78 361.81L601.58 361.90L602.37 361.99L603.16 362.08L603.95 362.18L604.75 362.27L605.54 362.37L606.33 362.47L607.12 362.57L607.92 362.67L608.71 362.77L609.50 362.88L610.29 362.98L611.08 363.09L611.87 363.20L612.66 363.31L613.45 363.42L614.24 363.53L615.03 363.64L615.82 363.76L616.61 363.88L617.40 364.00" stroke="#ff3a3a" stroke-width="1.25" stroke-linecap="butt"/>
<path d="M468.00 356.30L468.80 356.31L469.60 356.33L470.40 356.34L471.20 356.35L472.00 356.37L472.80 356.38L473.60 356.40L474.40 356.42L475.19 356.43L475.99 356.45L476.79 356.46L477.59 356.48L478.39 356.50L479.19 356.52L479.99 356.53L480.79 356.55L481.59 356.57L482.39 356.59L483.19 356.61L483.99 356.63L484.79 356.65L485.59 356.67L486.39 356.69L487.19 356.71L488.00 356.73L488.80 356.75L489.60 356.77L490.40 356.79L491.20 356.81L492.00 356.83L492.80 356.85L493.60 356.88L494.40 356.90L495.20 356.92L496.00 356.95L496.80 356.97L497.60 356.99L498.40 357.02L499.20 357.04L500.00 357.06L500.81 357.09L501.61 357.11L502.41 357.14L503.21 357.16L504.01 357.19L504.81 357.21L505.61 357.24L506.41 357.26L507.21 357.29L508.02 357.32L508.82 357.34L509.62 357.37L510.42 357.40L511.22 357.42L512.02 357.45L512.82 357.48L513.62 357.51L514.43 357.53L515.23 357.56L516.03 357.59L516.83 357.62L517.63 357.65L518.43 357.68L519.23 357.71L520.03 357.73L520.84 357.76L521.64 357.79L522.44 357.82L523.24 357.85L524.04 357.88L524.84 357.91L525.65 357.94L526.45 357.97L527.25 358.01L528.05 358.04L528.85 358.07L529.65 358.10L530.45 358.13L531.26 358.16L532.06 358.19L532.86 358.22L533.66 358.26L534.46 358.29L535.26 358.32L536.07 358.35L536.87 358.38L537.67 358.42L538.47 358.45L539.27 358.48L540.07 358.52L540.87 358.55L541.68 358.58L542.48 358.61L543.28 358.65L544.08 358.68L544.88 358.71L545.68 358.75L546.49 358.78L547.29 358.82L548.09 358.85L548.89 358.88L549.69 358.92L550.49 358.95L551.29 358.99L552.10 359.02L552.90 359.06L553.70 359.09L554.50 359.13L555.30 359.16L556.10 359.20L556.90 359.23L557.70 359.27L558.51 359.31L559.31 359.34L560.11 359.38L560.91 359.42L561.71 359.46L562.51 359.49L563.31 359.53L564.11 359.57L564.91 359.61L565.71 359.65L566.51 359.69L567.31 359.74L568.11 359.78L568.91 359.82L569.71 359.87L570.51 359.91L571.31 359.96L572.11 360.00L572.91 360.05L573.71 360.10L574.51 360.15L575.31 360.20L576.11 360.25L576.91 360.30L577.71 360.35L578.51 360.41L579.31 360.46L580.11 360.52L580.90 360.57L581.70 360.63L582.50 360.69L583.30 360.75L584.10 360.81L584.89 360.87L585.69 360.94L586.49 361.00L587.28 361.07L588.08 361.14L588.88 361.21L589.67 361.28L590.47 361.35L591.27 361.42L592.06 361.50L592.86 361.57L593.65 361.65L594.45 361.73L595.24 361.81L596.04 361.89L596.83 361.97L597.63 362.06L598.42 362.15L599.21 362.24L600.01 362.33L600.80 362.42L601.60 362.51L602.39 362.61L603.18 362.70L603.97 362.80L604.76 362.91L605.56 363.01L606.35 363.11L607.14 363.22L607.93 363.33L608.72 363.44L609.51 363.55L610.30 363.67L611.09 363.78L611.88 363.90L612.67 364.03L613.46 364.15L614.25 364.27L615.04 364.40L615.83 364.53L616.61 364.66L617.40 364.80" stroke="#30e030" stroke-width="1.35" stroke-dasharray="7.3 5.0" stroke-linecap="butt"/>
<path d="M508.00 361.40L508.80 361.30L509.59 361.20L510.39 361.10L511.19 361.01L511.99 360.92L512.78 360.84L513.58 360.75L514.38 360.67L515.18 360.59L515.98 360.51L516.78 360.44L517.57 360.37L518.37 360.30L519.17 360.23L519.97 360.17L520.77 360.11L521.57 360.05L522.37 359.99L523.17 359.94L523.97 359.89L524.77 359.84L525.57 359.79L526.37 359.75L527.18 359.70L527.98 359.66L528.78 359.63L529.58 359.59L530.38 359.56L531.18 359.53L531.98 359.50L532.78 359.47L533.59 359.45L534.39 359.42L535.19 359.40L535.99 359.38L536.80 359.37L537.60 359.35L538.40 359.34L539.20 359.33L540.01 359.32L540.81 359.32L541.61 359.31L542.41 359.31L543.22 359.31L544.02 359.31L544.82 359.31L545.63 359.31L546.43 359.32L547.23 359.33L548.04 359.34L548.84 359.35L549.64 359.36L550.45 359.37L551.25 359.39L552.05 359.41L552.86 359.43L553.66 359.45L554.47 359.47L555.27 359.49L556.07 359.52L556.88 359.55L557.68 359.57L558.48 359.60L559.29 359.63L560.09 359.67L560.90 359.70L561.70 359.73L562.50 359.77L563.31 359.81L564.11 359.85L564.92 359.89L565.72 359.93L566.52 359.97L567.33 360.01L568.13 360.06L568.93 360.10L569.74 360.15L570.54 360.20L571.35 360.25L572.15 360.30L572.95 360.35L573.76 360.40L574.56 360.45L575.36 360.50L576.17 360.56L576.97 360.61L577.77 360.67L578.58 360.73L579.38 360.79L580.18 360.84L580.99 360.90L581.79 360.96L582.59 361.02L583.40 361.09L584.20 361.15L585.00 361.21L585.80 361.28L586.61 361.34L587.41 361.40L588.21 361.47L589.01 361.54L589.82 361.60L590.62 361.67L591.42 361.74L592.22 361.80L593.02 361.87L593.82 361.94L594.63 362.01L595.43 362.08L596.23 362.15L597.03 362.22L597.83 362.29L598.63 362.36L599.43 362.43L600.23 362.50L601.03 362.57L601.83 362.64L602.63 362.71L603.43 362.79L604.23 362.86L605.03 362.93L605.83 363.00L606.63 363.07L607.43 363.14L608.23 363.22L609.02 363.29L609.82 363.36L610.62 363.43L611.42 363.50L612.22 363.57L613.01 363.65L613.81 363.72L614.61 363.79L615.41 363.86L616.20 363.93L617.00 364.00" stroke="#ff8a8a" stroke-width="1.3" stroke-dasharray="1.2 1.6 0.45 1.95" stroke-linecap="butt"/>
</g>
<path d="M373.90 208.40H626.50V364.25H373.90" fill="none" stroke="#8a8a8a" stroke-width="1.1"/>
<path d="M373.90 207.90V364.75" fill="none" stroke="#a6a6a6" stroke-width="1.7"/>
<path d="M373.70 364.20v-2.40M373.70 208.16v2.40M383.81 364.20v-1.40M383.81 208.16v1.40M393.92 364.20v-1.40M393.92 208.16v1.40M404.03 364.20v-1.40M404.03 208.16v1.40M414.14 364.20v-2.40M414.14 208.16v2.40M424.25 364.20v-1.40M424.25 208.16v1.40M434.36 364.20v-1.40M434.36 208.16v1.40M444.47 364.20v-1.40M444.47 208.16v1.40M454.58 364.20v-2.40M454.58 208.16v2.40M464.69 364.20v-1.40M464.69 208.16v1.40M474.80 364.20v-1.40M474.80 208.16v1.40M484.91 364.20v-1.40M484.91 208.16v1.40M495.02 364.20v-2.40M495.02 208.16v2.40M505.13 364.20v-1.40M505.13 208.16v1.40M515.24 364.20v-1.40M515.24 208.16v1.40M525.35 364.20v-1.40M525.35 208.16v1.40M535.46 364.20v-2.40M535.46 208.16v2.40M545.57 364.20v-1.40M545.57 208.16v1.40M555.68 364.20v-1.40M555.68 208.16v1.40M565.79 364.20v-1.40M565.79 208.16v1.40M575.90 364.20v-2.40M575.90 208.16v2.40M586.01 364.20v-1.40M586.01 208.16v1.40M596.12 364.20v-1.40M596.12 208.16v1.40M606.23 364.20v-1.40M606.23 208.16v1.40M616.34 364.20v-2.40M616.34 208.16v2.40M626.45 364.20v-1.40M626.45 208.16v1.40M373.70 364.20h2.40M626.45 364.20h-2.40M373.70 357.26h1.40M626.45 357.26h-1.40M373.70 350.33h1.40M626.45 350.33h-1.40M373.70 343.39h1.40M626.45 343.39h-1.40M373.70 336.46h1.40M626.45 336.46h-1.40M373.70 329.52h2.40M626.45 329.52h-2.40M373.70 322.59h1.40M626.45 322.59h-1.40M373.70 315.65h1.40M626.45 315.65h-1.40M373.70 308.72h1.40M626.45 308.72h-1.40M373.70 301.78h1.40M626.45 301.78h-1.40M373.70 294.85h2.40M626.45 294.85h-2.40M373.70 287.91h1.40M626.45 287.91h-1.40M373.70 280.98h1.40M626.45 280.98h-1.40M373.70 274.04h1.40M626.45 274.04h-1.40M373.70 267.11h1.40M626.45 267.11h-1.40M373.70 260.18h2.40M626.45 260.18h-2.40M373.70 253.24h1.40M626.45 253.24h-1.40M373.70 246.30h1.40M626.45 246.30h-1.40M373.70 239.37h1.40M626.45 239.37h-1.40M373.70 232.43h1.40M626.45 232.43h-1.40M373.70 225.50h2.40M626.45 225.50h-2.40M373.70 218.56h1.40M626.45 218.56h-1.40M373.70 211.63h1.40M626.45 211.63h-1.40" stroke="#555" stroke-width="0.9" fill="none"/>
<g class="tl"><text x="373.70" y="373.10" text-anchor="middle" textLength="11.1" lengthAdjust="spacingAndGlyphs">0.0</text><text x="414.14" y="373.10" text-anchor="middle" textLength="11.1" lengthAdjust="spacingAndGlyphs">0.2</text><text x="454.58" y="373.10" text-anchor="middle" textLength="11.1" lengthAdjust="spacingAndGlyphs">0.4</text><text x="495.02" y="373.10" text-anchor="middle" textLength="11.1" lengthAdjust="spacingAndGlyphs">0.6</text><text x="535.46" y="373.10" text-anchor="middle" textLength="11.1" lengthAdjust="spacingAndGlyphs">0.8</text><text x="575.90" y="373.10" text-anchor="middle" textLength="11.1" lengthAdjust="spacingAndGlyphs">1.0</text><text x="616.34" y="373.10" text-anchor="middle" textLength="11.1" lengthAdjust="spacingAndGlyphs">1.2</text><text x="372.60" y="366.80" text-anchor="end" textLength="11.1" lengthAdjust="spacingAndGlyphs">0.0</text><text x="372.60" y="332.12" text-anchor="end" textLength="11.1" lengthAdjust="spacingAndGlyphs">0.1</text><text x="372.60" y="297.45" text-anchor="end" textLength="11.1" lengthAdjust="spacingAndGlyphs">0.2</text><text x="372.60" y="262.77" text-anchor="end" textLength="11.1" lengthAdjust="spacingAndGlyphs">0.3</text><text x="372.60" y="228.10" text-anchor="end" textLength="11.1" lengthAdjust="spacingAndGlyphs">0.4</text></g>
<text class="ti" x="500.10" y="204.40" text-anchor="middle"><tspan class="gi">&#967;</tspan>=0.8</text>
<g class="al" transform="translate(485.18 387.10)"><text x="-0.7" y="0">M/</text><path d="M12.00 -3.40 L13.20 -4.00 L15.40 1.90 L17.30 -9.50 H28.40" fill="none" stroke="#222" stroke-width="0.8" stroke-linejoin="miter" stroke-miterlimit="10"/><path d="M13.20 -4.00 L15.40 1.90" fill="none" stroke="#222" stroke-width="1.1"/><text x="18.50" y="0" font-style="italic">&#945;</text><text x="24.40" y="0.8" font-size="6.2">1</text></g>
<g class="al" transform="translate(355.10 301.83) rotate(-90)"><text x="-0.4" y="0">Q</text><text x="5.4" y="1.3" font-size="5.8">s</text><text x="9.9" y="-0.2" font-size="8.4">/</text><path d="M13.60 -2.60 L14.80 -3.20 L17.00 2.70 L18.90 -8.70 H30.00" fill="none" stroke="#222" stroke-width="0.8" stroke-linejoin="miter" stroke-miterlimit="10"/><path d="M14.80 -3.20 L17.00 2.70" fill="none" stroke="#222" stroke-width="1.1"/><text x="20.10" y="0" font-style="italic">&#945;</text><text x="26.00" y="0.8" font-size="6.2">1</text></g>
<path d="M629.90 58.30h16.4" stroke="#ff9030" stroke-width="1.25" stroke-linecap="butt" fill="none"/>
<text class="lg" x="649.10" y="60.10"><tspan font-style="italic">&#954;</tspan>=6,<tspan font-style="italic">&#945;</tspan><tspan font-size="3.4" dy="0.9">2</tspan><tspan dy="-0.9">=0</tspan></text>
<path d="M629.90 67.50h16.4" stroke="#3030ff" stroke-width="1.35" stroke-dasharray="4.4 2.4" stroke-linecap="butt" fill="none"/>
<text class="lg" x="649.10" y="69.30"><tspan font-style="italic">&#954;</tspan>=6,<tspan font-style="italic">&#945;</tspan><tspan font-size="3.4" dy="0.9">2</tspan><tspan dy="-0.9">=0.3</tspan></text>
<path d="M629.90 76.70h16.4" stroke="#ff1aff" stroke-width="1.3" stroke-dasharray="1.2 1.6 0.45 1.95" stroke-linecap="butt" fill="none"/>
<text class="lg" x="649.10" y="78.50"><tspan font-style="italic">&#954;</tspan>=6,<tspan font-style="italic">&#945;</tspan><tspan font-size="3.4" dy="0.9">2</tspan><tspan dy="-0.9">=0.5</tspan></text>
<path d="M629.90 85.90h16.4" stroke="#93279f" stroke-width="1.3" stroke-linecap="butt" fill="none"/>
<text class="lg" x="649.10" y="87.70"><tspan font-style="italic">&#954;</tspan>=100,<tspan font-style="italic">&#945;</tspan><tspan font-size="3.4" dy="0.9">2</tspan><tspan dy="-0.9">=0</tspan></text>
<path d="M629.90 95.10h16.4" stroke="#30eeff" stroke-width="1.35" stroke-dasharray="4.4 2.4" stroke-linecap="butt" fill="none"/>
<text class="lg" x="649.10" y="96.90"><tspan font-style="italic">&#954;</tspan>=100,<tspan font-style="italic">&#945;</tspan><tspan font-size="3.4" dy="0.9">2</tspan><tspan dy="-0.9">=0.3</tspan></text>
<path d="M629.90 104.30h16.4" stroke="#9a6633" stroke-width="1.3" stroke-dasharray="1.2 1.6 0.45 1.95" stroke-linecap="butt" fill="none"/>
<text class="lg" x="649.10" y="106.10"><tspan font-style="italic">&#954;</tspan>=100,<tspan font-style="italic">&#945;</tspan><tspan font-size="3.4" dy="0.9">2</tspan><tspan dy="-0.9">=0.5</tspan></text>
<path d="M629.90 113.50h16.4" stroke="#ff3a3a" stroke-width="1.25" stroke-linecap="butt" fill="none"/>
<text class="lg" x="649.10" y="115.30"><tspan font-style="italic">&#954;</tspan>=1000,<tspan font-style="italic">&#945;</tspan><tspan font-size="3.4" dy="0.9">2</tspan><tspan dy="-0.9">=0</tspan></text>
<path d="M629.90 122.70h16.4" stroke="#30e030" stroke-width="1.35" stroke-dasharray="4.4 2.4" stroke-linecap="butt" fill="none"/>
<text class="lg" x="649.10" y="124.50"><tspan font-style="italic">&#954;</tspan>=1000,<tspan font-style="italic">&#945;</tspan><tspan font-size="3.4" dy="0.9">2</tspan><tspan dy="-0.9">=0.3</tspan></text>
<path d="M629.90 131.90h16.4" stroke="#ff8a8a" stroke-width="1.3" stroke-dasharray="1.2 1.6 0.45 1.95" stroke-linecap="butt" fill="none"/>
<text class="lg" x="649.10" y="133.70"><tspan font-style="italic">&#954;</tspan>=1000,<tspan font-style="italic">&#945;</tspan><tspan font-size="3.4" dy="0.9">2</tspan><tspan dy="-0.9">=0.5</tspan></text>
<path d="M630.90 255.60h16.4" stroke="#ff9030" stroke-width="1.25" stroke-linecap="butt" fill="none"/>
<text class="lg" x="650.10" y="257.40"><tspan font-style="italic">&#954;</tspan>=6,<tspan font-style="italic">&#945;</tspan><tspan font-size="3.4" dy="0.9">2</tspan><tspan dy="-0.9">=0</tspan></text>
<path d="M630.90 264.82h16.4" stroke="#3030ff" stroke-width="1.35" stroke-dasharray="4.4 2.4" stroke-linecap="butt" fill="none"/>
<text class="lg" x="650.10" y="266.62"><tspan font-style="italic">&#954;</tspan>=6,<tspan font-style="italic">&#945;</tspan><tspan font-size="3.4" dy="0.9">2</tspan><tspan dy="-0.9">=0.3</tspan></text>
<path d="M630.90 274.04h16.4" stroke="#ff1aff" stroke-width="1.3" stroke-dasharray="1.2 1.6 0.45 1.95" stroke-linecap="butt" fill="none"/>
<text class="lg" x="650.10" y="275.84"><tspan font-style="italic">&#954;</tspan>=6,<tspan font-style="italic">&#945;</tspan><tspan font-size="3.4" dy="0.9">2</tspan><tspan dy="-0.9">=0.5</tspan></text>
<path d="M630.90 283.26h16.4" stroke="#93279f" stroke-width="1.3" stroke-linecap="butt" fill="none"/>
<text class="lg" x="650.10" y="285.06"><tspan font-style="italic">&#954;</tspan>=100,<tspan font-style="italic">&#945;</tspan><tspan font-size="3.4" dy="0.9">2</tspan><tspan dy="-0.9">=0</tspan></text>
<path d="M630.90 292.48h16.4" stroke="#30eeff" stroke-width="1.35" stroke-dasharray="4.4 2.4" stroke-linecap="butt" fill="none"/>
<text class="lg" x="650.10" y="294.28"><tspan font-style="italic">&#954;</tspan>=100,<tspan font-style="italic">&#945;</tspan><tspan font-size="3.4" dy="0.9">2</tspan><tspan dy="-0.9">=0.3</tspan></text>
<path d="M630.90 301.70h16.4" stroke="#9a6633" stroke-width="1.3" stroke-dasharray="1.2 1.6 0.45 1.95" stroke-linecap="butt" fill="none"/>
<text class="lg" x="650.10" y="303.50"><tspan font-style="italic">&#954;</tspan>=100,<tspan font-style="italic">&#945;</tspan><tspan font-size="3.4" dy="0.9">2</tspan><tspan dy="-0.9">=0.5</tspan></text>
<path d="M630.90 310.92h16.4" stroke="#ff3a3a" stroke-width="1.25" stroke-linecap="butt" fill="none"/>
<text class="lg" x="650.10" y="312.72"><tspan font-style="italic">&#954;</tspan>=1000,<tspan font-style="italic">&#945;</tspan><tspan font-size="3.4" dy="0.9">2</tspan><tspan dy="-0.9">=0</tspan></text>
<path d="M630.90 320.14h16.4" stroke="#30e030" stroke-width="1.35" stroke-dasharray="4.4 2.4" stroke-linecap="butt" fill="none"/>
<text class="lg" x="650.10" y="321.94"><tspan font-style="italic">&#954;</tspan>=1000,<tspan font-style="italic">&#945;</tspan><tspan font-size="3.4" dy="0.9">2</tspan><tspan dy="-0.9">=0.3</tspan></text>
<path d="M630.90 329.36h16.4" stroke="#ff8a8a" stroke-width="1.3" stroke-dasharray="1.2 1.6 0.45 1.95" stroke-linecap="butt" fill="none"/>
<text class="lg" x="650.10" y="331.16"><tspan font-style="italic">&#954;</tspan>=1000,<tspan font-style="italic">&#945;</tspan><tspan font-size="3.4" dy="0.9">2</tspan><tspan dy="-0.9">=0.5</tspan></text>
</svg></body></html>
